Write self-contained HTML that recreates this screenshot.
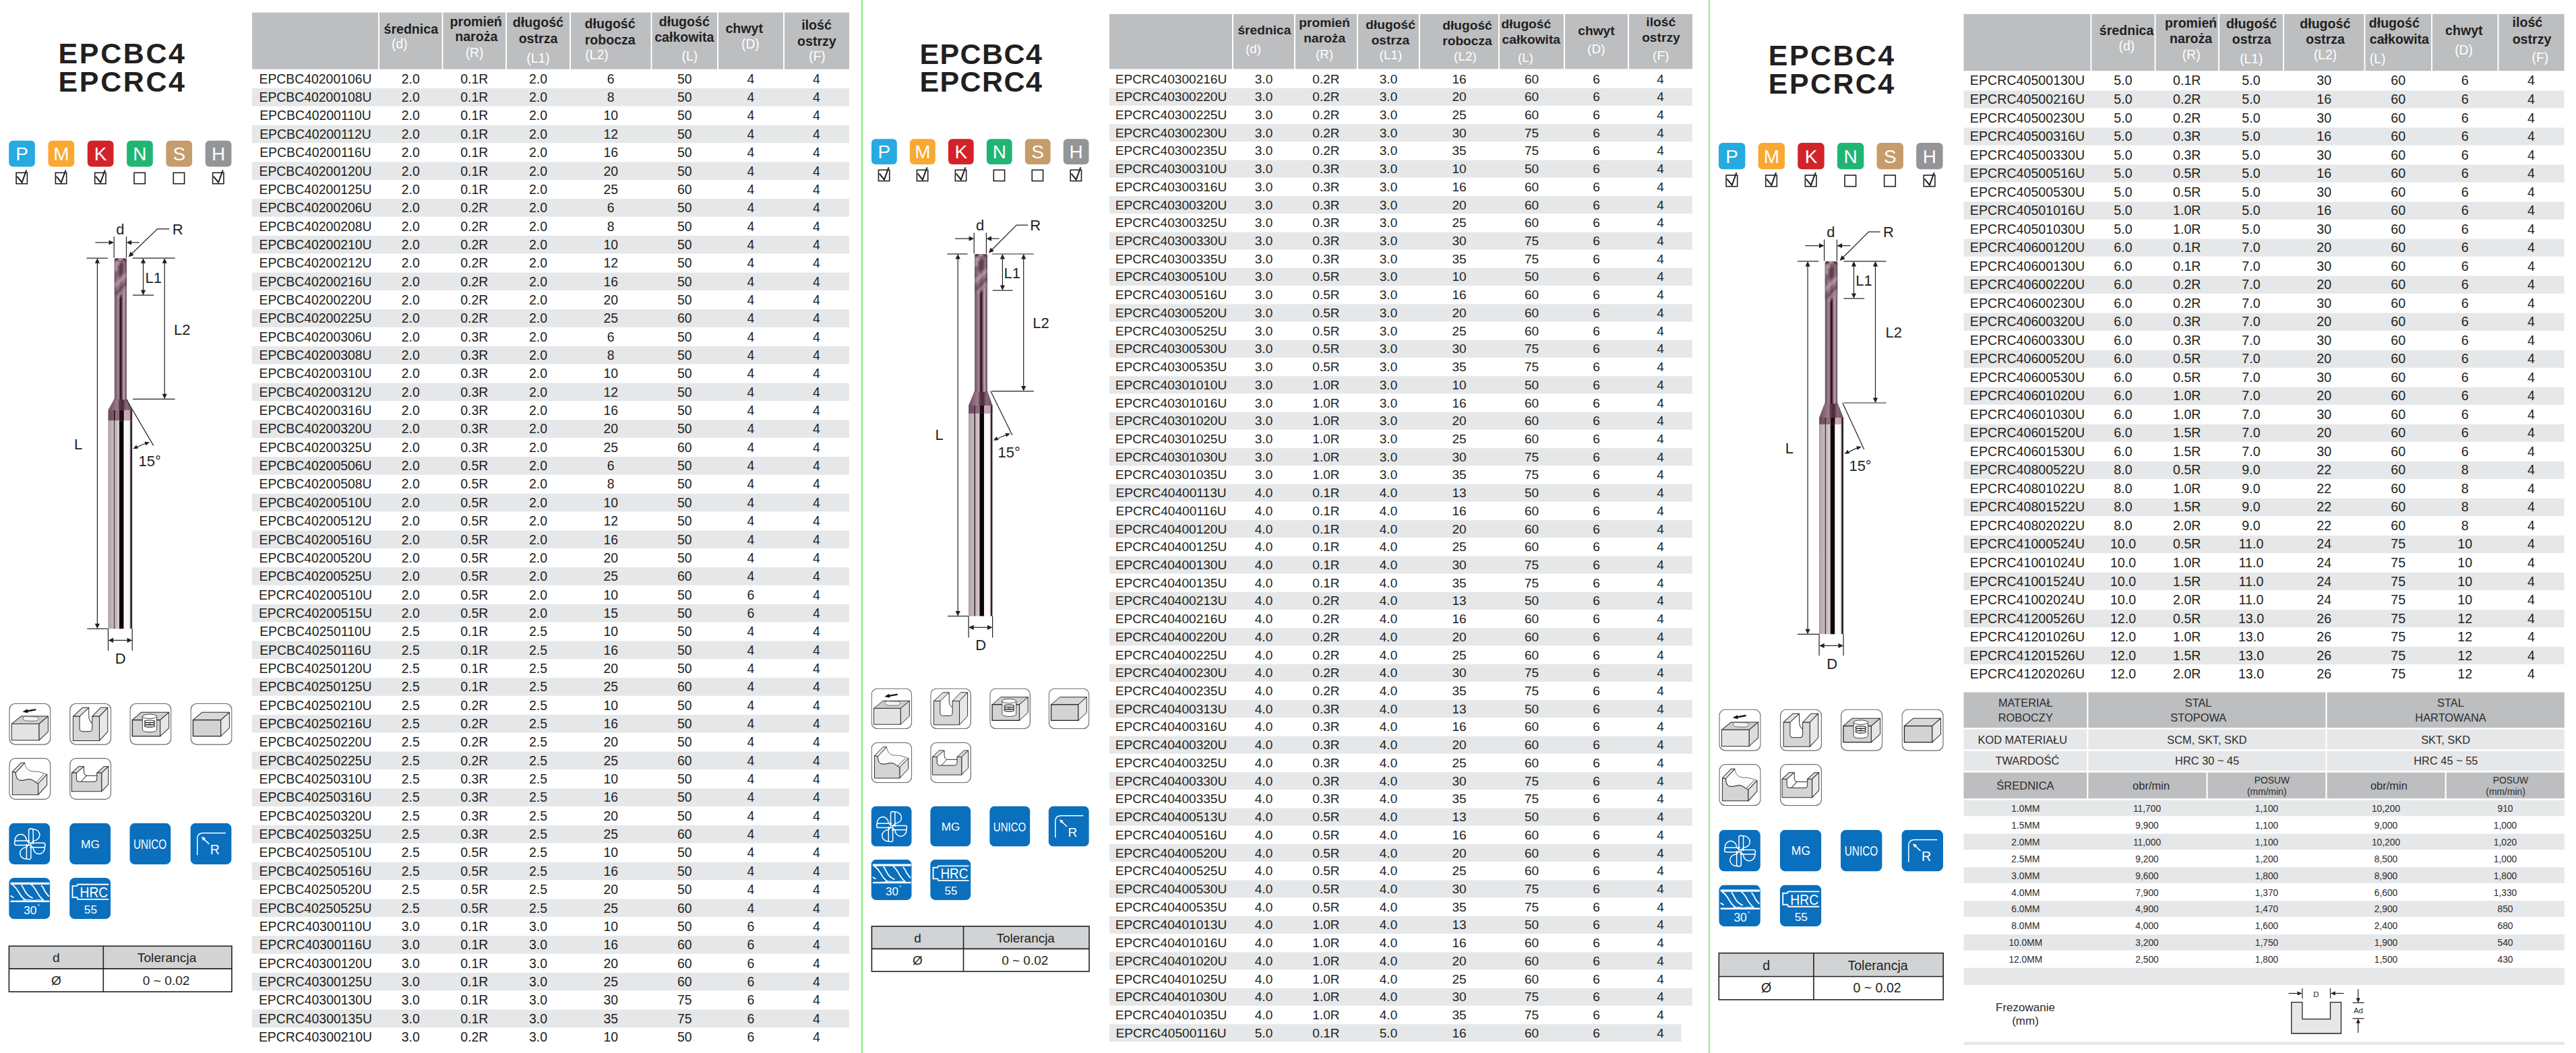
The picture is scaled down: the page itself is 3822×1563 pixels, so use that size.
<!DOCTYPE html>
<html lang="pl"><head><meta charset="utf-8"><title>EPCBC4 / EPCRC4</title>
<style>
html,body{margin:0;padding:0;background:#fff;}
body{width:3822px;height:1563px;overflow:hidden;}
svg{display:block;font-family:'Liberation Sans', sans-serif;}
</style></head>
<body>
<svg width="3822" height="1563" viewBox="0 0 3822 1563">
<defs>
<filter id="soft" x="-20%" y="-20%" width="140%" height="140%"><feGaussianBlur stdDeviation="0.9"/></filter>
<linearGradient id="coat" x1="0" x2="1" y1="0" y2="0">
<stop offset="0" stop-color="#6a5a62"/><stop offset="0.08" stop-color="#7a6068"/>
<stop offset="0.2" stop-color="#8e707c"/><stop offset="0.3" stop-color="#a88c98"/>
<stop offset="0.4" stop-color="#80606c"/><stop offset="0.47" stop-color="#3a1c28"/>
<stop offset="0.52" stop-color="#260c16"/><stop offset="0.58" stop-color="#4a2e3a"/>
<stop offset="0.64" stop-color="#7a5e6a"/><stop offset="0.78" stop-color="#c8a8b8"/>
<stop offset="0.88" stop-color="#8a7080"/><stop offset="1" stop-color="#62505a"/></linearGradient>
<linearGradient id="cone" x1="0" x2="1" y1="0" y2="0">
<stop offset="0" stop-color="#6a4a58"/><stop offset="0.2" stop-color="#86657a"/>
<stop offset="0.4" stop-color="#9c7c8c"/><stop offset="0.47" stop-color="#5a3a48"/>
<stop offset="0.6" stop-color="#4a2a38"/><stop offset="0.75" stop-color="#8a6a7a"/>
<stop offset="1" stop-color="#6a4a58"/></linearGradient>
<linearGradient id="band" x1="0" x2="1" y1="0" y2="0">
<stop offset="0" stop-color="#6a4a58"/><stop offset="0.23" stop-color="#7a5868"/>
<stop offset="0.24" stop-color="#3a2230"/><stop offset="0.28" stop-color="#3a2230"/>
<stop offset="0.29" stop-color="#8d6d7c"/><stop offset="0.46" stop-color="#8a6a78"/>
<stop offset="0.48" stop-color="#1e0c12"/><stop offset="0.64" stop-color="#1e0c12"/>
<stop offset="0.66" stop-color="#cda9b9"/><stop offset="0.91" stop-color="#c4a2b2"/>
<stop offset="0.93" stop-color="#3a2430"/><stop offset="1" stop-color="#3a2430"/></linearGradient>
<linearGradient id="shank" x1="0" x2="1" y1="0" y2="0">
<stop offset="0" stop-color="#978b90"/><stop offset="0.03" stop-color="#b2a6ab"/>
<stop offset="0.2" stop-color="#c6babf"/><stop offset="0.232" stop-color="#beb2b7"/>
<stop offset="0.24" stop-color="#3a2c30"/><stop offset="0.268" stop-color="#3a2c30"/>
<stop offset="0.28" stop-color="#bdb1b6"/><stop offset="0.45" stop-color="#dacdd2"/>
<stop offset="0.47" stop-color="#1a0e12"/><stop offset="0.5" stop-color="#0a0406"/>
<stop offset="0.63" stop-color="#0a0406"/><stop offset="0.655" stop-color="#f2eff0"/>
<stop offset="0.68" stop-color="#fbfafa"/><stop offset="0.88" stop-color="#f8f6f7"/>
<stop offset="0.915" stop-color="#b8a9ae"/><stop offset="0.935" stop-color="#2a2226"/>
<stop offset="0.985" stop-color="#2a2226"/><stop offset="1" stop-color="#6a6064"/></linearGradient>
<linearGradient id="tipg" x1="0" x2="1" y1="0" y2="0">
<stop offset="0" stop-color="#6a5060"/><stop offset="0.3" stop-color="#9a7a88"/>
<stop offset="0.55" stop-color="#7a5a68"/><stop offset="0.8" stop-color="#a08090"/>
<stop offset="1" stop-color="#5a4450"/></linearGradient>

<symbol id="pi1" viewBox="0 0 62 62"><rect x="0.7" y="0.7" width="60.6" height="60.6" rx="9" fill="#fff" stroke="#6d6e71" stroke-width="1.3"/>
<polygon points="4.1,30.6 44.7,30.6 58,19.3 18,19.3" fill="#cdcdcd" stroke="#2b2b2b" stroke-width="1" stroke-linejoin="round"/>
<rect x="4.1" y="30.6" width="40.6" height="24.3" fill="#e4e4e4" stroke="#2b2b2b" stroke-width="1" stroke-linejoin="round"/>
<polygon points="44.7,30.6 58,19.3 58,42.2 44.7,54.9" fill="#dcdcdc" stroke="#2b2b2b" stroke-width="1" stroke-linejoin="round"/>
<path d="M21,22.5 Q20,19.5 26,19.8 L40,20.2 Q45,20.6 43.5,24 Q42.5,26.4 38,26.4 L26,26.2 Q21.5,26 21,22.5 Z" fill="#f2f2f2" stroke="#555" stroke-width="0.8"/>
<path d="M39,9.7 L26,12" stroke="#111" stroke-width="2.4" stroke-linecap="round"/>
<path d="M20.2,12.9 L27.2,8.6 L28.3,14.6 Z" fill="#111"/>
</symbol>
<symbol id="pi2" viewBox="0 0 62 62"><rect x="0.7" y="0.7" width="60.6" height="60.6" rx="9" fill="#fff" stroke="#6d6e71" stroke-width="1.3"/>
<polygon points="5.3,19.6 15,19.6 28.6,6.6 19.3,6.6" fill="#e2e2e2" stroke="#2b2b2b" stroke-width="1" stroke-linejoin="round"/>
<polygon points="33.6,19.6 44.2,19.6 56.5,6.6 46.2,6.6" fill="#e2e2e2" stroke="#2b2b2b" stroke-width="1" stroke-linejoin="round"/>
<polygon points="44.2,19.6 56.5,6.6 56.5,42.2 44.2,55.5" fill="#e8e8e8" stroke="#2b2b2b" stroke-width="1" stroke-linejoin="round"/>
<path d="M28.6,6.6 V19 Q28.6,26.5 33.6,29.5" fill="none" stroke="#2b2b2b" stroke-width="1" stroke-linejoin="round"/>
<path d="M5.3,19.6 H15 V37.5 Q15,41.9 19.5,41.9 H29.2 Q33.6,41.9 33.6,37.5 V19.6 H44.2 V55.5 H5.3 Z" fill="#d6d6d6" stroke="#2b2b2b" stroke-width="1" stroke-linejoin="round"/>
</symbol>
<symbol id="pi3" viewBox="0 0 62 62"><rect x="0.7" y="0.7" width="60.6" height="60.6" rx="9" fill="#fff" stroke="#6d6e71" stroke-width="1.3"/>
<polygon points="4,24.9 45.2,24.9 58.2,13.6 17,13.6" fill="#cfcfcf" stroke="#2b2b2b" stroke-width="1" stroke-linejoin="round"/>
<rect x="4" y="24.9" width="41.2" height="24" fill="#d3d3d3" stroke="#222" stroke-width="1.3"/>
<polygon points="45.2,24.9 58.2,13.6 58.2,36.9 45.2,48.9" fill="#e6e6e6" stroke="#2b2b2b" stroke-width="1" stroke-linejoin="round"/>
<path d="M19,19.6 V39.6 A10.6,3.3 0 0 0 40.2,39.6 V19.6 Z" fill="#fff" stroke="#333" stroke-width="0.9"/>
<ellipse cx="29.6" cy="19.6" rx="10.6" ry="3.3" fill="#fff" stroke="#333" stroke-width="0.9"/>
<ellipse cx="29.6" cy="27" rx="7.6" ry="1.8" fill="none" stroke="#222" stroke-width="1.2"/>
<ellipse cx="29.6" cy="30.3" rx="7.6" ry="1.8" fill="none" stroke="#222" stroke-width="1.2"/>
<ellipse cx="29.6" cy="33.6" rx="7.6" ry="1.8" fill="none" stroke="#222" stroke-width="1.2"/>
<ellipse cx="29.6" cy="30.3" rx="2" ry="1" fill="#999"/>
</symbol>
<symbol id="pi4" viewBox="0 0 62 62"><rect x="0.7" y="0.7" width="60.6" height="60.6" rx="9" fill="#fff" stroke="#6d6e71" stroke-width="1.3"/>
<polygon points="4,24.9 45.2,24.9 57.8,13.6 17.3,13.6" fill="#d8d8d8" stroke="#2b2b2b" stroke-width="1" stroke-linejoin="round"/>
<rect x="4" y="24.9" width="41.2" height="24" fill="#d3d3d3" stroke="#222" stroke-width="1.3"/>
<polygon points="45.2,24.9 57.8,13.6 57.8,36.9 45.2,48.9" fill="#e8e8e8" stroke="#2b2b2b" stroke-width="1" stroke-linejoin="round"/>
</symbol>
<symbol id="pi5" viewBox="0 0 62 62"><rect x="0.7" y="0.7" width="60.6" height="60.6" rx="9" fill="#fff" stroke="#6d6e71" stroke-width="1.3"/>
<path d="M10.1,21.6 L23.4,7.3 C24,13 27,18 33,19.6 C38,20.8 41,19.3 44.7,20.6 L56.3,24.3 L43.4,37.9 C38.5,36.5 36,31.5 30,31.6 C24,31.8 21,34.2 16,33 C11,31.8 10.2,26.5 10.1,21.6 Z" fill="#fafafa" stroke="#444" stroke-width="0.8"/>
<polygon points="5.1,20.6 18.1,7.3 23.4,7.3 10.1,21.6" fill="#e8e8e8" stroke="#2b2b2b" stroke-width="1" stroke-linejoin="round"/>
<path d="M5.1,20.6 L10.1,21.6 C10.2,26.5 11,31.8 16,33 C21,34.2 24,31.8 30,31.6 C36,31.5 38.5,36.5 43.4,37.9 V54.5 H5.1 Z" fill="#d4d4d4" stroke="#2b2b2b" stroke-width="1" stroke-linejoin="round"/>
<polygon points="43.4,37.9 56.3,24.3 56.3,40.2 43.4,54.5" fill="#e2e2e2" stroke="#2b2b2b" stroke-width="1" stroke-linejoin="round"/>
<path d="M39.5,36.8 L52,24.3" stroke="#333" stroke-width="0.9"/>
</symbol>
<symbol id="pi6" viewBox="0 0 62 62"><rect x="0.7" y="0.7" width="60.6" height="60.6" rx="9" fill="#fff" stroke="#6d6e71" stroke-width="1.3"/>
<polygon points="3.3,22.3 10.3,22.3 21.3,12.6 13.6,12.6" fill="#dcdcdc" stroke="#2b2b2b" stroke-width="1" stroke-linejoin="round"/>
<polygon points="40.6,22.3 47.5,22.3 57.5,12.6 51.2,12.6" fill="#dcdcdc" stroke="#2b2b2b" stroke-width="1" stroke-linejoin="round"/>
<polygon points="47.5,22.3 57.5,12.6 57.5,39.2 47.5,49.5" fill="#e8e8e8" stroke="#2b2b2b" stroke-width="1" stroke-linejoin="round"/>
<path d="M21.3,12.6 V21 Q21.3,24.5 25,26.3 H40.6" fill="none" stroke="#2b2b2b" stroke-width="1" stroke-linejoin="round"/>
<path d="M25,26.3 L17.2,34.9" fill="none" stroke="#2b2b2b" stroke-width="1" stroke-linejoin="round"/>
<path d="M3.3,22.3 H10.3 V31 Q10.3,35.2 14.5,35.2 H36.4 Q40.6,35.2 40.6,31 V22.3 H47.5 V49.5 H3.3 Z" fill="#d4d4d4" stroke="#2b2b2b" stroke-width="1" stroke-linejoin="round"/>
</symbol>

<symbol id="bi1" viewBox="0 0 61 61"><rect width="61" height="61" rx="8" fill="#0A6FBD"/>
<g stroke="#fff" fill="none" stroke-width="1.5"><path d="M29.4,32 V10.6 Q29.4,8.3 32.6,8.3 Q35.9,8.3 35.9,10.6 V31 M35.9,8.8 A9.7,8.7 0 0 1 35.9,26.2 M35.9,26.2 L33,30"/><path d="M29.4,32 V10.6 Q29.4,8.3 32.6,8.3 Q35.9,8.3 35.9,10.6 V31 M35.9,8.8 A9.7,8.7 0 0 1 35.9,26.2 M35.9,26.2 L33,30" transform="rotate(90 31 31)"/><path d="M29.4,32 V10.6 Q29.4,8.3 32.6,8.3 Q35.9,8.3 35.9,10.6 V31 M35.9,8.8 A9.7,8.7 0 0 1 35.9,26.2 M35.9,26.2 L33,30" transform="rotate(180 31 31)"/><path d="M29.4,32 V10.6 Q29.4,8.3 32.6,8.3 Q35.9,8.3 35.9,10.6 V31 M35.9,8.8 A9.7,8.7 0 0 1 35.9,26.2 M35.9,26.2 L33,30" transform="rotate(270 31 31)"/></g></symbol>
<symbol id="bi2" viewBox="0 0 61 61"><rect width="61" height="61" rx="8" fill="#0A6FBD"/>
<text x="30.8" y="37" font-size="17.3" text-anchor="middle" fill="#fff">MG</text></symbol>
<symbol id="bi3" viewBox="0 0 61 61"><rect width="61" height="61" rx="8" fill="#0A6FBD"/>
<text x="5.7" y="37.7" font-size="19.3" fill="#fff" textLength="49.1" lengthAdjust="spacingAndGlyphs">UNICO</text></symbol>
<symbol id="bi4" viewBox="0 0 61 61"><rect width="61" height="61" rx="8" fill="#0A6FBD"/>
<path d="M10.3,47.4 V23 Q10.3,14.6 19,14.6 H52.4" stroke="#fff" fill="none" stroke-width="1.5"/>
<path d="M27.8,31 L19.5,23" stroke="#fff" fill="none" stroke-width="1.5"/><path d="M16.4,20 L22.6,22.2 L18.8,26 Z" fill="#fff"/>
<text x="29.2" y="45.9" font-size="19.5" fill="#fff">R</text></symbol>
<symbol id="bi5" viewBox="0 0 61 61"><rect width="61" height="61" rx="8" fill="#0A6FBD"/>
<rect x="2.4" y="6.8" width="57.6" height="3.2" fill="#fff"/><rect x="2.4" y="33.5" width="57.6" height="2.5" fill="#fff"/>
<g stroke="#fff" fill="none" stroke-width="1.8"><path d="M4.7,10 C9,12 12,17 15.3,22.4 C17,25.5 20,30 24.7,33"/><path d="M18.3,10.6 C21,13 22,17 23.6,19.4 C25,22.5 28,27 35.3,30"/>
<path d="M33,10 C36,12 40,18 43,23.6 C46,28 48,31 51.2,33"/><path d="M47.7,11.2 C50,13 52,17 53,19.4 C55,22.5 57,25.5 59.5,27.7"/><path d="M2.4,26.5 L7.1,29.4"/></g>
<path d="M20,33.5 Q28,31.5 36,33.5 M36,33.5 Q44,31.8 52,33.5" stroke="#fff" stroke-width="1" fill="none"/>
<text x="31.5" y="53.6" font-size="17.3" text-anchor="middle" fill="#fff">30</text>
<circle cx="43.9" cy="40.3" r="1.2" fill="none" stroke="#fff" stroke-width="0.6"/></symbol>
<symbol id="bi6" viewBox="0 0 61 61"><rect width="61" height="61" rx="8" fill="#0A6FBD"/>
<path d="M58,9.7 H12.1 L10.9,12.1 H4.4 V28.9 H11.2 L12.4,31.8 H58" stroke="#fff" fill="none" stroke-width="1.9"/>
<text x="15.4" y="28.9" font-size="21.8" fill="#fff" textLength="41.6" lengthAdjust="spacingAndGlyphs">HRC</text>
<text x="31.2" y="53.3" font-size="17.2" text-anchor="middle" fill="#fff">55</text></symbol>
</defs>
<rect width="3822" height="1563" fill="#ffffff"/>
<rect x="1277.2" y="0" width="3.6" height="1563" fill="#DDFADA"/>
<rect x="1278" y="0" width="1.9" height="1563" fill="#8FEE88"/>
<rect x="2534.2" y="0" width="3.4" height="1563" fill="#E2F8DF"/>
<rect x="2535" y="0" width="1.8" height="1563" fill="#A2E39C"/>
<rect x="374" y="18.6" width="187" height="84.1" fill="#BCBEC0"/>
<rect x="563" y="18.6" width="92.5" height="84.1" fill="#BCBEC0"/>
<rect x="657.5" y="18.6" width="92.5" height="84.1" fill="#BCBEC0"/>
<rect x="752" y="18.6" width="93" height="84.1" fill="#BCBEC0"/>
<rect x="847" y="18.6" width="118.5" height="84.1" fill="#BCBEC0"/>
<rect x="967.5" y="18.6" width="96.5" height="84.1" fill="#BCBEC0"/>
<rect x="1066" y="18.6" width="96" height="84.1" fill="#BCBEC0"/>
<rect x="1164" y="18.6" width="96" height="84.1" fill="#BCBEC0"/>
<text x="609.8" y="49.6" font-size="19.6" font-weight="bold" text-anchor="middle" fill="#231F20">średnica</text>
<text x="592.9" y="71.9" font-size="19.3" text-anchor="middle" fill="#FFFFFF">(d)</text>
<text x="706.2" y="38.5" font-size="19.6" font-weight="bold" text-anchor="middle" fill="#231F20">promień</text>
<text x="706.8" y="61.2" font-size="19.6" font-weight="bold" text-anchor="middle" fill="#231F20">naroża</text>
<text x="704.1" y="84.7" font-size="19.3" text-anchor="middle" fill="#FFFFFF">(R)</text>
<text x="798.4" y="39.7" font-size="19.6" font-weight="bold" text-anchor="middle" fill="#231F20">długość</text>
<text x="798.5" y="64.2" font-size="19.6" font-weight="bold" text-anchor="middle" fill="#231F20">ostrza</text>
<text x="798.5" y="92.8" font-size="19.3" text-anchor="middle" fill="#FFFFFF">(L1)</text>
<text x="905.1" y="41.7" font-size="19.6" font-weight="bold" text-anchor="middle" fill="#231F20">długość</text>
<text x="905.2" y="65.9" font-size="19.6" font-weight="bold" text-anchor="middle" fill="#231F20">robocza</text>
<text x="885.5" y="87.5" font-size="19.3" text-anchor="middle" fill="#FFFFFF">(L2)</text>
<text x="1015.3" y="39.2" font-size="19.6" font-weight="bold" text-anchor="middle" fill="#231F20">długość</text>
<text x="1015.3" y="61.8" font-size="19.6" font-weight="bold" text-anchor="middle" fill="#231F20">całkowita</text>
<text x="1023.3" y="90" font-size="19.3" text-anchor="middle" fill="#FFFFFF">(L)</text>
<text x="1104.2" y="49.2" font-size="19.6" font-weight="bold" text-anchor="middle" fill="#231F20">chwyt</text>
<text x="1113.4" y="72.4" font-size="19.3" text-anchor="middle" fill="#FFFFFF">(D)</text>
<text x="1211.5" y="44.2" font-size="19.6" font-weight="bold" text-anchor="middle" fill="#231F20">ilość</text>
<text x="1211.9" y="67.6" font-size="19.6" font-weight="bold" text-anchor="middle" fill="#231F20">ostrzy</text>
<text x="1212.3" y="90" font-size="19.3" text-anchor="middle" fill="#FFFFFF">(F)</text>
<text x="468" y="123.77" font-size="19.4" text-anchor="middle" fill="#231F20">EPCBC40200106U</text>
<text x="609.25" y="123.77" font-size="19.4" text-anchor="middle" fill="#231F20">2.0</text>
<text x="703.75" y="123.77" font-size="19.4" text-anchor="middle" fill="#231F20">0.1R</text>
<text x="798.5" y="123.77" font-size="19.4" text-anchor="middle" fill="#231F20">2.0</text>
<text x="906.25" y="123.77" font-size="19.4" text-anchor="middle" fill="#231F20">6</text>
<text x="1015.75" y="123.77" font-size="19.4" text-anchor="middle" fill="#231F20">50</text>
<text x="1114" y="123.77" font-size="19.4" text-anchor="middle" fill="#231F20">4</text>
<text x="1211.5" y="123.77" font-size="19.4" text-anchor="middle" fill="#231F20">4</text>
<rect x="374" y="131.05" width="886" height="26.55" fill="#E6E7E8"/>
<text x="468" y="151.13" font-size="19.4" text-anchor="middle" fill="#231F20">EPCBC40200108U</text>
<text x="609.25" y="151.13" font-size="19.4" text-anchor="middle" fill="#231F20">2.0</text>
<text x="703.75" y="151.13" font-size="19.4" text-anchor="middle" fill="#231F20">0.1R</text>
<text x="798.5" y="151.13" font-size="19.4" text-anchor="middle" fill="#231F20">2.0</text>
<text x="906.25" y="151.13" font-size="19.4" text-anchor="middle" fill="#231F20">8</text>
<text x="1015.75" y="151.13" font-size="19.4" text-anchor="middle" fill="#231F20">50</text>
<text x="1114" y="151.13" font-size="19.4" text-anchor="middle" fill="#231F20">4</text>
<text x="1211.5" y="151.13" font-size="19.4" text-anchor="middle" fill="#231F20">4</text>
<text x="468" y="178.48" font-size="19.4" text-anchor="middle" fill="#231F20">EPCBC40200110U</text>
<text x="609.25" y="178.48" font-size="19.4" text-anchor="middle" fill="#231F20">2.0</text>
<text x="703.75" y="178.48" font-size="19.4" text-anchor="middle" fill="#231F20">0.1R</text>
<text x="798.5" y="178.48" font-size="19.4" text-anchor="middle" fill="#231F20">2.0</text>
<text x="906.25" y="178.48" font-size="19.4" text-anchor="middle" fill="#231F20">10</text>
<text x="1015.75" y="178.48" font-size="19.4" text-anchor="middle" fill="#231F20">50</text>
<text x="1114" y="178.48" font-size="19.4" text-anchor="middle" fill="#231F20">4</text>
<text x="1211.5" y="178.48" font-size="19.4" text-anchor="middle" fill="#231F20">4</text>
<rect x="374" y="185.75" width="886" height="26.55" fill="#E6E7E8"/>
<text x="468" y="205.83" font-size="19.4" text-anchor="middle" fill="#231F20">EPCBC40200112U</text>
<text x="609.25" y="205.83" font-size="19.4" text-anchor="middle" fill="#231F20">2.0</text>
<text x="703.75" y="205.83" font-size="19.4" text-anchor="middle" fill="#231F20">0.1R</text>
<text x="798.5" y="205.83" font-size="19.4" text-anchor="middle" fill="#231F20">2.0</text>
<text x="906.25" y="205.83" font-size="19.4" text-anchor="middle" fill="#231F20">12</text>
<text x="1015.75" y="205.83" font-size="19.4" text-anchor="middle" fill="#231F20">50</text>
<text x="1114" y="205.83" font-size="19.4" text-anchor="middle" fill="#231F20">4</text>
<text x="1211.5" y="205.83" font-size="19.4" text-anchor="middle" fill="#231F20">4</text>
<text x="468" y="233.18" font-size="19.4" text-anchor="middle" fill="#231F20">EPCBC40200116U</text>
<text x="609.25" y="233.18" font-size="19.4" text-anchor="middle" fill="#231F20">2.0</text>
<text x="703.75" y="233.18" font-size="19.4" text-anchor="middle" fill="#231F20">0.1R</text>
<text x="798.5" y="233.18" font-size="19.4" text-anchor="middle" fill="#231F20">2.0</text>
<text x="906.25" y="233.18" font-size="19.4" text-anchor="middle" fill="#231F20">16</text>
<text x="1015.75" y="233.18" font-size="19.4" text-anchor="middle" fill="#231F20">50</text>
<text x="1114" y="233.18" font-size="19.4" text-anchor="middle" fill="#231F20">4</text>
<text x="1211.5" y="233.18" font-size="19.4" text-anchor="middle" fill="#231F20">4</text>
<rect x="374" y="240.45" width="886" height="26.55" fill="#E6E7E8"/>
<text x="468" y="260.53" font-size="19.4" text-anchor="middle" fill="#231F20">EPCBC40200120U</text>
<text x="609.25" y="260.53" font-size="19.4" text-anchor="middle" fill="#231F20">2.0</text>
<text x="703.75" y="260.53" font-size="19.4" text-anchor="middle" fill="#231F20">0.1R</text>
<text x="798.5" y="260.53" font-size="19.4" text-anchor="middle" fill="#231F20">2.0</text>
<text x="906.25" y="260.53" font-size="19.4" text-anchor="middle" fill="#231F20">20</text>
<text x="1015.75" y="260.53" font-size="19.4" text-anchor="middle" fill="#231F20">50</text>
<text x="1114" y="260.53" font-size="19.4" text-anchor="middle" fill="#231F20">4</text>
<text x="1211.5" y="260.53" font-size="19.4" text-anchor="middle" fill="#231F20">4</text>
<text x="468" y="287.88" font-size="19.4" text-anchor="middle" fill="#231F20">EPCBC40200125U</text>
<text x="609.25" y="287.88" font-size="19.4" text-anchor="middle" fill="#231F20">2.0</text>
<text x="703.75" y="287.88" font-size="19.4" text-anchor="middle" fill="#231F20">0.1R</text>
<text x="798.5" y="287.88" font-size="19.4" text-anchor="middle" fill="#231F20">2.0</text>
<text x="906.25" y="287.88" font-size="19.4" text-anchor="middle" fill="#231F20">25</text>
<text x="1015.75" y="287.88" font-size="19.4" text-anchor="middle" fill="#231F20">60</text>
<text x="1114" y="287.88" font-size="19.4" text-anchor="middle" fill="#231F20">4</text>
<text x="1211.5" y="287.88" font-size="19.4" text-anchor="middle" fill="#231F20">4</text>
<rect x="374" y="295.15" width="886" height="26.55" fill="#E6E7E8"/>
<text x="468" y="315.23" font-size="19.4" text-anchor="middle" fill="#231F20">EPCBC40200206U</text>
<text x="609.25" y="315.23" font-size="19.4" text-anchor="middle" fill="#231F20">2.0</text>
<text x="703.75" y="315.23" font-size="19.4" text-anchor="middle" fill="#231F20">0.2R</text>
<text x="798.5" y="315.23" font-size="19.4" text-anchor="middle" fill="#231F20">2.0</text>
<text x="906.25" y="315.23" font-size="19.4" text-anchor="middle" fill="#231F20">6</text>
<text x="1015.75" y="315.23" font-size="19.4" text-anchor="middle" fill="#231F20">50</text>
<text x="1114" y="315.23" font-size="19.4" text-anchor="middle" fill="#231F20">4</text>
<text x="1211.5" y="315.23" font-size="19.4" text-anchor="middle" fill="#231F20">4</text>
<text x="468" y="342.58" font-size="19.4" text-anchor="middle" fill="#231F20">EPCBC40200208U</text>
<text x="609.25" y="342.58" font-size="19.4" text-anchor="middle" fill="#231F20">2.0</text>
<text x="703.75" y="342.58" font-size="19.4" text-anchor="middle" fill="#231F20">0.2R</text>
<text x="798.5" y="342.58" font-size="19.4" text-anchor="middle" fill="#231F20">2.0</text>
<text x="906.25" y="342.58" font-size="19.4" text-anchor="middle" fill="#231F20">8</text>
<text x="1015.75" y="342.58" font-size="19.4" text-anchor="middle" fill="#231F20">50</text>
<text x="1114" y="342.58" font-size="19.4" text-anchor="middle" fill="#231F20">4</text>
<text x="1211.5" y="342.58" font-size="19.4" text-anchor="middle" fill="#231F20">4</text>
<rect x="374" y="349.85" width="886" height="26.55" fill="#E6E7E8"/>
<text x="468" y="369.93" font-size="19.4" text-anchor="middle" fill="#231F20">EPCBC40200210U</text>
<text x="609.25" y="369.93" font-size="19.4" text-anchor="middle" fill="#231F20">2.0</text>
<text x="703.75" y="369.93" font-size="19.4" text-anchor="middle" fill="#231F20">0.2R</text>
<text x="798.5" y="369.93" font-size="19.4" text-anchor="middle" fill="#231F20">2.0</text>
<text x="906.25" y="369.93" font-size="19.4" text-anchor="middle" fill="#231F20">10</text>
<text x="1015.75" y="369.93" font-size="19.4" text-anchor="middle" fill="#231F20">50</text>
<text x="1114" y="369.93" font-size="19.4" text-anchor="middle" fill="#231F20">4</text>
<text x="1211.5" y="369.93" font-size="19.4" text-anchor="middle" fill="#231F20">4</text>
<text x="468" y="397.28" font-size="19.4" text-anchor="middle" fill="#231F20">EPCBC40200212U</text>
<text x="609.25" y="397.28" font-size="19.4" text-anchor="middle" fill="#231F20">2.0</text>
<text x="703.75" y="397.28" font-size="19.4" text-anchor="middle" fill="#231F20">0.2R</text>
<text x="798.5" y="397.28" font-size="19.4" text-anchor="middle" fill="#231F20">2.0</text>
<text x="906.25" y="397.28" font-size="19.4" text-anchor="middle" fill="#231F20">12</text>
<text x="1015.75" y="397.28" font-size="19.4" text-anchor="middle" fill="#231F20">50</text>
<text x="1114" y="397.28" font-size="19.4" text-anchor="middle" fill="#231F20">4</text>
<text x="1211.5" y="397.28" font-size="19.4" text-anchor="middle" fill="#231F20">4</text>
<rect x="374" y="404.55" width="886" height="26.55" fill="#E6E7E8"/>
<text x="468" y="424.63" font-size="19.4" text-anchor="middle" fill="#231F20">EPCBC40200216U</text>
<text x="609.25" y="424.63" font-size="19.4" text-anchor="middle" fill="#231F20">2.0</text>
<text x="703.75" y="424.63" font-size="19.4" text-anchor="middle" fill="#231F20">0.2R</text>
<text x="798.5" y="424.63" font-size="19.4" text-anchor="middle" fill="#231F20">2.0</text>
<text x="906.25" y="424.63" font-size="19.4" text-anchor="middle" fill="#231F20">16</text>
<text x="1015.75" y="424.63" font-size="19.4" text-anchor="middle" fill="#231F20">50</text>
<text x="1114" y="424.63" font-size="19.4" text-anchor="middle" fill="#231F20">4</text>
<text x="1211.5" y="424.63" font-size="19.4" text-anchor="middle" fill="#231F20">4</text>
<text x="468" y="451.98" font-size="19.4" text-anchor="middle" fill="#231F20">EPCBC40200220U</text>
<text x="609.25" y="451.98" font-size="19.4" text-anchor="middle" fill="#231F20">2.0</text>
<text x="703.75" y="451.98" font-size="19.4" text-anchor="middle" fill="#231F20">0.2R</text>
<text x="798.5" y="451.98" font-size="19.4" text-anchor="middle" fill="#231F20">2.0</text>
<text x="906.25" y="451.98" font-size="19.4" text-anchor="middle" fill="#231F20">20</text>
<text x="1015.75" y="451.98" font-size="19.4" text-anchor="middle" fill="#231F20">50</text>
<text x="1114" y="451.98" font-size="19.4" text-anchor="middle" fill="#231F20">4</text>
<text x="1211.5" y="451.98" font-size="19.4" text-anchor="middle" fill="#231F20">4</text>
<rect x="374" y="459.25" width="886" height="26.55" fill="#E6E7E8"/>
<text x="468" y="479.33" font-size="19.4" text-anchor="middle" fill="#231F20">EPCBC40200225U</text>
<text x="609.25" y="479.33" font-size="19.4" text-anchor="middle" fill="#231F20">2.0</text>
<text x="703.75" y="479.33" font-size="19.4" text-anchor="middle" fill="#231F20">0.2R</text>
<text x="798.5" y="479.33" font-size="19.4" text-anchor="middle" fill="#231F20">2.0</text>
<text x="906.25" y="479.33" font-size="19.4" text-anchor="middle" fill="#231F20">25</text>
<text x="1015.75" y="479.33" font-size="19.4" text-anchor="middle" fill="#231F20">60</text>
<text x="1114" y="479.33" font-size="19.4" text-anchor="middle" fill="#231F20">4</text>
<text x="1211.5" y="479.33" font-size="19.4" text-anchor="middle" fill="#231F20">4</text>
<text x="468" y="506.68" font-size="19.4" text-anchor="middle" fill="#231F20">EPCBC40200306U</text>
<text x="609.25" y="506.68" font-size="19.4" text-anchor="middle" fill="#231F20">2.0</text>
<text x="703.75" y="506.68" font-size="19.4" text-anchor="middle" fill="#231F20">0.3R</text>
<text x="798.5" y="506.68" font-size="19.4" text-anchor="middle" fill="#231F20">2.0</text>
<text x="906.25" y="506.68" font-size="19.4" text-anchor="middle" fill="#231F20">6</text>
<text x="1015.75" y="506.68" font-size="19.4" text-anchor="middle" fill="#231F20">50</text>
<text x="1114" y="506.68" font-size="19.4" text-anchor="middle" fill="#231F20">4</text>
<text x="1211.5" y="506.68" font-size="19.4" text-anchor="middle" fill="#231F20">4</text>
<rect x="374" y="513.95" width="886" height="26.55" fill="#E6E7E8"/>
<text x="468" y="534.02" font-size="19.4" text-anchor="middle" fill="#231F20">EPCBC40200308U</text>
<text x="609.25" y="534.02" font-size="19.4" text-anchor="middle" fill="#231F20">2.0</text>
<text x="703.75" y="534.02" font-size="19.4" text-anchor="middle" fill="#231F20">0.3R</text>
<text x="798.5" y="534.02" font-size="19.4" text-anchor="middle" fill="#231F20">2.0</text>
<text x="906.25" y="534.02" font-size="19.4" text-anchor="middle" fill="#231F20">8</text>
<text x="1015.75" y="534.02" font-size="19.4" text-anchor="middle" fill="#231F20">50</text>
<text x="1114" y="534.02" font-size="19.4" text-anchor="middle" fill="#231F20">4</text>
<text x="1211.5" y="534.02" font-size="19.4" text-anchor="middle" fill="#231F20">4</text>
<text x="468" y="561.37" font-size="19.4" text-anchor="middle" fill="#231F20">EPCBC40200310U</text>
<text x="609.25" y="561.37" font-size="19.4" text-anchor="middle" fill="#231F20">2.0</text>
<text x="703.75" y="561.37" font-size="19.4" text-anchor="middle" fill="#231F20">0.3R</text>
<text x="798.5" y="561.37" font-size="19.4" text-anchor="middle" fill="#231F20">2.0</text>
<text x="906.25" y="561.37" font-size="19.4" text-anchor="middle" fill="#231F20">10</text>
<text x="1015.75" y="561.37" font-size="19.4" text-anchor="middle" fill="#231F20">50</text>
<text x="1114" y="561.37" font-size="19.4" text-anchor="middle" fill="#231F20">4</text>
<text x="1211.5" y="561.37" font-size="19.4" text-anchor="middle" fill="#231F20">4</text>
<rect x="374" y="568.65" width="886" height="26.55" fill="#E6E7E8"/>
<text x="468" y="588.72" font-size="19.4" text-anchor="middle" fill="#231F20">EPCBC40200312U</text>
<text x="609.25" y="588.72" font-size="19.4" text-anchor="middle" fill="#231F20">2.0</text>
<text x="703.75" y="588.72" font-size="19.4" text-anchor="middle" fill="#231F20">0.3R</text>
<text x="798.5" y="588.72" font-size="19.4" text-anchor="middle" fill="#231F20">2.0</text>
<text x="906.25" y="588.72" font-size="19.4" text-anchor="middle" fill="#231F20">12</text>
<text x="1015.75" y="588.72" font-size="19.4" text-anchor="middle" fill="#231F20">50</text>
<text x="1114" y="588.72" font-size="19.4" text-anchor="middle" fill="#231F20">4</text>
<text x="1211.5" y="588.72" font-size="19.4" text-anchor="middle" fill="#231F20">4</text>
<text x="468" y="616.07" font-size="19.4" text-anchor="middle" fill="#231F20">EPCBC40200316U</text>
<text x="609.25" y="616.07" font-size="19.4" text-anchor="middle" fill="#231F20">2.0</text>
<text x="703.75" y="616.07" font-size="19.4" text-anchor="middle" fill="#231F20">0.3R</text>
<text x="798.5" y="616.07" font-size="19.4" text-anchor="middle" fill="#231F20">2.0</text>
<text x="906.25" y="616.07" font-size="19.4" text-anchor="middle" fill="#231F20">16</text>
<text x="1015.75" y="616.07" font-size="19.4" text-anchor="middle" fill="#231F20">50</text>
<text x="1114" y="616.07" font-size="19.4" text-anchor="middle" fill="#231F20">4</text>
<text x="1211.5" y="616.07" font-size="19.4" text-anchor="middle" fill="#231F20">4</text>
<rect x="374" y="623.35" width="886" height="26.55" fill="#E6E7E8"/>
<text x="468" y="643.42" font-size="19.4" text-anchor="middle" fill="#231F20">EPCBC40200320U</text>
<text x="609.25" y="643.42" font-size="19.4" text-anchor="middle" fill="#231F20">2.0</text>
<text x="703.75" y="643.42" font-size="19.4" text-anchor="middle" fill="#231F20">0.3R</text>
<text x="798.5" y="643.42" font-size="19.4" text-anchor="middle" fill="#231F20">2.0</text>
<text x="906.25" y="643.42" font-size="19.4" text-anchor="middle" fill="#231F20">20</text>
<text x="1015.75" y="643.42" font-size="19.4" text-anchor="middle" fill="#231F20">50</text>
<text x="1114" y="643.42" font-size="19.4" text-anchor="middle" fill="#231F20">4</text>
<text x="1211.5" y="643.42" font-size="19.4" text-anchor="middle" fill="#231F20">4</text>
<text x="468" y="670.77" font-size="19.4" text-anchor="middle" fill="#231F20">EPCBC40200325U</text>
<text x="609.25" y="670.77" font-size="19.4" text-anchor="middle" fill="#231F20">2.0</text>
<text x="703.75" y="670.77" font-size="19.4" text-anchor="middle" fill="#231F20">0.3R</text>
<text x="798.5" y="670.77" font-size="19.4" text-anchor="middle" fill="#231F20">2.0</text>
<text x="906.25" y="670.77" font-size="19.4" text-anchor="middle" fill="#231F20">25</text>
<text x="1015.75" y="670.77" font-size="19.4" text-anchor="middle" fill="#231F20">60</text>
<text x="1114" y="670.77" font-size="19.4" text-anchor="middle" fill="#231F20">4</text>
<text x="1211.5" y="670.77" font-size="19.4" text-anchor="middle" fill="#231F20">4</text>
<rect x="374" y="678.05" width="886" height="26.55" fill="#E6E7E8"/>
<text x="468" y="698.12" font-size="19.4" text-anchor="middle" fill="#231F20">EPCBC40200506U</text>
<text x="609.25" y="698.12" font-size="19.4" text-anchor="middle" fill="#231F20">2.0</text>
<text x="703.75" y="698.12" font-size="19.4" text-anchor="middle" fill="#231F20">0.5R</text>
<text x="798.5" y="698.12" font-size="19.4" text-anchor="middle" fill="#231F20">2.0</text>
<text x="906.25" y="698.12" font-size="19.4" text-anchor="middle" fill="#231F20">6</text>
<text x="1015.75" y="698.12" font-size="19.4" text-anchor="middle" fill="#231F20">50</text>
<text x="1114" y="698.12" font-size="19.4" text-anchor="middle" fill="#231F20">4</text>
<text x="1211.5" y="698.12" font-size="19.4" text-anchor="middle" fill="#231F20">4</text>
<text x="468" y="725.47" font-size="19.4" text-anchor="middle" fill="#231F20">EPCBC40200508U</text>
<text x="609.25" y="725.47" font-size="19.4" text-anchor="middle" fill="#231F20">2.0</text>
<text x="703.75" y="725.47" font-size="19.4" text-anchor="middle" fill="#231F20">0.5R</text>
<text x="798.5" y="725.47" font-size="19.4" text-anchor="middle" fill="#231F20">2.0</text>
<text x="906.25" y="725.47" font-size="19.4" text-anchor="middle" fill="#231F20">8</text>
<text x="1015.75" y="725.47" font-size="19.4" text-anchor="middle" fill="#231F20">50</text>
<text x="1114" y="725.47" font-size="19.4" text-anchor="middle" fill="#231F20">4</text>
<text x="1211.5" y="725.47" font-size="19.4" text-anchor="middle" fill="#231F20">4</text>
<rect x="374" y="732.75" width="886" height="26.55" fill="#E6E7E8"/>
<text x="468" y="752.82" font-size="19.4" text-anchor="middle" fill="#231F20">EPCBC40200510U</text>
<text x="609.25" y="752.82" font-size="19.4" text-anchor="middle" fill="#231F20">2.0</text>
<text x="703.75" y="752.82" font-size="19.4" text-anchor="middle" fill="#231F20">0.5R</text>
<text x="798.5" y="752.82" font-size="19.4" text-anchor="middle" fill="#231F20">2.0</text>
<text x="906.25" y="752.82" font-size="19.4" text-anchor="middle" fill="#231F20">10</text>
<text x="1015.75" y="752.82" font-size="19.4" text-anchor="middle" fill="#231F20">50</text>
<text x="1114" y="752.82" font-size="19.4" text-anchor="middle" fill="#231F20">4</text>
<text x="1211.5" y="752.82" font-size="19.4" text-anchor="middle" fill="#231F20">4</text>
<text x="468" y="780.17" font-size="19.4" text-anchor="middle" fill="#231F20">EPCBC40200512U</text>
<text x="609.25" y="780.17" font-size="19.4" text-anchor="middle" fill="#231F20">2.0</text>
<text x="703.75" y="780.17" font-size="19.4" text-anchor="middle" fill="#231F20">0.5R</text>
<text x="798.5" y="780.17" font-size="19.4" text-anchor="middle" fill="#231F20">2.0</text>
<text x="906.25" y="780.17" font-size="19.4" text-anchor="middle" fill="#231F20">12</text>
<text x="1015.75" y="780.17" font-size="19.4" text-anchor="middle" fill="#231F20">50</text>
<text x="1114" y="780.17" font-size="19.4" text-anchor="middle" fill="#231F20">4</text>
<text x="1211.5" y="780.17" font-size="19.4" text-anchor="middle" fill="#231F20">4</text>
<rect x="374" y="787.45" width="886" height="26.55" fill="#E6E7E8"/>
<text x="468" y="807.52" font-size="19.4" text-anchor="middle" fill="#231F20">EPCBC40200516U</text>
<text x="609.25" y="807.52" font-size="19.4" text-anchor="middle" fill="#231F20">2.0</text>
<text x="703.75" y="807.52" font-size="19.4" text-anchor="middle" fill="#231F20">0.5R</text>
<text x="798.5" y="807.52" font-size="19.4" text-anchor="middle" fill="#231F20">2.0</text>
<text x="906.25" y="807.52" font-size="19.4" text-anchor="middle" fill="#231F20">16</text>
<text x="1015.75" y="807.52" font-size="19.4" text-anchor="middle" fill="#231F20">50</text>
<text x="1114" y="807.52" font-size="19.4" text-anchor="middle" fill="#231F20">4</text>
<text x="1211.5" y="807.52" font-size="19.4" text-anchor="middle" fill="#231F20">4</text>
<text x="468" y="834.87" font-size="19.4" text-anchor="middle" fill="#231F20">EPCBC40200520U</text>
<text x="609.25" y="834.87" font-size="19.4" text-anchor="middle" fill="#231F20">2.0</text>
<text x="703.75" y="834.87" font-size="19.4" text-anchor="middle" fill="#231F20">0.5R</text>
<text x="798.5" y="834.87" font-size="19.4" text-anchor="middle" fill="#231F20">2.0</text>
<text x="906.25" y="834.87" font-size="19.4" text-anchor="middle" fill="#231F20">20</text>
<text x="1015.75" y="834.87" font-size="19.4" text-anchor="middle" fill="#231F20">50</text>
<text x="1114" y="834.87" font-size="19.4" text-anchor="middle" fill="#231F20">4</text>
<text x="1211.5" y="834.87" font-size="19.4" text-anchor="middle" fill="#231F20">4</text>
<rect x="374" y="842.15" width="886" height="26.55" fill="#E6E7E8"/>
<text x="468" y="862.22" font-size="19.4" text-anchor="middle" fill="#231F20">EPCBC40200525U</text>
<text x="609.25" y="862.22" font-size="19.4" text-anchor="middle" fill="#231F20">2.0</text>
<text x="703.75" y="862.22" font-size="19.4" text-anchor="middle" fill="#231F20">0.5R</text>
<text x="798.5" y="862.22" font-size="19.4" text-anchor="middle" fill="#231F20">2.0</text>
<text x="906.25" y="862.22" font-size="19.4" text-anchor="middle" fill="#231F20">25</text>
<text x="1015.75" y="862.22" font-size="19.4" text-anchor="middle" fill="#231F20">60</text>
<text x="1114" y="862.22" font-size="19.4" text-anchor="middle" fill="#231F20">4</text>
<text x="1211.5" y="862.22" font-size="19.4" text-anchor="middle" fill="#231F20">4</text>
<text x="468" y="889.57" font-size="19.4" text-anchor="middle" fill="#231F20">EPCRC40200510U</text>
<text x="609.25" y="889.57" font-size="19.4" text-anchor="middle" fill="#231F20">2.0</text>
<text x="703.75" y="889.57" font-size="19.4" text-anchor="middle" fill="#231F20">0.5R</text>
<text x="798.5" y="889.57" font-size="19.4" text-anchor="middle" fill="#231F20">2.0</text>
<text x="906.25" y="889.57" font-size="19.4" text-anchor="middle" fill="#231F20">10</text>
<text x="1015.75" y="889.57" font-size="19.4" text-anchor="middle" fill="#231F20">50</text>
<text x="1114" y="889.57" font-size="19.4" text-anchor="middle" fill="#231F20">6</text>
<text x="1211.5" y="889.57" font-size="19.4" text-anchor="middle" fill="#231F20">4</text>
<rect x="374" y="896.85" width="886" height="26.55" fill="#E6E7E8"/>
<text x="468" y="916.92" font-size="19.4" text-anchor="middle" fill="#231F20">EPCRC40200515U</text>
<text x="609.25" y="916.92" font-size="19.4" text-anchor="middle" fill="#231F20">2.0</text>
<text x="703.75" y="916.92" font-size="19.4" text-anchor="middle" fill="#231F20">0.5R</text>
<text x="798.5" y="916.92" font-size="19.4" text-anchor="middle" fill="#231F20">2.0</text>
<text x="906.25" y="916.92" font-size="19.4" text-anchor="middle" fill="#231F20">15</text>
<text x="1015.75" y="916.92" font-size="19.4" text-anchor="middle" fill="#231F20">50</text>
<text x="1114" y="916.92" font-size="19.4" text-anchor="middle" fill="#231F20">6</text>
<text x="1211.5" y="916.92" font-size="19.4" text-anchor="middle" fill="#231F20">4</text>
<text x="468" y="944.27" font-size="19.4" text-anchor="middle" fill="#231F20">EPCBC40250110U</text>
<text x="609.25" y="944.27" font-size="19.4" text-anchor="middle" fill="#231F20">2.5</text>
<text x="703.75" y="944.27" font-size="19.4" text-anchor="middle" fill="#231F20">0.1R</text>
<text x="798.5" y="944.27" font-size="19.4" text-anchor="middle" fill="#231F20">2.5</text>
<text x="906.25" y="944.27" font-size="19.4" text-anchor="middle" fill="#231F20">10</text>
<text x="1015.75" y="944.27" font-size="19.4" text-anchor="middle" fill="#231F20">50</text>
<text x="1114" y="944.27" font-size="19.4" text-anchor="middle" fill="#231F20">4</text>
<text x="1211.5" y="944.27" font-size="19.4" text-anchor="middle" fill="#231F20">4</text>
<rect x="374" y="951.55" width="886" height="26.55" fill="#E6E7E8"/>
<text x="468" y="971.62" font-size="19.4" text-anchor="middle" fill="#231F20">EPCBC40250116U</text>
<text x="609.25" y="971.62" font-size="19.4" text-anchor="middle" fill="#231F20">2.5</text>
<text x="703.75" y="971.62" font-size="19.4" text-anchor="middle" fill="#231F20">0.1R</text>
<text x="798.5" y="971.62" font-size="19.4" text-anchor="middle" fill="#231F20">2.5</text>
<text x="906.25" y="971.62" font-size="19.4" text-anchor="middle" fill="#231F20">16</text>
<text x="1015.75" y="971.62" font-size="19.4" text-anchor="middle" fill="#231F20">50</text>
<text x="1114" y="971.62" font-size="19.4" text-anchor="middle" fill="#231F20">4</text>
<text x="1211.5" y="971.62" font-size="19.4" text-anchor="middle" fill="#231F20">4</text>
<text x="468" y="998.97" font-size="19.4" text-anchor="middle" fill="#231F20">EPCBC40250120U</text>
<text x="609.25" y="998.97" font-size="19.4" text-anchor="middle" fill="#231F20">2.5</text>
<text x="703.75" y="998.97" font-size="19.4" text-anchor="middle" fill="#231F20">0.1R</text>
<text x="798.5" y="998.97" font-size="19.4" text-anchor="middle" fill="#231F20">2.5</text>
<text x="906.25" y="998.97" font-size="19.4" text-anchor="middle" fill="#231F20">20</text>
<text x="1015.75" y="998.97" font-size="19.4" text-anchor="middle" fill="#231F20">50</text>
<text x="1114" y="998.97" font-size="19.4" text-anchor="middle" fill="#231F20">4</text>
<text x="1211.5" y="998.97" font-size="19.4" text-anchor="middle" fill="#231F20">4</text>
<rect x="374" y="1006.25" width="886" height="26.55" fill="#E6E7E8"/>
<text x="468" y="1026.33" font-size="19.4" text-anchor="middle" fill="#231F20">EPCBC40250125U</text>
<text x="609.25" y="1026.33" font-size="19.4" text-anchor="middle" fill="#231F20">2.5</text>
<text x="703.75" y="1026.33" font-size="19.4" text-anchor="middle" fill="#231F20">0.1R</text>
<text x="798.5" y="1026.33" font-size="19.4" text-anchor="middle" fill="#231F20">2.5</text>
<text x="906.25" y="1026.33" font-size="19.4" text-anchor="middle" fill="#231F20">25</text>
<text x="1015.75" y="1026.33" font-size="19.4" text-anchor="middle" fill="#231F20">60</text>
<text x="1114" y="1026.33" font-size="19.4" text-anchor="middle" fill="#231F20">4</text>
<text x="1211.5" y="1026.33" font-size="19.4" text-anchor="middle" fill="#231F20">4</text>
<text x="468" y="1053.67" font-size="19.4" text-anchor="middle" fill="#231F20">EPCBC40250210U</text>
<text x="609.25" y="1053.67" font-size="19.4" text-anchor="middle" fill="#231F20">2.5</text>
<text x="703.75" y="1053.67" font-size="19.4" text-anchor="middle" fill="#231F20">0.2R</text>
<text x="798.5" y="1053.67" font-size="19.4" text-anchor="middle" fill="#231F20">2.5</text>
<text x="906.25" y="1053.67" font-size="19.4" text-anchor="middle" fill="#231F20">10</text>
<text x="1015.75" y="1053.67" font-size="19.4" text-anchor="middle" fill="#231F20">50</text>
<text x="1114" y="1053.67" font-size="19.4" text-anchor="middle" fill="#231F20">4</text>
<text x="1211.5" y="1053.67" font-size="19.4" text-anchor="middle" fill="#231F20">4</text>
<rect x="374" y="1060.95" width="886" height="26.55" fill="#E6E7E8"/>
<text x="468" y="1081.02" font-size="19.4" text-anchor="middle" fill="#231F20">EPCBC40250216U</text>
<text x="609.25" y="1081.02" font-size="19.4" text-anchor="middle" fill="#231F20">2.5</text>
<text x="703.75" y="1081.02" font-size="19.4" text-anchor="middle" fill="#231F20">0.2R</text>
<text x="798.5" y="1081.02" font-size="19.4" text-anchor="middle" fill="#231F20">2.5</text>
<text x="906.25" y="1081.02" font-size="19.4" text-anchor="middle" fill="#231F20">16</text>
<text x="1015.75" y="1081.02" font-size="19.4" text-anchor="middle" fill="#231F20">50</text>
<text x="1114" y="1081.02" font-size="19.4" text-anchor="middle" fill="#231F20">4</text>
<text x="1211.5" y="1081.02" font-size="19.4" text-anchor="middle" fill="#231F20">4</text>
<text x="468" y="1108.38" font-size="19.4" text-anchor="middle" fill="#231F20">EPCBC40250220U</text>
<text x="609.25" y="1108.38" font-size="19.4" text-anchor="middle" fill="#231F20">2.5</text>
<text x="703.75" y="1108.38" font-size="19.4" text-anchor="middle" fill="#231F20">0.2R</text>
<text x="798.5" y="1108.38" font-size="19.4" text-anchor="middle" fill="#231F20">2.5</text>
<text x="906.25" y="1108.38" font-size="19.4" text-anchor="middle" fill="#231F20">20</text>
<text x="1015.75" y="1108.38" font-size="19.4" text-anchor="middle" fill="#231F20">50</text>
<text x="1114" y="1108.38" font-size="19.4" text-anchor="middle" fill="#231F20">4</text>
<text x="1211.5" y="1108.38" font-size="19.4" text-anchor="middle" fill="#231F20">4</text>
<rect x="374" y="1115.65" width="886" height="26.55" fill="#E6E7E8"/>
<text x="468" y="1135.72" font-size="19.4" text-anchor="middle" fill="#231F20">EPCBC40250225U</text>
<text x="609.25" y="1135.72" font-size="19.4" text-anchor="middle" fill="#231F20">2.5</text>
<text x="703.75" y="1135.72" font-size="19.4" text-anchor="middle" fill="#231F20">0.2R</text>
<text x="798.5" y="1135.72" font-size="19.4" text-anchor="middle" fill="#231F20">2.5</text>
<text x="906.25" y="1135.72" font-size="19.4" text-anchor="middle" fill="#231F20">25</text>
<text x="1015.75" y="1135.72" font-size="19.4" text-anchor="middle" fill="#231F20">60</text>
<text x="1114" y="1135.72" font-size="19.4" text-anchor="middle" fill="#231F20">4</text>
<text x="1211.5" y="1135.72" font-size="19.4" text-anchor="middle" fill="#231F20">4</text>
<text x="468" y="1163.07" font-size="19.4" text-anchor="middle" fill="#231F20">EPCBC40250310U</text>
<text x="609.25" y="1163.07" font-size="19.4" text-anchor="middle" fill="#231F20">2.5</text>
<text x="703.75" y="1163.07" font-size="19.4" text-anchor="middle" fill="#231F20">0.3R</text>
<text x="798.5" y="1163.07" font-size="19.4" text-anchor="middle" fill="#231F20">2.5</text>
<text x="906.25" y="1163.07" font-size="19.4" text-anchor="middle" fill="#231F20">10</text>
<text x="1015.75" y="1163.07" font-size="19.4" text-anchor="middle" fill="#231F20">50</text>
<text x="1114" y="1163.07" font-size="19.4" text-anchor="middle" fill="#231F20">4</text>
<text x="1211.5" y="1163.07" font-size="19.4" text-anchor="middle" fill="#231F20">4</text>
<rect x="374" y="1170.35" width="886" height="26.55" fill="#E6E7E8"/>
<text x="468" y="1190.42" font-size="19.4" text-anchor="middle" fill="#231F20">EPCBC40250316U</text>
<text x="609.25" y="1190.42" font-size="19.4" text-anchor="middle" fill="#231F20">2.5</text>
<text x="703.75" y="1190.42" font-size="19.4" text-anchor="middle" fill="#231F20">0.3R</text>
<text x="798.5" y="1190.42" font-size="19.4" text-anchor="middle" fill="#231F20">2.5</text>
<text x="906.25" y="1190.42" font-size="19.4" text-anchor="middle" fill="#231F20">16</text>
<text x="1015.75" y="1190.42" font-size="19.4" text-anchor="middle" fill="#231F20">50</text>
<text x="1114" y="1190.42" font-size="19.4" text-anchor="middle" fill="#231F20">4</text>
<text x="1211.5" y="1190.42" font-size="19.4" text-anchor="middle" fill="#231F20">4</text>
<text x="468" y="1217.77" font-size="19.4" text-anchor="middle" fill="#231F20">EPCBC40250320U</text>
<text x="609.25" y="1217.77" font-size="19.4" text-anchor="middle" fill="#231F20">2.5</text>
<text x="703.75" y="1217.77" font-size="19.4" text-anchor="middle" fill="#231F20">0.3R</text>
<text x="798.5" y="1217.77" font-size="19.4" text-anchor="middle" fill="#231F20">2.5</text>
<text x="906.25" y="1217.77" font-size="19.4" text-anchor="middle" fill="#231F20">20</text>
<text x="1015.75" y="1217.77" font-size="19.4" text-anchor="middle" fill="#231F20">50</text>
<text x="1114" y="1217.77" font-size="19.4" text-anchor="middle" fill="#231F20">4</text>
<text x="1211.5" y="1217.77" font-size="19.4" text-anchor="middle" fill="#231F20">4</text>
<rect x="374" y="1225.05" width="886" height="26.55" fill="#E6E7E8"/>
<text x="468" y="1245.12" font-size="19.4" text-anchor="middle" fill="#231F20">EPCBC40250325U</text>
<text x="609.25" y="1245.12" font-size="19.4" text-anchor="middle" fill="#231F20">2.5</text>
<text x="703.75" y="1245.12" font-size="19.4" text-anchor="middle" fill="#231F20">0.3R</text>
<text x="798.5" y="1245.12" font-size="19.4" text-anchor="middle" fill="#231F20">2.5</text>
<text x="906.25" y="1245.12" font-size="19.4" text-anchor="middle" fill="#231F20">25</text>
<text x="1015.75" y="1245.12" font-size="19.4" text-anchor="middle" fill="#231F20">60</text>
<text x="1114" y="1245.12" font-size="19.4" text-anchor="middle" fill="#231F20">4</text>
<text x="1211.5" y="1245.12" font-size="19.4" text-anchor="middle" fill="#231F20">4</text>
<text x="468" y="1272.47" font-size="19.4" text-anchor="middle" fill="#231F20">EPCBC40250510U</text>
<text x="609.25" y="1272.47" font-size="19.4" text-anchor="middle" fill="#231F20">2.5</text>
<text x="703.75" y="1272.47" font-size="19.4" text-anchor="middle" fill="#231F20">0.5R</text>
<text x="798.5" y="1272.47" font-size="19.4" text-anchor="middle" fill="#231F20">2.5</text>
<text x="906.25" y="1272.47" font-size="19.4" text-anchor="middle" fill="#231F20">10</text>
<text x="1015.75" y="1272.47" font-size="19.4" text-anchor="middle" fill="#231F20">50</text>
<text x="1114" y="1272.47" font-size="19.4" text-anchor="middle" fill="#231F20">4</text>
<text x="1211.5" y="1272.47" font-size="19.4" text-anchor="middle" fill="#231F20">4</text>
<rect x="374" y="1279.75" width="886" height="26.55" fill="#E6E7E8"/>
<text x="468" y="1299.82" font-size="19.4" text-anchor="middle" fill="#231F20">EPCBC40250516U</text>
<text x="609.25" y="1299.82" font-size="19.4" text-anchor="middle" fill="#231F20">2.5</text>
<text x="703.75" y="1299.82" font-size="19.4" text-anchor="middle" fill="#231F20">0.5R</text>
<text x="798.5" y="1299.82" font-size="19.4" text-anchor="middle" fill="#231F20">2.5</text>
<text x="906.25" y="1299.82" font-size="19.4" text-anchor="middle" fill="#231F20">16</text>
<text x="1015.75" y="1299.82" font-size="19.4" text-anchor="middle" fill="#231F20">50</text>
<text x="1114" y="1299.82" font-size="19.4" text-anchor="middle" fill="#231F20">4</text>
<text x="1211.5" y="1299.82" font-size="19.4" text-anchor="middle" fill="#231F20">4</text>
<text x="468" y="1327.17" font-size="19.4" text-anchor="middle" fill="#231F20">EPCBC40250520U</text>
<text x="609.25" y="1327.17" font-size="19.4" text-anchor="middle" fill="#231F20">2.5</text>
<text x="703.75" y="1327.17" font-size="19.4" text-anchor="middle" fill="#231F20">0.5R</text>
<text x="798.5" y="1327.17" font-size="19.4" text-anchor="middle" fill="#231F20">2.5</text>
<text x="906.25" y="1327.17" font-size="19.4" text-anchor="middle" fill="#231F20">20</text>
<text x="1015.75" y="1327.17" font-size="19.4" text-anchor="middle" fill="#231F20">50</text>
<text x="1114" y="1327.17" font-size="19.4" text-anchor="middle" fill="#231F20">4</text>
<text x="1211.5" y="1327.17" font-size="19.4" text-anchor="middle" fill="#231F20">4</text>
<rect x="374" y="1334.45" width="886" height="26.55" fill="#E6E7E8"/>
<text x="468" y="1354.52" font-size="19.4" text-anchor="middle" fill="#231F20">EPCBC40250525U</text>
<text x="609.25" y="1354.52" font-size="19.4" text-anchor="middle" fill="#231F20">2.5</text>
<text x="703.75" y="1354.52" font-size="19.4" text-anchor="middle" fill="#231F20">0.5R</text>
<text x="798.5" y="1354.52" font-size="19.4" text-anchor="middle" fill="#231F20">2.5</text>
<text x="906.25" y="1354.52" font-size="19.4" text-anchor="middle" fill="#231F20">25</text>
<text x="1015.75" y="1354.52" font-size="19.4" text-anchor="middle" fill="#231F20">60</text>
<text x="1114" y="1354.52" font-size="19.4" text-anchor="middle" fill="#231F20">4</text>
<text x="1211.5" y="1354.52" font-size="19.4" text-anchor="middle" fill="#231F20">4</text>
<text x="468" y="1381.88" font-size="19.4" text-anchor="middle" fill="#231F20">EPCRC40300110U</text>
<text x="609.25" y="1381.88" font-size="19.4" text-anchor="middle" fill="#231F20">3.0</text>
<text x="703.75" y="1381.88" font-size="19.4" text-anchor="middle" fill="#231F20">0.1R</text>
<text x="798.5" y="1381.88" font-size="19.4" text-anchor="middle" fill="#231F20">3.0</text>
<text x="906.25" y="1381.88" font-size="19.4" text-anchor="middle" fill="#231F20">10</text>
<text x="1015.75" y="1381.88" font-size="19.4" text-anchor="middle" fill="#231F20">50</text>
<text x="1114" y="1381.88" font-size="19.4" text-anchor="middle" fill="#231F20">6</text>
<text x="1211.5" y="1381.88" font-size="19.4" text-anchor="middle" fill="#231F20">4</text>
<rect x="374" y="1389.15" width="886" height="26.55" fill="#E6E7E8"/>
<text x="468" y="1409.22" font-size="19.4" text-anchor="middle" fill="#231F20">EPCRC40300116U</text>
<text x="609.25" y="1409.22" font-size="19.4" text-anchor="middle" fill="#231F20">3.0</text>
<text x="703.75" y="1409.22" font-size="19.4" text-anchor="middle" fill="#231F20">0.1R</text>
<text x="798.5" y="1409.22" font-size="19.4" text-anchor="middle" fill="#231F20">3.0</text>
<text x="906.25" y="1409.22" font-size="19.4" text-anchor="middle" fill="#231F20">16</text>
<text x="1015.75" y="1409.22" font-size="19.4" text-anchor="middle" fill="#231F20">60</text>
<text x="1114" y="1409.22" font-size="19.4" text-anchor="middle" fill="#231F20">6</text>
<text x="1211.5" y="1409.22" font-size="19.4" text-anchor="middle" fill="#231F20">4</text>
<text x="468" y="1436.58" font-size="19.4" text-anchor="middle" fill="#231F20">EPCRC40300120U</text>
<text x="609.25" y="1436.58" font-size="19.4" text-anchor="middle" fill="#231F20">3.0</text>
<text x="703.75" y="1436.58" font-size="19.4" text-anchor="middle" fill="#231F20">0.1R</text>
<text x="798.5" y="1436.58" font-size="19.4" text-anchor="middle" fill="#231F20">3.0</text>
<text x="906.25" y="1436.58" font-size="19.4" text-anchor="middle" fill="#231F20">20</text>
<text x="1015.75" y="1436.58" font-size="19.4" text-anchor="middle" fill="#231F20">60</text>
<text x="1114" y="1436.58" font-size="19.4" text-anchor="middle" fill="#231F20">6</text>
<text x="1211.5" y="1436.58" font-size="19.4" text-anchor="middle" fill="#231F20">4</text>
<rect x="374" y="1443.85" width="886" height="26.55" fill="#E6E7E8"/>
<text x="468" y="1463.92" font-size="19.4" text-anchor="middle" fill="#231F20">EPCRC40300125U</text>
<text x="609.25" y="1463.92" font-size="19.4" text-anchor="middle" fill="#231F20">3.0</text>
<text x="703.75" y="1463.92" font-size="19.4" text-anchor="middle" fill="#231F20">0.1R</text>
<text x="798.5" y="1463.92" font-size="19.4" text-anchor="middle" fill="#231F20">3.0</text>
<text x="906.25" y="1463.92" font-size="19.4" text-anchor="middle" fill="#231F20">25</text>
<text x="1015.75" y="1463.92" font-size="19.4" text-anchor="middle" fill="#231F20">60</text>
<text x="1114" y="1463.92" font-size="19.4" text-anchor="middle" fill="#231F20">6</text>
<text x="1211.5" y="1463.92" font-size="19.4" text-anchor="middle" fill="#231F20">4</text>
<text x="468" y="1491.27" font-size="19.4" text-anchor="middle" fill="#231F20">EPCRC40300130U</text>
<text x="609.25" y="1491.27" font-size="19.4" text-anchor="middle" fill="#231F20">3.0</text>
<text x="703.75" y="1491.27" font-size="19.4" text-anchor="middle" fill="#231F20">0.1R</text>
<text x="798.5" y="1491.27" font-size="19.4" text-anchor="middle" fill="#231F20">3.0</text>
<text x="906.25" y="1491.27" font-size="19.4" text-anchor="middle" fill="#231F20">30</text>
<text x="1015.75" y="1491.27" font-size="19.4" text-anchor="middle" fill="#231F20">75</text>
<text x="1114" y="1491.27" font-size="19.4" text-anchor="middle" fill="#231F20">6</text>
<text x="1211.5" y="1491.27" font-size="19.4" text-anchor="middle" fill="#231F20">4</text>
<rect x="374" y="1498.55" width="886" height="26.55" fill="#E6E7E8"/>
<text x="468" y="1518.62" font-size="19.4" text-anchor="middle" fill="#231F20">EPCRC40300135U</text>
<text x="609.25" y="1518.62" font-size="19.4" text-anchor="middle" fill="#231F20">3.0</text>
<text x="703.75" y="1518.62" font-size="19.4" text-anchor="middle" fill="#231F20">0.1R</text>
<text x="798.5" y="1518.62" font-size="19.4" text-anchor="middle" fill="#231F20">3.0</text>
<text x="906.25" y="1518.62" font-size="19.4" text-anchor="middle" fill="#231F20">35</text>
<text x="1015.75" y="1518.62" font-size="19.4" text-anchor="middle" fill="#231F20">75</text>
<text x="1114" y="1518.62" font-size="19.4" text-anchor="middle" fill="#231F20">6</text>
<text x="1211.5" y="1518.62" font-size="19.4" text-anchor="middle" fill="#231F20">4</text>
<text x="468" y="1545.97" font-size="19.4" text-anchor="middle" fill="#231F20">EPCRC40300210U</text>
<text x="609.25" y="1545.97" font-size="19.4" text-anchor="middle" fill="#231F20">3.0</text>
<text x="703.75" y="1545.97" font-size="19.4" text-anchor="middle" fill="#231F20">0.2R</text>
<text x="798.5" y="1545.97" font-size="19.4" text-anchor="middle" fill="#231F20">3.0</text>
<text x="906.25" y="1545.97" font-size="19.4" text-anchor="middle" fill="#231F20">10</text>
<text x="1015.75" y="1545.97" font-size="19.4" text-anchor="middle" fill="#231F20">50</text>
<text x="1114" y="1545.97" font-size="19.4" text-anchor="middle" fill="#231F20">6</text>
<text x="1211.5" y="1545.97" font-size="19.4" text-anchor="middle" fill="#231F20">4</text>
<rect x="1646" y="20.9" width="182" height="81.5" fill="#BCBEC0"/>
<rect x="1830" y="20.9" width="90" height="81.5" fill="#BCBEC0"/>
<rect x="1922" y="20.9" width="91" height="81.5" fill="#BCBEC0"/>
<rect x="2015" y="20.9" width="90" height="81.5" fill="#BCBEC0"/>
<rect x="2107" y="20.9" width="116" height="81.5" fill="#BCBEC0"/>
<rect x="2225" y="20.9" width="95" height="81.5" fill="#BCBEC0"/>
<rect x="2322" y="20.9" width="93" height="81.5" fill="#BCBEC0"/>
<rect x="2417" y="20.9" width="94" height="81.5" fill="#BCBEC0"/>
<text x="1875.9" y="51.3" font-size="19.2" font-weight="bold" text-anchor="middle" fill="#231F20">średnica</text>
<text x="1859.5" y="78.8" font-size="19" text-anchor="middle" fill="#FFFFFF">(d)</text>
<text x="1965.1" y="39.9" font-size="19.2" font-weight="bold" text-anchor="middle" fill="#231F20">promień</text>
<text x="1965.3" y="62.7" font-size="19.2" font-weight="bold" text-anchor="middle" fill="#231F20">naroża</text>
<text x="1965.1" y="87.1" font-size="19" text-anchor="middle" fill="#FFFFFF">(R)</text>
<text x="2063.1" y="42.9" font-size="19.2" font-weight="bold" text-anchor="middle" fill="#231F20">długość</text>
<text x="2062.9" y="65.7" font-size="19.2" font-weight="bold" text-anchor="middle" fill="#231F20">ostrza</text>
<text x="2063.5" y="88.3" font-size="19" text-anchor="middle" fill="#FFFFFF">(L1)</text>
<text x="2177" y="44.4" font-size="19.2" font-weight="bold" text-anchor="middle" fill="#231F20">długość</text>
<text x="2177" y="67.2" font-size="19.2" font-weight="bold" text-anchor="middle" fill="#231F20">robocza</text>
<text x="2174" y="90.2" font-size="19" text-anchor="middle" fill="#FFFFFF">(L2)</text>
<text x="2264.4" y="41.8" font-size="19.2" font-weight="bold" text-anchor="middle" fill="#231F20">długość</text>
<text x="2271.8" y="64.6" font-size="19.2" font-weight="bold" text-anchor="middle" fill="#231F20">całkowita</text>
<text x="2263.6" y="92" font-size="19" text-anchor="middle" fill="#FFFFFF">(L)</text>
<text x="2368.5" y="52" font-size="19.2" font-weight="bold" text-anchor="middle" fill="#231F20">chwyt</text>
<text x="2368.3" y="78.8" font-size="19" text-anchor="middle" fill="#FFFFFF">(D)</text>
<text x="2464.2" y="39.1" font-size="19.2" font-weight="bold" text-anchor="middle" fill="#231F20">ilość</text>
<text x="2464.4" y="61.9" font-size="19.2" font-weight="bold" text-anchor="middle" fill="#231F20">ostrzy</text>
<text x="2464.2" y="89" font-size="19" text-anchor="middle" fill="#FFFFFF">(F)</text>
<text x="1737.5" y="123.56" font-size="19.1" text-anchor="middle" fill="#231F20">EPCRC40300216U</text>
<text x="1875" y="123.56" font-size="19.1" text-anchor="middle" fill="#231F20">3.0</text>
<text x="1967.5" y="123.56" font-size="19.1" text-anchor="middle" fill="#231F20">0.2R</text>
<text x="2060" y="123.56" font-size="19.1" text-anchor="middle" fill="#231F20">3.0</text>
<text x="2165" y="123.56" font-size="19.1" text-anchor="middle" fill="#231F20">16</text>
<text x="2272.5" y="123.56" font-size="19.1" text-anchor="middle" fill="#231F20">60</text>
<text x="2368.5" y="123.56" font-size="19.1" text-anchor="middle" fill="#231F20">6</text>
<text x="2463.5" y="123.56" font-size="19.1" text-anchor="middle" fill="#231F20">4</text>
<rect x="1646" y="130.82" width="865" height="25.92" fill="#E6E7E8"/>
<text x="1737.5" y="150.28" font-size="19.1" text-anchor="middle" fill="#231F20">EPCRC40300220U</text>
<text x="1875" y="150.28" font-size="19.1" text-anchor="middle" fill="#231F20">3.0</text>
<text x="1967.5" y="150.28" font-size="19.1" text-anchor="middle" fill="#231F20">0.2R</text>
<text x="2060" y="150.28" font-size="19.1" text-anchor="middle" fill="#231F20">3.0</text>
<text x="2165" y="150.28" font-size="19.1" text-anchor="middle" fill="#231F20">20</text>
<text x="2272.5" y="150.28" font-size="19.1" text-anchor="middle" fill="#231F20">60</text>
<text x="2368.5" y="150.28" font-size="19.1" text-anchor="middle" fill="#231F20">6</text>
<text x="2463.5" y="150.28" font-size="19.1" text-anchor="middle" fill="#231F20">4</text>
<text x="1737.5" y="177" font-size="19.1" text-anchor="middle" fill="#231F20">EPCRC40300225U</text>
<text x="1875" y="177" font-size="19.1" text-anchor="middle" fill="#231F20">3.0</text>
<text x="1967.5" y="177" font-size="19.1" text-anchor="middle" fill="#231F20">0.2R</text>
<text x="2060" y="177" font-size="19.1" text-anchor="middle" fill="#231F20">3.0</text>
<text x="2165" y="177" font-size="19.1" text-anchor="middle" fill="#231F20">25</text>
<text x="2272.5" y="177" font-size="19.1" text-anchor="middle" fill="#231F20">60</text>
<text x="2368.5" y="177" font-size="19.1" text-anchor="middle" fill="#231F20">6</text>
<text x="2463.5" y="177" font-size="19.1" text-anchor="middle" fill="#231F20">4</text>
<rect x="1646" y="184.26" width="865" height="25.92" fill="#E6E7E8"/>
<text x="1737.5" y="203.72" font-size="19.1" text-anchor="middle" fill="#231F20">EPCRC40300230U</text>
<text x="1875" y="203.72" font-size="19.1" text-anchor="middle" fill="#231F20">3.0</text>
<text x="1967.5" y="203.72" font-size="19.1" text-anchor="middle" fill="#231F20">0.2R</text>
<text x="2060" y="203.72" font-size="19.1" text-anchor="middle" fill="#231F20">3.0</text>
<text x="2165" y="203.72" font-size="19.1" text-anchor="middle" fill="#231F20">30</text>
<text x="2272.5" y="203.72" font-size="19.1" text-anchor="middle" fill="#231F20">75</text>
<text x="2368.5" y="203.72" font-size="19.1" text-anchor="middle" fill="#231F20">6</text>
<text x="2463.5" y="203.72" font-size="19.1" text-anchor="middle" fill="#231F20">4</text>
<text x="1737.5" y="230.44" font-size="19.1" text-anchor="middle" fill="#231F20">EPCRC40300235U</text>
<text x="1875" y="230.44" font-size="19.1" text-anchor="middle" fill="#231F20">3.0</text>
<text x="1967.5" y="230.44" font-size="19.1" text-anchor="middle" fill="#231F20">0.2R</text>
<text x="2060" y="230.44" font-size="19.1" text-anchor="middle" fill="#231F20">3.0</text>
<text x="2165" y="230.44" font-size="19.1" text-anchor="middle" fill="#231F20">35</text>
<text x="2272.5" y="230.44" font-size="19.1" text-anchor="middle" fill="#231F20">75</text>
<text x="2368.5" y="230.44" font-size="19.1" text-anchor="middle" fill="#231F20">6</text>
<text x="2463.5" y="230.44" font-size="19.1" text-anchor="middle" fill="#231F20">4</text>
<rect x="1646" y="237.7" width="865" height="25.92" fill="#E6E7E8"/>
<text x="1737.5" y="257.16" font-size="19.1" text-anchor="middle" fill="#231F20">EPCRC40300310U</text>
<text x="1875" y="257.16" font-size="19.1" text-anchor="middle" fill="#231F20">3.0</text>
<text x="1967.5" y="257.16" font-size="19.1" text-anchor="middle" fill="#231F20">0.3R</text>
<text x="2060" y="257.16" font-size="19.1" text-anchor="middle" fill="#231F20">3.0</text>
<text x="2165" y="257.16" font-size="19.1" text-anchor="middle" fill="#231F20">10</text>
<text x="2272.5" y="257.16" font-size="19.1" text-anchor="middle" fill="#231F20">50</text>
<text x="2368.5" y="257.16" font-size="19.1" text-anchor="middle" fill="#231F20">6</text>
<text x="2463.5" y="257.16" font-size="19.1" text-anchor="middle" fill="#231F20">4</text>
<text x="1737.5" y="283.88" font-size="19.1" text-anchor="middle" fill="#231F20">EPCRC40300316U</text>
<text x="1875" y="283.88" font-size="19.1" text-anchor="middle" fill="#231F20">3.0</text>
<text x="1967.5" y="283.88" font-size="19.1" text-anchor="middle" fill="#231F20">0.3R</text>
<text x="2060" y="283.88" font-size="19.1" text-anchor="middle" fill="#231F20">3.0</text>
<text x="2165" y="283.88" font-size="19.1" text-anchor="middle" fill="#231F20">16</text>
<text x="2272.5" y="283.88" font-size="19.1" text-anchor="middle" fill="#231F20">60</text>
<text x="2368.5" y="283.88" font-size="19.1" text-anchor="middle" fill="#231F20">6</text>
<text x="2463.5" y="283.88" font-size="19.1" text-anchor="middle" fill="#231F20">4</text>
<rect x="1646" y="291.14" width="865" height="25.92" fill="#E6E7E8"/>
<text x="1737.5" y="310.6" font-size="19.1" text-anchor="middle" fill="#231F20">EPCRC40300320U</text>
<text x="1875" y="310.6" font-size="19.1" text-anchor="middle" fill="#231F20">3.0</text>
<text x="1967.5" y="310.6" font-size="19.1" text-anchor="middle" fill="#231F20">0.3R</text>
<text x="2060" y="310.6" font-size="19.1" text-anchor="middle" fill="#231F20">3.0</text>
<text x="2165" y="310.6" font-size="19.1" text-anchor="middle" fill="#231F20">20</text>
<text x="2272.5" y="310.6" font-size="19.1" text-anchor="middle" fill="#231F20">60</text>
<text x="2368.5" y="310.6" font-size="19.1" text-anchor="middle" fill="#231F20">6</text>
<text x="2463.5" y="310.6" font-size="19.1" text-anchor="middle" fill="#231F20">4</text>
<text x="1737.5" y="337.32" font-size="19.1" text-anchor="middle" fill="#231F20">EPCRC40300325U</text>
<text x="1875" y="337.32" font-size="19.1" text-anchor="middle" fill="#231F20">3.0</text>
<text x="1967.5" y="337.32" font-size="19.1" text-anchor="middle" fill="#231F20">0.3R</text>
<text x="2060" y="337.32" font-size="19.1" text-anchor="middle" fill="#231F20">3.0</text>
<text x="2165" y="337.32" font-size="19.1" text-anchor="middle" fill="#231F20">25</text>
<text x="2272.5" y="337.32" font-size="19.1" text-anchor="middle" fill="#231F20">60</text>
<text x="2368.5" y="337.32" font-size="19.1" text-anchor="middle" fill="#231F20">6</text>
<text x="2463.5" y="337.32" font-size="19.1" text-anchor="middle" fill="#231F20">4</text>
<rect x="1646" y="344.58" width="865" height="25.92" fill="#E6E7E8"/>
<text x="1737.5" y="364.04" font-size="19.1" text-anchor="middle" fill="#231F20">EPCRC40300330U</text>
<text x="1875" y="364.04" font-size="19.1" text-anchor="middle" fill="#231F20">3.0</text>
<text x="1967.5" y="364.04" font-size="19.1" text-anchor="middle" fill="#231F20">0.3R</text>
<text x="2060" y="364.04" font-size="19.1" text-anchor="middle" fill="#231F20">3.0</text>
<text x="2165" y="364.04" font-size="19.1" text-anchor="middle" fill="#231F20">30</text>
<text x="2272.5" y="364.04" font-size="19.1" text-anchor="middle" fill="#231F20">75</text>
<text x="2368.5" y="364.04" font-size="19.1" text-anchor="middle" fill="#231F20">6</text>
<text x="2463.5" y="364.04" font-size="19.1" text-anchor="middle" fill="#231F20">4</text>
<text x="1737.5" y="390.76" font-size="19.1" text-anchor="middle" fill="#231F20">EPCRC40300335U</text>
<text x="1875" y="390.76" font-size="19.1" text-anchor="middle" fill="#231F20">3.0</text>
<text x="1967.5" y="390.76" font-size="19.1" text-anchor="middle" fill="#231F20">0.3R</text>
<text x="2060" y="390.76" font-size="19.1" text-anchor="middle" fill="#231F20">3.0</text>
<text x="2165" y="390.76" font-size="19.1" text-anchor="middle" fill="#231F20">35</text>
<text x="2272.5" y="390.76" font-size="19.1" text-anchor="middle" fill="#231F20">75</text>
<text x="2368.5" y="390.76" font-size="19.1" text-anchor="middle" fill="#231F20">6</text>
<text x="2463.5" y="390.76" font-size="19.1" text-anchor="middle" fill="#231F20">4</text>
<rect x="1646" y="398.02" width="865" height="25.92" fill="#E6E7E8"/>
<text x="1737.5" y="417.48" font-size="19.1" text-anchor="middle" fill="#231F20">EPCRC40300510U</text>
<text x="1875" y="417.48" font-size="19.1" text-anchor="middle" fill="#231F20">3.0</text>
<text x="1967.5" y="417.48" font-size="19.1" text-anchor="middle" fill="#231F20">0.5R</text>
<text x="2060" y="417.48" font-size="19.1" text-anchor="middle" fill="#231F20">3.0</text>
<text x="2165" y="417.48" font-size="19.1" text-anchor="middle" fill="#231F20">10</text>
<text x="2272.5" y="417.48" font-size="19.1" text-anchor="middle" fill="#231F20">50</text>
<text x="2368.5" y="417.48" font-size="19.1" text-anchor="middle" fill="#231F20">6</text>
<text x="2463.5" y="417.48" font-size="19.1" text-anchor="middle" fill="#231F20">4</text>
<text x="1737.5" y="444.2" font-size="19.1" text-anchor="middle" fill="#231F20">EPCRC40300516U</text>
<text x="1875" y="444.2" font-size="19.1" text-anchor="middle" fill="#231F20">3.0</text>
<text x="1967.5" y="444.2" font-size="19.1" text-anchor="middle" fill="#231F20">0.5R</text>
<text x="2060" y="444.2" font-size="19.1" text-anchor="middle" fill="#231F20">3.0</text>
<text x="2165" y="444.2" font-size="19.1" text-anchor="middle" fill="#231F20">16</text>
<text x="2272.5" y="444.2" font-size="19.1" text-anchor="middle" fill="#231F20">60</text>
<text x="2368.5" y="444.2" font-size="19.1" text-anchor="middle" fill="#231F20">6</text>
<text x="2463.5" y="444.2" font-size="19.1" text-anchor="middle" fill="#231F20">4</text>
<rect x="1646" y="451.46" width="865" height="25.92" fill="#E6E7E8"/>
<text x="1737.5" y="470.92" font-size="19.1" text-anchor="middle" fill="#231F20">EPCRC40300520U</text>
<text x="1875" y="470.92" font-size="19.1" text-anchor="middle" fill="#231F20">3.0</text>
<text x="1967.5" y="470.92" font-size="19.1" text-anchor="middle" fill="#231F20">0.5R</text>
<text x="2060" y="470.92" font-size="19.1" text-anchor="middle" fill="#231F20">3.0</text>
<text x="2165" y="470.92" font-size="19.1" text-anchor="middle" fill="#231F20">20</text>
<text x="2272.5" y="470.92" font-size="19.1" text-anchor="middle" fill="#231F20">60</text>
<text x="2368.5" y="470.92" font-size="19.1" text-anchor="middle" fill="#231F20">6</text>
<text x="2463.5" y="470.92" font-size="19.1" text-anchor="middle" fill="#231F20">4</text>
<text x="1737.5" y="497.64" font-size="19.1" text-anchor="middle" fill="#231F20">EPCRC40300525U</text>
<text x="1875" y="497.64" font-size="19.1" text-anchor="middle" fill="#231F20">3.0</text>
<text x="1967.5" y="497.64" font-size="19.1" text-anchor="middle" fill="#231F20">0.5R</text>
<text x="2060" y="497.64" font-size="19.1" text-anchor="middle" fill="#231F20">3.0</text>
<text x="2165" y="497.64" font-size="19.1" text-anchor="middle" fill="#231F20">25</text>
<text x="2272.5" y="497.64" font-size="19.1" text-anchor="middle" fill="#231F20">60</text>
<text x="2368.5" y="497.64" font-size="19.1" text-anchor="middle" fill="#231F20">6</text>
<text x="2463.5" y="497.64" font-size="19.1" text-anchor="middle" fill="#231F20">4</text>
<rect x="1646" y="504.9" width="865" height="25.92" fill="#E6E7E8"/>
<text x="1737.5" y="524.36" font-size="19.1" text-anchor="middle" fill="#231F20">EPCRC40300530U</text>
<text x="1875" y="524.36" font-size="19.1" text-anchor="middle" fill="#231F20">3.0</text>
<text x="1967.5" y="524.36" font-size="19.1" text-anchor="middle" fill="#231F20">0.5R</text>
<text x="2060" y="524.36" font-size="19.1" text-anchor="middle" fill="#231F20">3.0</text>
<text x="2165" y="524.36" font-size="19.1" text-anchor="middle" fill="#231F20">30</text>
<text x="2272.5" y="524.36" font-size="19.1" text-anchor="middle" fill="#231F20">75</text>
<text x="2368.5" y="524.36" font-size="19.1" text-anchor="middle" fill="#231F20">6</text>
<text x="2463.5" y="524.36" font-size="19.1" text-anchor="middle" fill="#231F20">4</text>
<text x="1737.5" y="551.08" font-size="19.1" text-anchor="middle" fill="#231F20">EPCRC40300535U</text>
<text x="1875" y="551.08" font-size="19.1" text-anchor="middle" fill="#231F20">3.0</text>
<text x="1967.5" y="551.08" font-size="19.1" text-anchor="middle" fill="#231F20">0.5R</text>
<text x="2060" y="551.08" font-size="19.1" text-anchor="middle" fill="#231F20">3.0</text>
<text x="2165" y="551.08" font-size="19.1" text-anchor="middle" fill="#231F20">35</text>
<text x="2272.5" y="551.08" font-size="19.1" text-anchor="middle" fill="#231F20">75</text>
<text x="2368.5" y="551.08" font-size="19.1" text-anchor="middle" fill="#231F20">6</text>
<text x="2463.5" y="551.08" font-size="19.1" text-anchor="middle" fill="#231F20">4</text>
<rect x="1646" y="558.34" width="865" height="25.92" fill="#E6E7E8"/>
<text x="1737.5" y="577.8" font-size="19.1" text-anchor="middle" fill="#231F20">EPCRC40301010U</text>
<text x="1875" y="577.8" font-size="19.1" text-anchor="middle" fill="#231F20">3.0</text>
<text x="1967.5" y="577.8" font-size="19.1" text-anchor="middle" fill="#231F20">1.0R</text>
<text x="2060" y="577.8" font-size="19.1" text-anchor="middle" fill="#231F20">3.0</text>
<text x="2165" y="577.8" font-size="19.1" text-anchor="middle" fill="#231F20">10</text>
<text x="2272.5" y="577.8" font-size="19.1" text-anchor="middle" fill="#231F20">50</text>
<text x="2368.5" y="577.8" font-size="19.1" text-anchor="middle" fill="#231F20">6</text>
<text x="2463.5" y="577.8" font-size="19.1" text-anchor="middle" fill="#231F20">4</text>
<text x="1737.5" y="604.52" font-size="19.1" text-anchor="middle" fill="#231F20">EPCRC40301016U</text>
<text x="1875" y="604.52" font-size="19.1" text-anchor="middle" fill="#231F20">3.0</text>
<text x="1967.5" y="604.52" font-size="19.1" text-anchor="middle" fill="#231F20">1.0R</text>
<text x="2060" y="604.52" font-size="19.1" text-anchor="middle" fill="#231F20">3.0</text>
<text x="2165" y="604.52" font-size="19.1" text-anchor="middle" fill="#231F20">16</text>
<text x="2272.5" y="604.52" font-size="19.1" text-anchor="middle" fill="#231F20">60</text>
<text x="2368.5" y="604.52" font-size="19.1" text-anchor="middle" fill="#231F20">6</text>
<text x="2463.5" y="604.52" font-size="19.1" text-anchor="middle" fill="#231F20">4</text>
<rect x="1646" y="611.78" width="865" height="25.92" fill="#E6E7E8"/>
<text x="1737.5" y="631.24" font-size="19.1" text-anchor="middle" fill="#231F20">EPCRC40301020U</text>
<text x="1875" y="631.24" font-size="19.1" text-anchor="middle" fill="#231F20">3.0</text>
<text x="1967.5" y="631.24" font-size="19.1" text-anchor="middle" fill="#231F20">1.0R</text>
<text x="2060" y="631.24" font-size="19.1" text-anchor="middle" fill="#231F20">3.0</text>
<text x="2165" y="631.24" font-size="19.1" text-anchor="middle" fill="#231F20">20</text>
<text x="2272.5" y="631.24" font-size="19.1" text-anchor="middle" fill="#231F20">60</text>
<text x="2368.5" y="631.24" font-size="19.1" text-anchor="middle" fill="#231F20">6</text>
<text x="2463.5" y="631.24" font-size="19.1" text-anchor="middle" fill="#231F20">4</text>
<text x="1737.5" y="657.96" font-size="19.1" text-anchor="middle" fill="#231F20">EPCRC40301025U</text>
<text x="1875" y="657.96" font-size="19.1" text-anchor="middle" fill="#231F20">3.0</text>
<text x="1967.5" y="657.96" font-size="19.1" text-anchor="middle" fill="#231F20">1.0R</text>
<text x="2060" y="657.96" font-size="19.1" text-anchor="middle" fill="#231F20">3.0</text>
<text x="2165" y="657.96" font-size="19.1" text-anchor="middle" fill="#231F20">25</text>
<text x="2272.5" y="657.96" font-size="19.1" text-anchor="middle" fill="#231F20">60</text>
<text x="2368.5" y="657.96" font-size="19.1" text-anchor="middle" fill="#231F20">6</text>
<text x="2463.5" y="657.96" font-size="19.1" text-anchor="middle" fill="#231F20">4</text>
<rect x="1646" y="665.22" width="865" height="25.92" fill="#E6E7E8"/>
<text x="1737.5" y="684.68" font-size="19.1" text-anchor="middle" fill="#231F20">EPCRC40301030U</text>
<text x="1875" y="684.68" font-size="19.1" text-anchor="middle" fill="#231F20">3.0</text>
<text x="1967.5" y="684.68" font-size="19.1" text-anchor="middle" fill="#231F20">1.0R</text>
<text x="2060" y="684.68" font-size="19.1" text-anchor="middle" fill="#231F20">3.0</text>
<text x="2165" y="684.68" font-size="19.1" text-anchor="middle" fill="#231F20">30</text>
<text x="2272.5" y="684.68" font-size="19.1" text-anchor="middle" fill="#231F20">75</text>
<text x="2368.5" y="684.68" font-size="19.1" text-anchor="middle" fill="#231F20">6</text>
<text x="2463.5" y="684.68" font-size="19.1" text-anchor="middle" fill="#231F20">4</text>
<text x="1737.5" y="711.4" font-size="19.1" text-anchor="middle" fill="#231F20">EPCRC40301035U</text>
<text x="1875" y="711.4" font-size="19.1" text-anchor="middle" fill="#231F20">3.0</text>
<text x="1967.5" y="711.4" font-size="19.1" text-anchor="middle" fill="#231F20">1.0R</text>
<text x="2060" y="711.4" font-size="19.1" text-anchor="middle" fill="#231F20">3.0</text>
<text x="2165" y="711.4" font-size="19.1" text-anchor="middle" fill="#231F20">35</text>
<text x="2272.5" y="711.4" font-size="19.1" text-anchor="middle" fill="#231F20">75</text>
<text x="2368.5" y="711.4" font-size="19.1" text-anchor="middle" fill="#231F20">6</text>
<text x="2463.5" y="711.4" font-size="19.1" text-anchor="middle" fill="#231F20">4</text>
<rect x="1646" y="718.66" width="865" height="25.92" fill="#E6E7E8"/>
<text x="1737.5" y="738.12" font-size="19.1" text-anchor="middle" fill="#231F20">EPCRC40400113U</text>
<text x="1875" y="738.12" font-size="19.1" text-anchor="middle" fill="#231F20">4.0</text>
<text x="1967.5" y="738.12" font-size="19.1" text-anchor="middle" fill="#231F20">0.1R</text>
<text x="2060" y="738.12" font-size="19.1" text-anchor="middle" fill="#231F20">4.0</text>
<text x="2165" y="738.12" font-size="19.1" text-anchor="middle" fill="#231F20">13</text>
<text x="2272.5" y="738.12" font-size="19.1" text-anchor="middle" fill="#231F20">50</text>
<text x="2368.5" y="738.12" font-size="19.1" text-anchor="middle" fill="#231F20">6</text>
<text x="2463.5" y="738.12" font-size="19.1" text-anchor="middle" fill="#231F20">4</text>
<text x="1737.5" y="764.84" font-size="19.1" text-anchor="middle" fill="#231F20">EPCRC40400116U</text>
<text x="1875" y="764.84" font-size="19.1" text-anchor="middle" fill="#231F20">4.0</text>
<text x="1967.5" y="764.84" font-size="19.1" text-anchor="middle" fill="#231F20">0.1R</text>
<text x="2060" y="764.84" font-size="19.1" text-anchor="middle" fill="#231F20">4.0</text>
<text x="2165" y="764.84" font-size="19.1" text-anchor="middle" fill="#231F20">16</text>
<text x="2272.5" y="764.84" font-size="19.1" text-anchor="middle" fill="#231F20">60</text>
<text x="2368.5" y="764.84" font-size="19.1" text-anchor="middle" fill="#231F20">6</text>
<text x="2463.5" y="764.84" font-size="19.1" text-anchor="middle" fill="#231F20">4</text>
<rect x="1646" y="772.1" width="865" height="25.92" fill="#E6E7E8"/>
<text x="1737.5" y="791.56" font-size="19.1" text-anchor="middle" fill="#231F20">EPCRC40400120U</text>
<text x="1875" y="791.56" font-size="19.1" text-anchor="middle" fill="#231F20">4.0</text>
<text x="1967.5" y="791.56" font-size="19.1" text-anchor="middle" fill="#231F20">0.1R</text>
<text x="2060" y="791.56" font-size="19.1" text-anchor="middle" fill="#231F20">4.0</text>
<text x="2165" y="791.56" font-size="19.1" text-anchor="middle" fill="#231F20">20</text>
<text x="2272.5" y="791.56" font-size="19.1" text-anchor="middle" fill="#231F20">60</text>
<text x="2368.5" y="791.56" font-size="19.1" text-anchor="middle" fill="#231F20">6</text>
<text x="2463.5" y="791.56" font-size="19.1" text-anchor="middle" fill="#231F20">4</text>
<text x="1737.5" y="818.28" font-size="19.1" text-anchor="middle" fill="#231F20">EPCRC40400125U</text>
<text x="1875" y="818.28" font-size="19.1" text-anchor="middle" fill="#231F20">4.0</text>
<text x="1967.5" y="818.28" font-size="19.1" text-anchor="middle" fill="#231F20">0.1R</text>
<text x="2060" y="818.28" font-size="19.1" text-anchor="middle" fill="#231F20">4.0</text>
<text x="2165" y="818.28" font-size="19.1" text-anchor="middle" fill="#231F20">25</text>
<text x="2272.5" y="818.28" font-size="19.1" text-anchor="middle" fill="#231F20">60</text>
<text x="2368.5" y="818.28" font-size="19.1" text-anchor="middle" fill="#231F20">6</text>
<text x="2463.5" y="818.28" font-size="19.1" text-anchor="middle" fill="#231F20">4</text>
<rect x="1646" y="825.54" width="865" height="25.92" fill="#E6E7E8"/>
<text x="1737.5" y="845" font-size="19.1" text-anchor="middle" fill="#231F20">EPCRC40400130U</text>
<text x="1875" y="845" font-size="19.1" text-anchor="middle" fill="#231F20">4.0</text>
<text x="1967.5" y="845" font-size="19.1" text-anchor="middle" fill="#231F20">0.1R</text>
<text x="2060" y="845" font-size="19.1" text-anchor="middle" fill="#231F20">4.0</text>
<text x="2165" y="845" font-size="19.1" text-anchor="middle" fill="#231F20">30</text>
<text x="2272.5" y="845" font-size="19.1" text-anchor="middle" fill="#231F20">75</text>
<text x="2368.5" y="845" font-size="19.1" text-anchor="middle" fill="#231F20">6</text>
<text x="2463.5" y="845" font-size="19.1" text-anchor="middle" fill="#231F20">4</text>
<text x="1737.5" y="871.72" font-size="19.1" text-anchor="middle" fill="#231F20">EPCRC40400135U</text>
<text x="1875" y="871.72" font-size="19.1" text-anchor="middle" fill="#231F20">4.0</text>
<text x="1967.5" y="871.72" font-size="19.1" text-anchor="middle" fill="#231F20">0.1R</text>
<text x="2060" y="871.72" font-size="19.1" text-anchor="middle" fill="#231F20">4.0</text>
<text x="2165" y="871.72" font-size="19.1" text-anchor="middle" fill="#231F20">35</text>
<text x="2272.5" y="871.72" font-size="19.1" text-anchor="middle" fill="#231F20">75</text>
<text x="2368.5" y="871.72" font-size="19.1" text-anchor="middle" fill="#231F20">6</text>
<text x="2463.5" y="871.72" font-size="19.1" text-anchor="middle" fill="#231F20">4</text>
<rect x="1646" y="878.98" width="865" height="25.92" fill="#E6E7E8"/>
<text x="1737.5" y="898.44" font-size="19.1" text-anchor="middle" fill="#231F20">EPCRC40400213U</text>
<text x="1875" y="898.44" font-size="19.1" text-anchor="middle" fill="#231F20">4.0</text>
<text x="1967.5" y="898.44" font-size="19.1" text-anchor="middle" fill="#231F20">0.2R</text>
<text x="2060" y="898.44" font-size="19.1" text-anchor="middle" fill="#231F20">4.0</text>
<text x="2165" y="898.44" font-size="19.1" text-anchor="middle" fill="#231F20">13</text>
<text x="2272.5" y="898.44" font-size="19.1" text-anchor="middle" fill="#231F20">50</text>
<text x="2368.5" y="898.44" font-size="19.1" text-anchor="middle" fill="#231F20">6</text>
<text x="2463.5" y="898.44" font-size="19.1" text-anchor="middle" fill="#231F20">4</text>
<text x="1737.5" y="925.16" font-size="19.1" text-anchor="middle" fill="#231F20">EPCRC40400216U</text>
<text x="1875" y="925.16" font-size="19.1" text-anchor="middle" fill="#231F20">4.0</text>
<text x="1967.5" y="925.16" font-size="19.1" text-anchor="middle" fill="#231F20">0.2R</text>
<text x="2060" y="925.16" font-size="19.1" text-anchor="middle" fill="#231F20">4.0</text>
<text x="2165" y="925.16" font-size="19.1" text-anchor="middle" fill="#231F20">16</text>
<text x="2272.5" y="925.16" font-size="19.1" text-anchor="middle" fill="#231F20">60</text>
<text x="2368.5" y="925.16" font-size="19.1" text-anchor="middle" fill="#231F20">6</text>
<text x="2463.5" y="925.16" font-size="19.1" text-anchor="middle" fill="#231F20">4</text>
<rect x="1646" y="932.42" width="865" height="25.92" fill="#E6E7E8"/>
<text x="1737.5" y="951.88" font-size="19.1" text-anchor="middle" fill="#231F20">EPCRC40400220U</text>
<text x="1875" y="951.88" font-size="19.1" text-anchor="middle" fill="#231F20">4.0</text>
<text x="1967.5" y="951.88" font-size="19.1" text-anchor="middle" fill="#231F20">0.2R</text>
<text x="2060" y="951.88" font-size="19.1" text-anchor="middle" fill="#231F20">4.0</text>
<text x="2165" y="951.88" font-size="19.1" text-anchor="middle" fill="#231F20">20</text>
<text x="2272.5" y="951.88" font-size="19.1" text-anchor="middle" fill="#231F20">60</text>
<text x="2368.5" y="951.88" font-size="19.1" text-anchor="middle" fill="#231F20">6</text>
<text x="2463.5" y="951.88" font-size="19.1" text-anchor="middle" fill="#231F20">4</text>
<text x="1737.5" y="978.6" font-size="19.1" text-anchor="middle" fill="#231F20">EPCRC40400225U</text>
<text x="1875" y="978.6" font-size="19.1" text-anchor="middle" fill="#231F20">4.0</text>
<text x="1967.5" y="978.6" font-size="19.1" text-anchor="middle" fill="#231F20">0.2R</text>
<text x="2060" y="978.6" font-size="19.1" text-anchor="middle" fill="#231F20">4.0</text>
<text x="2165" y="978.6" font-size="19.1" text-anchor="middle" fill="#231F20">25</text>
<text x="2272.5" y="978.6" font-size="19.1" text-anchor="middle" fill="#231F20">60</text>
<text x="2368.5" y="978.6" font-size="19.1" text-anchor="middle" fill="#231F20">6</text>
<text x="2463.5" y="978.6" font-size="19.1" text-anchor="middle" fill="#231F20">4</text>
<rect x="1646" y="985.86" width="865" height="25.92" fill="#E6E7E8"/>
<text x="1737.5" y="1005.32" font-size="19.1" text-anchor="middle" fill="#231F20">EPCRC40400230U</text>
<text x="1875" y="1005.32" font-size="19.1" text-anchor="middle" fill="#231F20">4.0</text>
<text x="1967.5" y="1005.32" font-size="19.1" text-anchor="middle" fill="#231F20">0.2R</text>
<text x="2060" y="1005.32" font-size="19.1" text-anchor="middle" fill="#231F20">4.0</text>
<text x="2165" y="1005.32" font-size="19.1" text-anchor="middle" fill="#231F20">30</text>
<text x="2272.5" y="1005.32" font-size="19.1" text-anchor="middle" fill="#231F20">75</text>
<text x="2368.5" y="1005.32" font-size="19.1" text-anchor="middle" fill="#231F20">6</text>
<text x="2463.5" y="1005.32" font-size="19.1" text-anchor="middle" fill="#231F20">4</text>
<text x="1737.5" y="1032.04" font-size="19.1" text-anchor="middle" fill="#231F20">EPCRC40400235U</text>
<text x="1875" y="1032.04" font-size="19.1" text-anchor="middle" fill="#231F20">4.0</text>
<text x="1967.5" y="1032.04" font-size="19.1" text-anchor="middle" fill="#231F20">0.2R</text>
<text x="2060" y="1032.04" font-size="19.1" text-anchor="middle" fill="#231F20">4.0</text>
<text x="2165" y="1032.04" font-size="19.1" text-anchor="middle" fill="#231F20">35</text>
<text x="2272.5" y="1032.04" font-size="19.1" text-anchor="middle" fill="#231F20">75</text>
<text x="2368.5" y="1032.04" font-size="19.1" text-anchor="middle" fill="#231F20">6</text>
<text x="2463.5" y="1032.04" font-size="19.1" text-anchor="middle" fill="#231F20">4</text>
<rect x="1646" y="1039.3" width="865" height="25.92" fill="#E6E7E8"/>
<text x="1737.5" y="1058.76" font-size="19.1" text-anchor="middle" fill="#231F20">EPCRC40400313U</text>
<text x="1875" y="1058.76" font-size="19.1" text-anchor="middle" fill="#231F20">4.0</text>
<text x="1967.5" y="1058.76" font-size="19.1" text-anchor="middle" fill="#231F20">0.3R</text>
<text x="2060" y="1058.76" font-size="19.1" text-anchor="middle" fill="#231F20">4.0</text>
<text x="2165" y="1058.76" font-size="19.1" text-anchor="middle" fill="#231F20">13</text>
<text x="2272.5" y="1058.76" font-size="19.1" text-anchor="middle" fill="#231F20">50</text>
<text x="2368.5" y="1058.76" font-size="19.1" text-anchor="middle" fill="#231F20">6</text>
<text x="2463.5" y="1058.76" font-size="19.1" text-anchor="middle" fill="#231F20">4</text>
<text x="1737.5" y="1085.48" font-size="19.1" text-anchor="middle" fill="#231F20">EPCRC40400316U</text>
<text x="1875" y="1085.48" font-size="19.1" text-anchor="middle" fill="#231F20">4.0</text>
<text x="1967.5" y="1085.48" font-size="19.1" text-anchor="middle" fill="#231F20">0.3R</text>
<text x="2060" y="1085.48" font-size="19.1" text-anchor="middle" fill="#231F20">4.0</text>
<text x="2165" y="1085.48" font-size="19.1" text-anchor="middle" fill="#231F20">16</text>
<text x="2272.5" y="1085.48" font-size="19.1" text-anchor="middle" fill="#231F20">60</text>
<text x="2368.5" y="1085.48" font-size="19.1" text-anchor="middle" fill="#231F20">6</text>
<text x="2463.5" y="1085.48" font-size="19.1" text-anchor="middle" fill="#231F20">4</text>
<rect x="1646" y="1092.74" width="865" height="25.92" fill="#E6E7E8"/>
<text x="1737.5" y="1112.2" font-size="19.1" text-anchor="middle" fill="#231F20">EPCRC40400320U</text>
<text x="1875" y="1112.2" font-size="19.1" text-anchor="middle" fill="#231F20">4.0</text>
<text x="1967.5" y="1112.2" font-size="19.1" text-anchor="middle" fill="#231F20">0.3R</text>
<text x="2060" y="1112.2" font-size="19.1" text-anchor="middle" fill="#231F20">4.0</text>
<text x="2165" y="1112.2" font-size="19.1" text-anchor="middle" fill="#231F20">20</text>
<text x="2272.5" y="1112.2" font-size="19.1" text-anchor="middle" fill="#231F20">60</text>
<text x="2368.5" y="1112.2" font-size="19.1" text-anchor="middle" fill="#231F20">6</text>
<text x="2463.5" y="1112.2" font-size="19.1" text-anchor="middle" fill="#231F20">4</text>
<text x="1737.5" y="1138.92" font-size="19.1" text-anchor="middle" fill="#231F20">EPCRC40400325U</text>
<text x="1875" y="1138.92" font-size="19.1" text-anchor="middle" fill="#231F20">4.0</text>
<text x="1967.5" y="1138.92" font-size="19.1" text-anchor="middle" fill="#231F20">0.3R</text>
<text x="2060" y="1138.92" font-size="19.1" text-anchor="middle" fill="#231F20">4.0</text>
<text x="2165" y="1138.92" font-size="19.1" text-anchor="middle" fill="#231F20">25</text>
<text x="2272.5" y="1138.92" font-size="19.1" text-anchor="middle" fill="#231F20">60</text>
<text x="2368.5" y="1138.92" font-size="19.1" text-anchor="middle" fill="#231F20">6</text>
<text x="2463.5" y="1138.92" font-size="19.1" text-anchor="middle" fill="#231F20">4</text>
<rect x="1646" y="1146.18" width="865" height="25.92" fill="#E6E7E8"/>
<text x="1737.5" y="1165.64" font-size="19.1" text-anchor="middle" fill="#231F20">EPCRC40400330U</text>
<text x="1875" y="1165.64" font-size="19.1" text-anchor="middle" fill="#231F20">4.0</text>
<text x="1967.5" y="1165.64" font-size="19.1" text-anchor="middle" fill="#231F20">0.3R</text>
<text x="2060" y="1165.64" font-size="19.1" text-anchor="middle" fill="#231F20">4.0</text>
<text x="2165" y="1165.64" font-size="19.1" text-anchor="middle" fill="#231F20">30</text>
<text x="2272.5" y="1165.64" font-size="19.1" text-anchor="middle" fill="#231F20">75</text>
<text x="2368.5" y="1165.64" font-size="19.1" text-anchor="middle" fill="#231F20">6</text>
<text x="2463.5" y="1165.64" font-size="19.1" text-anchor="middle" fill="#231F20">4</text>
<text x="1737.5" y="1192.36" font-size="19.1" text-anchor="middle" fill="#231F20">EPCRC40400335U</text>
<text x="1875" y="1192.36" font-size="19.1" text-anchor="middle" fill="#231F20">4.0</text>
<text x="1967.5" y="1192.36" font-size="19.1" text-anchor="middle" fill="#231F20">0.3R</text>
<text x="2060" y="1192.36" font-size="19.1" text-anchor="middle" fill="#231F20">4.0</text>
<text x="2165" y="1192.36" font-size="19.1" text-anchor="middle" fill="#231F20">35</text>
<text x="2272.5" y="1192.36" font-size="19.1" text-anchor="middle" fill="#231F20">75</text>
<text x="2368.5" y="1192.36" font-size="19.1" text-anchor="middle" fill="#231F20">6</text>
<text x="2463.5" y="1192.36" font-size="19.1" text-anchor="middle" fill="#231F20">4</text>
<rect x="1646" y="1199.62" width="865" height="25.92" fill="#E6E7E8"/>
<text x="1737.5" y="1219.08" font-size="19.1" text-anchor="middle" fill="#231F20">EPCRC40400513U</text>
<text x="1875" y="1219.08" font-size="19.1" text-anchor="middle" fill="#231F20">4.0</text>
<text x="1967.5" y="1219.08" font-size="19.1" text-anchor="middle" fill="#231F20">0.5R</text>
<text x="2060" y="1219.08" font-size="19.1" text-anchor="middle" fill="#231F20">4.0</text>
<text x="2165" y="1219.08" font-size="19.1" text-anchor="middle" fill="#231F20">13</text>
<text x="2272.5" y="1219.08" font-size="19.1" text-anchor="middle" fill="#231F20">50</text>
<text x="2368.5" y="1219.08" font-size="19.1" text-anchor="middle" fill="#231F20">6</text>
<text x="2463.5" y="1219.08" font-size="19.1" text-anchor="middle" fill="#231F20">4</text>
<text x="1737.5" y="1245.8" font-size="19.1" text-anchor="middle" fill="#231F20">EPCRC40400516U</text>
<text x="1875" y="1245.8" font-size="19.1" text-anchor="middle" fill="#231F20">4.0</text>
<text x="1967.5" y="1245.8" font-size="19.1" text-anchor="middle" fill="#231F20">0.5R</text>
<text x="2060" y="1245.8" font-size="19.1" text-anchor="middle" fill="#231F20">4.0</text>
<text x="2165" y="1245.8" font-size="19.1" text-anchor="middle" fill="#231F20">16</text>
<text x="2272.5" y="1245.8" font-size="19.1" text-anchor="middle" fill="#231F20">60</text>
<text x="2368.5" y="1245.8" font-size="19.1" text-anchor="middle" fill="#231F20">6</text>
<text x="2463.5" y="1245.8" font-size="19.1" text-anchor="middle" fill="#231F20">4</text>
<rect x="1646" y="1253.06" width="865" height="25.92" fill="#E6E7E8"/>
<text x="1737.5" y="1272.52" font-size="19.1" text-anchor="middle" fill="#231F20">EPCRC40400520U</text>
<text x="1875" y="1272.52" font-size="19.1" text-anchor="middle" fill="#231F20">4.0</text>
<text x="1967.5" y="1272.52" font-size="19.1" text-anchor="middle" fill="#231F20">0.5R</text>
<text x="2060" y="1272.52" font-size="19.1" text-anchor="middle" fill="#231F20">4.0</text>
<text x="2165" y="1272.52" font-size="19.1" text-anchor="middle" fill="#231F20">20</text>
<text x="2272.5" y="1272.52" font-size="19.1" text-anchor="middle" fill="#231F20">60</text>
<text x="2368.5" y="1272.52" font-size="19.1" text-anchor="middle" fill="#231F20">6</text>
<text x="2463.5" y="1272.52" font-size="19.1" text-anchor="middle" fill="#231F20">4</text>
<text x="1737.5" y="1299.24" font-size="19.1" text-anchor="middle" fill="#231F20">EPCRC40400525U</text>
<text x="1875" y="1299.24" font-size="19.1" text-anchor="middle" fill="#231F20">4.0</text>
<text x="1967.5" y="1299.24" font-size="19.1" text-anchor="middle" fill="#231F20">0.5R</text>
<text x="2060" y="1299.24" font-size="19.1" text-anchor="middle" fill="#231F20">4.0</text>
<text x="2165" y="1299.24" font-size="19.1" text-anchor="middle" fill="#231F20">25</text>
<text x="2272.5" y="1299.24" font-size="19.1" text-anchor="middle" fill="#231F20">60</text>
<text x="2368.5" y="1299.24" font-size="19.1" text-anchor="middle" fill="#231F20">6</text>
<text x="2463.5" y="1299.24" font-size="19.1" text-anchor="middle" fill="#231F20">4</text>
<rect x="1646" y="1306.5" width="865" height="25.92" fill="#E6E7E8"/>
<text x="1737.5" y="1325.96" font-size="19.1" text-anchor="middle" fill="#231F20">EPCRC40400530U</text>
<text x="1875" y="1325.96" font-size="19.1" text-anchor="middle" fill="#231F20">4.0</text>
<text x="1967.5" y="1325.96" font-size="19.1" text-anchor="middle" fill="#231F20">0.5R</text>
<text x="2060" y="1325.96" font-size="19.1" text-anchor="middle" fill="#231F20">4.0</text>
<text x="2165" y="1325.96" font-size="19.1" text-anchor="middle" fill="#231F20">30</text>
<text x="2272.5" y="1325.96" font-size="19.1" text-anchor="middle" fill="#231F20">75</text>
<text x="2368.5" y="1325.96" font-size="19.1" text-anchor="middle" fill="#231F20">6</text>
<text x="2463.5" y="1325.96" font-size="19.1" text-anchor="middle" fill="#231F20">4</text>
<text x="1737.5" y="1352.68" font-size="19.1" text-anchor="middle" fill="#231F20">EPCRC40400535U</text>
<text x="1875" y="1352.68" font-size="19.1" text-anchor="middle" fill="#231F20">4.0</text>
<text x="1967.5" y="1352.68" font-size="19.1" text-anchor="middle" fill="#231F20">0.5R</text>
<text x="2060" y="1352.68" font-size="19.1" text-anchor="middle" fill="#231F20">4.0</text>
<text x="2165" y="1352.68" font-size="19.1" text-anchor="middle" fill="#231F20">35</text>
<text x="2272.5" y="1352.68" font-size="19.1" text-anchor="middle" fill="#231F20">75</text>
<text x="2368.5" y="1352.68" font-size="19.1" text-anchor="middle" fill="#231F20">6</text>
<text x="2463.5" y="1352.68" font-size="19.1" text-anchor="middle" fill="#231F20">4</text>
<rect x="1646" y="1359.94" width="865" height="25.92" fill="#E6E7E8"/>
<text x="1737.5" y="1379.4" font-size="19.1" text-anchor="middle" fill="#231F20">EPCRC40401013U</text>
<text x="1875" y="1379.4" font-size="19.1" text-anchor="middle" fill="#231F20">4.0</text>
<text x="1967.5" y="1379.4" font-size="19.1" text-anchor="middle" fill="#231F20">1.0R</text>
<text x="2060" y="1379.4" font-size="19.1" text-anchor="middle" fill="#231F20">4.0</text>
<text x="2165" y="1379.4" font-size="19.1" text-anchor="middle" fill="#231F20">13</text>
<text x="2272.5" y="1379.4" font-size="19.1" text-anchor="middle" fill="#231F20">50</text>
<text x="2368.5" y="1379.4" font-size="19.1" text-anchor="middle" fill="#231F20">6</text>
<text x="2463.5" y="1379.4" font-size="19.1" text-anchor="middle" fill="#231F20">4</text>
<text x="1737.5" y="1406.12" font-size="19.1" text-anchor="middle" fill="#231F20">EPCRC40401016U</text>
<text x="1875" y="1406.12" font-size="19.1" text-anchor="middle" fill="#231F20">4.0</text>
<text x="1967.5" y="1406.12" font-size="19.1" text-anchor="middle" fill="#231F20">1.0R</text>
<text x="2060" y="1406.12" font-size="19.1" text-anchor="middle" fill="#231F20">4.0</text>
<text x="2165" y="1406.12" font-size="19.1" text-anchor="middle" fill="#231F20">16</text>
<text x="2272.5" y="1406.12" font-size="19.1" text-anchor="middle" fill="#231F20">60</text>
<text x="2368.5" y="1406.12" font-size="19.1" text-anchor="middle" fill="#231F20">6</text>
<text x="2463.5" y="1406.12" font-size="19.1" text-anchor="middle" fill="#231F20">4</text>
<rect x="1646" y="1413.38" width="865" height="25.92" fill="#E6E7E8"/>
<text x="1737.5" y="1432.84" font-size="19.1" text-anchor="middle" fill="#231F20">EPCRC40401020U</text>
<text x="1875" y="1432.84" font-size="19.1" text-anchor="middle" fill="#231F20">4.0</text>
<text x="1967.5" y="1432.84" font-size="19.1" text-anchor="middle" fill="#231F20">1.0R</text>
<text x="2060" y="1432.84" font-size="19.1" text-anchor="middle" fill="#231F20">4.0</text>
<text x="2165" y="1432.84" font-size="19.1" text-anchor="middle" fill="#231F20">20</text>
<text x="2272.5" y="1432.84" font-size="19.1" text-anchor="middle" fill="#231F20">60</text>
<text x="2368.5" y="1432.84" font-size="19.1" text-anchor="middle" fill="#231F20">6</text>
<text x="2463.5" y="1432.84" font-size="19.1" text-anchor="middle" fill="#231F20">4</text>
<text x="1737.5" y="1459.56" font-size="19.1" text-anchor="middle" fill="#231F20">EPCRC40401025U</text>
<text x="1875" y="1459.56" font-size="19.1" text-anchor="middle" fill="#231F20">4.0</text>
<text x="1967.5" y="1459.56" font-size="19.1" text-anchor="middle" fill="#231F20">1.0R</text>
<text x="2060" y="1459.56" font-size="19.1" text-anchor="middle" fill="#231F20">4.0</text>
<text x="2165" y="1459.56" font-size="19.1" text-anchor="middle" fill="#231F20">25</text>
<text x="2272.5" y="1459.56" font-size="19.1" text-anchor="middle" fill="#231F20">60</text>
<text x="2368.5" y="1459.56" font-size="19.1" text-anchor="middle" fill="#231F20">6</text>
<text x="2463.5" y="1459.56" font-size="19.1" text-anchor="middle" fill="#231F20">4</text>
<rect x="1646" y="1466.82" width="865" height="25.92" fill="#E6E7E8"/>
<text x="1737.5" y="1486.28" font-size="19.1" text-anchor="middle" fill="#231F20">EPCRC40401030U</text>
<text x="1875" y="1486.28" font-size="19.1" text-anchor="middle" fill="#231F20">4.0</text>
<text x="1967.5" y="1486.28" font-size="19.1" text-anchor="middle" fill="#231F20">1.0R</text>
<text x="2060" y="1486.28" font-size="19.1" text-anchor="middle" fill="#231F20">4.0</text>
<text x="2165" y="1486.28" font-size="19.1" text-anchor="middle" fill="#231F20">30</text>
<text x="2272.5" y="1486.28" font-size="19.1" text-anchor="middle" fill="#231F20">75</text>
<text x="2368.5" y="1486.28" font-size="19.1" text-anchor="middle" fill="#231F20">6</text>
<text x="2463.5" y="1486.28" font-size="19.1" text-anchor="middle" fill="#231F20">4</text>
<text x="1737.5" y="1513" font-size="19.1" text-anchor="middle" fill="#231F20">EPCRC40401035U</text>
<text x="1875" y="1513" font-size="19.1" text-anchor="middle" fill="#231F20">4.0</text>
<text x="1967.5" y="1513" font-size="19.1" text-anchor="middle" fill="#231F20">1.0R</text>
<text x="2060" y="1513" font-size="19.1" text-anchor="middle" fill="#231F20">4.0</text>
<text x="2165" y="1513" font-size="19.1" text-anchor="middle" fill="#231F20">35</text>
<text x="2272.5" y="1513" font-size="19.1" text-anchor="middle" fill="#231F20">75</text>
<text x="2368.5" y="1513" font-size="19.1" text-anchor="middle" fill="#231F20">6</text>
<text x="2463.5" y="1513" font-size="19.1" text-anchor="middle" fill="#231F20">4</text>
<rect x="1646" y="1520.26" width="848.5" height="25.92" fill="#E6E7E8"/>
<text x="1737.5" y="1539.72" font-size="19.1" text-anchor="middle" fill="#231F20">EPCRC40500116U</text>
<text x="1875" y="1539.72" font-size="19.1" text-anchor="middle" fill="#231F20">5.0</text>
<text x="1967.5" y="1539.72" font-size="19.1" text-anchor="middle" fill="#231F20">0.1R</text>
<text x="2060" y="1539.72" font-size="19.1" text-anchor="middle" fill="#231F20">5.0</text>
<text x="2165" y="1539.72" font-size="19.1" text-anchor="middle" fill="#231F20">16</text>
<text x="2272.5" y="1539.72" font-size="19.1" text-anchor="middle" fill="#231F20">60</text>
<text x="2368.5" y="1539.72" font-size="19.1" text-anchor="middle" fill="#231F20">6</text>
<text x="2463.5" y="1539.72" font-size="19.1" text-anchor="middle" fill="#231F20">4</text>
<rect x="2913.5" y="20.9" width="188" height="84.3" fill="#BCBEC0"/>
<rect x="3103.5" y="20.9" width="93" height="84.3" fill="#BCBEC0"/>
<rect x="3198.5" y="20.9" width="92.5" height="84.3" fill="#BCBEC0"/>
<rect x="3293" y="20.9" width="94" height="84.3" fill="#BCBEC0"/>
<rect x="3389" y="20.9" width="118.5" height="84.3" fill="#BCBEC0"/>
<rect x="3509.5" y="20.9" width="97.5" height="84.3" fill="#BCBEC0"/>
<rect x="3609" y="20.9" width="96.5" height="84.3" fill="#BCBEC0"/>
<rect x="3707.5" y="20.9" width="97" height="84.3" fill="#BCBEC0"/>
<text x="3155.1" y="52.4" font-size="19.6" font-weight="bold" text-anchor="middle" fill="#231F20">średnica</text>
<text x="3155.4" y="75" font-size="19.3" text-anchor="middle" fill="#FFFFFF">(d)</text>
<text x="3250.7" y="41" font-size="19.6" font-weight="bold" text-anchor="middle" fill="#231F20">promień</text>
<text x="3250.7" y="63.8" font-size="19.6" font-weight="bold" text-anchor="middle" fill="#231F20">naroża</text>
<text x="3251.2" y="88.3" font-size="19.3" text-anchor="middle" fill="#FFFFFF">(R)</text>
<text x="3340.6" y="41.8" font-size="19.6" font-weight="bold" text-anchor="middle" fill="#231F20">długość</text>
<text x="3340.7" y="65.3" font-size="19.6" font-weight="bold" text-anchor="middle" fill="#231F20">ostrza</text>
<text x="3340.3" y="94" font-size="19.3" text-anchor="middle" fill="#FFFFFF">(L1)</text>
<text x="3449.8" y="41.8" font-size="19.6" font-weight="bold" text-anchor="middle" fill="#231F20">długość</text>
<text x="3450.1" y="65.3" font-size="19.6" font-weight="bold" text-anchor="middle" fill="#231F20">ostrza</text>
<text x="3450.1" y="88.3" font-size="19.3" text-anchor="middle" fill="#FFFFFF">(L2)</text>
<text x="3552.3" y="41" font-size="19.6" font-weight="bold" text-anchor="middle" fill="#231F20">długość</text>
<text x="3559.9" y="64.6" font-size="19.6" font-weight="bold" text-anchor="middle" fill="#231F20">całkowita</text>
<text x="3527.6" y="94" font-size="19.3" text-anchor="middle" fill="#FFFFFF">(L)</text>
<text x="3655.8" y="52.4" font-size="19.6" font-weight="bold" text-anchor="middle" fill="#231F20">chwyt</text>
<text x="3655.6" y="80.7" font-size="19.3" text-anchor="middle" fill="#FFFFFF">(D)</text>
<text x="3749.9" y="39.9" font-size="19.6" font-weight="bold" text-anchor="middle" fill="#231F20">ilość</text>
<text x="3756.5" y="64.6" font-size="19.6" font-weight="bold" text-anchor="middle" fill="#231F20">ostrzy</text>
<text x="3768.9" y="92" font-size="19.3" text-anchor="middle" fill="#FFFFFF">(F)</text>
<text x="3008" y="126.46" font-size="19.65" text-anchor="middle" fill="#231F20">EPCRC40500130U</text>
<text x="3150" y="126.46" font-size="19.65" text-anchor="middle" fill="#231F20">5.0</text>
<text x="3244.75" y="126.46" font-size="19.65" text-anchor="middle" fill="#231F20">0.1R</text>
<text x="3340" y="126.46" font-size="19.65" text-anchor="middle" fill="#231F20">5.0</text>
<text x="3448.25" y="126.46" font-size="19.65" text-anchor="middle" fill="#231F20">30</text>
<text x="3558.25" y="126.46" font-size="19.65" text-anchor="middle" fill="#231F20">60</text>
<text x="3657.25" y="126.46" font-size="19.65" text-anchor="middle" fill="#231F20">6</text>
<text x="3755.5" y="126.46" font-size="19.65" text-anchor="middle" fill="#231F20">4</text>
<rect x="2913.5" y="134.42" width="891" height="26.12" fill="#E6E7E8"/>
<text x="3008" y="153.98" font-size="19.65" text-anchor="middle" fill="#231F20">EPCRC40500216U</text>
<text x="3150" y="153.98" font-size="19.65" text-anchor="middle" fill="#231F20">5.0</text>
<text x="3244.75" y="153.98" font-size="19.65" text-anchor="middle" fill="#231F20">0.2R</text>
<text x="3340" y="153.98" font-size="19.65" text-anchor="middle" fill="#231F20">5.0</text>
<text x="3448.25" y="153.98" font-size="19.65" text-anchor="middle" fill="#231F20">16</text>
<text x="3558.25" y="153.98" font-size="19.65" text-anchor="middle" fill="#231F20">60</text>
<text x="3657.25" y="153.98" font-size="19.65" text-anchor="middle" fill="#231F20">6</text>
<text x="3755.5" y="153.98" font-size="19.65" text-anchor="middle" fill="#231F20">4</text>
<text x="3008" y="181.5" font-size="19.65" text-anchor="middle" fill="#231F20">EPCRC40500230U</text>
<text x="3150" y="181.5" font-size="19.65" text-anchor="middle" fill="#231F20">5.0</text>
<text x="3244.75" y="181.5" font-size="19.65" text-anchor="middle" fill="#231F20">0.2R</text>
<text x="3340" y="181.5" font-size="19.65" text-anchor="middle" fill="#231F20">5.0</text>
<text x="3448.25" y="181.5" font-size="19.65" text-anchor="middle" fill="#231F20">30</text>
<text x="3558.25" y="181.5" font-size="19.65" text-anchor="middle" fill="#231F20">60</text>
<text x="3657.25" y="181.5" font-size="19.65" text-anchor="middle" fill="#231F20">6</text>
<text x="3755.5" y="181.5" font-size="19.65" text-anchor="middle" fill="#231F20">4</text>
<rect x="2913.5" y="189.46" width="891" height="26.12" fill="#E6E7E8"/>
<text x="3008" y="209.02" font-size="19.65" text-anchor="middle" fill="#231F20">EPCRC40500316U</text>
<text x="3150" y="209.02" font-size="19.65" text-anchor="middle" fill="#231F20">5.0</text>
<text x="3244.75" y="209.02" font-size="19.65" text-anchor="middle" fill="#231F20">0.3R</text>
<text x="3340" y="209.02" font-size="19.65" text-anchor="middle" fill="#231F20">5.0</text>
<text x="3448.25" y="209.02" font-size="19.65" text-anchor="middle" fill="#231F20">16</text>
<text x="3558.25" y="209.02" font-size="19.65" text-anchor="middle" fill="#231F20">60</text>
<text x="3657.25" y="209.02" font-size="19.65" text-anchor="middle" fill="#231F20">6</text>
<text x="3755.5" y="209.02" font-size="19.65" text-anchor="middle" fill="#231F20">4</text>
<text x="3008" y="236.54" font-size="19.65" text-anchor="middle" fill="#231F20">EPCRC40500330U</text>
<text x="3150" y="236.54" font-size="19.65" text-anchor="middle" fill="#231F20">5.0</text>
<text x="3244.75" y="236.54" font-size="19.65" text-anchor="middle" fill="#231F20">0.3R</text>
<text x="3340" y="236.54" font-size="19.65" text-anchor="middle" fill="#231F20">5.0</text>
<text x="3448.25" y="236.54" font-size="19.65" text-anchor="middle" fill="#231F20">30</text>
<text x="3558.25" y="236.54" font-size="19.65" text-anchor="middle" fill="#231F20">60</text>
<text x="3657.25" y="236.54" font-size="19.65" text-anchor="middle" fill="#231F20">6</text>
<text x="3755.5" y="236.54" font-size="19.65" text-anchor="middle" fill="#231F20">4</text>
<rect x="2913.5" y="244.5" width="891" height="26.12" fill="#E6E7E8"/>
<text x="3008" y="264.06" font-size="19.65" text-anchor="middle" fill="#231F20">EPCRC40500516U</text>
<text x="3150" y="264.06" font-size="19.65" text-anchor="middle" fill="#231F20">5.0</text>
<text x="3244.75" y="264.06" font-size="19.65" text-anchor="middle" fill="#231F20">0.5R</text>
<text x="3340" y="264.06" font-size="19.65" text-anchor="middle" fill="#231F20">5.0</text>
<text x="3448.25" y="264.06" font-size="19.65" text-anchor="middle" fill="#231F20">16</text>
<text x="3558.25" y="264.06" font-size="19.65" text-anchor="middle" fill="#231F20">60</text>
<text x="3657.25" y="264.06" font-size="19.65" text-anchor="middle" fill="#231F20">6</text>
<text x="3755.5" y="264.06" font-size="19.65" text-anchor="middle" fill="#231F20">4</text>
<text x="3008" y="291.58" font-size="19.65" text-anchor="middle" fill="#231F20">EPCRC40500530U</text>
<text x="3150" y="291.58" font-size="19.65" text-anchor="middle" fill="#231F20">5.0</text>
<text x="3244.75" y="291.58" font-size="19.65" text-anchor="middle" fill="#231F20">0.5R</text>
<text x="3340" y="291.58" font-size="19.65" text-anchor="middle" fill="#231F20">5.0</text>
<text x="3448.25" y="291.58" font-size="19.65" text-anchor="middle" fill="#231F20">30</text>
<text x="3558.25" y="291.58" font-size="19.65" text-anchor="middle" fill="#231F20">60</text>
<text x="3657.25" y="291.58" font-size="19.65" text-anchor="middle" fill="#231F20">6</text>
<text x="3755.5" y="291.58" font-size="19.65" text-anchor="middle" fill="#231F20">4</text>
<rect x="2913.5" y="299.54" width="891" height="26.12" fill="#E6E7E8"/>
<text x="3008" y="319.1" font-size="19.65" text-anchor="middle" fill="#231F20">EPCRC40501016U</text>
<text x="3150" y="319.1" font-size="19.65" text-anchor="middle" fill="#231F20">5.0</text>
<text x="3244.75" y="319.1" font-size="19.65" text-anchor="middle" fill="#231F20">1.0R</text>
<text x="3340" y="319.1" font-size="19.65" text-anchor="middle" fill="#231F20">5.0</text>
<text x="3448.25" y="319.1" font-size="19.65" text-anchor="middle" fill="#231F20">16</text>
<text x="3558.25" y="319.1" font-size="19.65" text-anchor="middle" fill="#231F20">60</text>
<text x="3657.25" y="319.1" font-size="19.65" text-anchor="middle" fill="#231F20">6</text>
<text x="3755.5" y="319.1" font-size="19.65" text-anchor="middle" fill="#231F20">4</text>
<text x="3008" y="346.62" font-size="19.65" text-anchor="middle" fill="#231F20">EPCRC40501030U</text>
<text x="3150" y="346.62" font-size="19.65" text-anchor="middle" fill="#231F20">5.0</text>
<text x="3244.75" y="346.62" font-size="19.65" text-anchor="middle" fill="#231F20">1.0R</text>
<text x="3340" y="346.62" font-size="19.65" text-anchor="middle" fill="#231F20">5.0</text>
<text x="3448.25" y="346.62" font-size="19.65" text-anchor="middle" fill="#231F20">30</text>
<text x="3558.25" y="346.62" font-size="19.65" text-anchor="middle" fill="#231F20">60</text>
<text x="3657.25" y="346.62" font-size="19.65" text-anchor="middle" fill="#231F20">6</text>
<text x="3755.5" y="346.62" font-size="19.65" text-anchor="middle" fill="#231F20">4</text>
<rect x="2913.5" y="354.58" width="891" height="26.12" fill="#E6E7E8"/>
<text x="3008" y="374.14" font-size="19.65" text-anchor="middle" fill="#231F20">EPCRC40600120U</text>
<text x="3150" y="374.14" font-size="19.65" text-anchor="middle" fill="#231F20">6.0</text>
<text x="3244.75" y="374.14" font-size="19.65" text-anchor="middle" fill="#231F20">0.1R</text>
<text x="3340" y="374.14" font-size="19.65" text-anchor="middle" fill="#231F20">7.0</text>
<text x="3448.25" y="374.14" font-size="19.65" text-anchor="middle" fill="#231F20">20</text>
<text x="3558.25" y="374.14" font-size="19.65" text-anchor="middle" fill="#231F20">60</text>
<text x="3657.25" y="374.14" font-size="19.65" text-anchor="middle" fill="#231F20">6</text>
<text x="3755.5" y="374.14" font-size="19.65" text-anchor="middle" fill="#231F20">4</text>
<text x="3008" y="401.66" font-size="19.65" text-anchor="middle" fill="#231F20">EPCRC40600130U</text>
<text x="3150" y="401.66" font-size="19.65" text-anchor="middle" fill="#231F20">6.0</text>
<text x="3244.75" y="401.66" font-size="19.65" text-anchor="middle" fill="#231F20">0.1R</text>
<text x="3340" y="401.66" font-size="19.65" text-anchor="middle" fill="#231F20">7.0</text>
<text x="3448.25" y="401.66" font-size="19.65" text-anchor="middle" fill="#231F20">30</text>
<text x="3558.25" y="401.66" font-size="19.65" text-anchor="middle" fill="#231F20">60</text>
<text x="3657.25" y="401.66" font-size="19.65" text-anchor="middle" fill="#231F20">6</text>
<text x="3755.5" y="401.66" font-size="19.65" text-anchor="middle" fill="#231F20">4</text>
<rect x="2913.5" y="409.62" width="891" height="26.12" fill="#E6E7E8"/>
<text x="3008" y="429.18" font-size="19.65" text-anchor="middle" fill="#231F20">EPCRC40600220U</text>
<text x="3150" y="429.18" font-size="19.65" text-anchor="middle" fill="#231F20">6.0</text>
<text x="3244.75" y="429.18" font-size="19.65" text-anchor="middle" fill="#231F20">0.2R</text>
<text x="3340" y="429.18" font-size="19.65" text-anchor="middle" fill="#231F20">7.0</text>
<text x="3448.25" y="429.18" font-size="19.65" text-anchor="middle" fill="#231F20">20</text>
<text x="3558.25" y="429.18" font-size="19.65" text-anchor="middle" fill="#231F20">60</text>
<text x="3657.25" y="429.18" font-size="19.65" text-anchor="middle" fill="#231F20">6</text>
<text x="3755.5" y="429.18" font-size="19.65" text-anchor="middle" fill="#231F20">4</text>
<text x="3008" y="456.7" font-size="19.65" text-anchor="middle" fill="#231F20">EPCRC40600230U</text>
<text x="3150" y="456.7" font-size="19.65" text-anchor="middle" fill="#231F20">6.0</text>
<text x="3244.75" y="456.7" font-size="19.65" text-anchor="middle" fill="#231F20">0.2R</text>
<text x="3340" y="456.7" font-size="19.65" text-anchor="middle" fill="#231F20">7.0</text>
<text x="3448.25" y="456.7" font-size="19.65" text-anchor="middle" fill="#231F20">30</text>
<text x="3558.25" y="456.7" font-size="19.65" text-anchor="middle" fill="#231F20">60</text>
<text x="3657.25" y="456.7" font-size="19.65" text-anchor="middle" fill="#231F20">6</text>
<text x="3755.5" y="456.7" font-size="19.65" text-anchor="middle" fill="#231F20">4</text>
<rect x="2913.5" y="464.66" width="891" height="26.12" fill="#E6E7E8"/>
<text x="3008" y="484.22" font-size="19.65" text-anchor="middle" fill="#231F20">EPCRC40600320U</text>
<text x="3150" y="484.22" font-size="19.65" text-anchor="middle" fill="#231F20">6.0</text>
<text x="3244.75" y="484.22" font-size="19.65" text-anchor="middle" fill="#231F20">0.3R</text>
<text x="3340" y="484.22" font-size="19.65" text-anchor="middle" fill="#231F20">7.0</text>
<text x="3448.25" y="484.22" font-size="19.65" text-anchor="middle" fill="#231F20">20</text>
<text x="3558.25" y="484.22" font-size="19.65" text-anchor="middle" fill="#231F20">60</text>
<text x="3657.25" y="484.22" font-size="19.65" text-anchor="middle" fill="#231F20">6</text>
<text x="3755.5" y="484.22" font-size="19.65" text-anchor="middle" fill="#231F20">4</text>
<text x="3008" y="511.74" font-size="19.65" text-anchor="middle" fill="#231F20">EPCRC40600330U</text>
<text x="3150" y="511.74" font-size="19.65" text-anchor="middle" fill="#231F20">6.0</text>
<text x="3244.75" y="511.74" font-size="19.65" text-anchor="middle" fill="#231F20">0.3R</text>
<text x="3340" y="511.74" font-size="19.65" text-anchor="middle" fill="#231F20">7.0</text>
<text x="3448.25" y="511.74" font-size="19.65" text-anchor="middle" fill="#231F20">30</text>
<text x="3558.25" y="511.74" font-size="19.65" text-anchor="middle" fill="#231F20">60</text>
<text x="3657.25" y="511.74" font-size="19.65" text-anchor="middle" fill="#231F20">6</text>
<text x="3755.5" y="511.74" font-size="19.65" text-anchor="middle" fill="#231F20">4</text>
<rect x="2913.5" y="519.7" width="891" height="26.12" fill="#E6E7E8"/>
<text x="3008" y="539.26" font-size="19.65" text-anchor="middle" fill="#231F20">EPCRC40600520U</text>
<text x="3150" y="539.26" font-size="19.65" text-anchor="middle" fill="#231F20">6.0</text>
<text x="3244.75" y="539.26" font-size="19.65" text-anchor="middle" fill="#231F20">0.5R</text>
<text x="3340" y="539.26" font-size="19.65" text-anchor="middle" fill="#231F20">7.0</text>
<text x="3448.25" y="539.26" font-size="19.65" text-anchor="middle" fill="#231F20">20</text>
<text x="3558.25" y="539.26" font-size="19.65" text-anchor="middle" fill="#231F20">60</text>
<text x="3657.25" y="539.26" font-size="19.65" text-anchor="middle" fill="#231F20">6</text>
<text x="3755.5" y="539.26" font-size="19.65" text-anchor="middle" fill="#231F20">4</text>
<text x="3008" y="566.78" font-size="19.65" text-anchor="middle" fill="#231F20">EPCRC40600530U</text>
<text x="3150" y="566.78" font-size="19.65" text-anchor="middle" fill="#231F20">6.0</text>
<text x="3244.75" y="566.78" font-size="19.65" text-anchor="middle" fill="#231F20">0.5R</text>
<text x="3340" y="566.78" font-size="19.65" text-anchor="middle" fill="#231F20">7.0</text>
<text x="3448.25" y="566.78" font-size="19.65" text-anchor="middle" fill="#231F20">30</text>
<text x="3558.25" y="566.78" font-size="19.65" text-anchor="middle" fill="#231F20">60</text>
<text x="3657.25" y="566.78" font-size="19.65" text-anchor="middle" fill="#231F20">6</text>
<text x="3755.5" y="566.78" font-size="19.65" text-anchor="middle" fill="#231F20">4</text>
<rect x="2913.5" y="574.74" width="891" height="26.12" fill="#E6E7E8"/>
<text x="3008" y="594.3" font-size="19.65" text-anchor="middle" fill="#231F20">EPCRC40601020U</text>
<text x="3150" y="594.3" font-size="19.65" text-anchor="middle" fill="#231F20">6.0</text>
<text x="3244.75" y="594.3" font-size="19.65" text-anchor="middle" fill="#231F20">1.0R</text>
<text x="3340" y="594.3" font-size="19.65" text-anchor="middle" fill="#231F20">7.0</text>
<text x="3448.25" y="594.3" font-size="19.65" text-anchor="middle" fill="#231F20">20</text>
<text x="3558.25" y="594.3" font-size="19.65" text-anchor="middle" fill="#231F20">60</text>
<text x="3657.25" y="594.3" font-size="19.65" text-anchor="middle" fill="#231F20">6</text>
<text x="3755.5" y="594.3" font-size="19.65" text-anchor="middle" fill="#231F20">4</text>
<text x="3008" y="621.82" font-size="19.65" text-anchor="middle" fill="#231F20">EPCRC40601030U</text>
<text x="3150" y="621.82" font-size="19.65" text-anchor="middle" fill="#231F20">6.0</text>
<text x="3244.75" y="621.82" font-size="19.65" text-anchor="middle" fill="#231F20">1.0R</text>
<text x="3340" y="621.82" font-size="19.65" text-anchor="middle" fill="#231F20">7.0</text>
<text x="3448.25" y="621.82" font-size="19.65" text-anchor="middle" fill="#231F20">30</text>
<text x="3558.25" y="621.82" font-size="19.65" text-anchor="middle" fill="#231F20">60</text>
<text x="3657.25" y="621.82" font-size="19.65" text-anchor="middle" fill="#231F20">6</text>
<text x="3755.5" y="621.82" font-size="19.65" text-anchor="middle" fill="#231F20">4</text>
<rect x="2913.5" y="629.78" width="891" height="26.12" fill="#E6E7E8"/>
<text x="3008" y="649.34" font-size="19.65" text-anchor="middle" fill="#231F20">EPCRC40601520U</text>
<text x="3150" y="649.34" font-size="19.65" text-anchor="middle" fill="#231F20">6.0</text>
<text x="3244.75" y="649.34" font-size="19.65" text-anchor="middle" fill="#231F20">1.5R</text>
<text x="3340" y="649.34" font-size="19.65" text-anchor="middle" fill="#231F20">7.0</text>
<text x="3448.25" y="649.34" font-size="19.65" text-anchor="middle" fill="#231F20">20</text>
<text x="3558.25" y="649.34" font-size="19.65" text-anchor="middle" fill="#231F20">60</text>
<text x="3657.25" y="649.34" font-size="19.65" text-anchor="middle" fill="#231F20">6</text>
<text x="3755.5" y="649.34" font-size="19.65" text-anchor="middle" fill="#231F20">4</text>
<text x="3008" y="676.86" font-size="19.65" text-anchor="middle" fill="#231F20">EPCRC40601530U</text>
<text x="3150" y="676.86" font-size="19.65" text-anchor="middle" fill="#231F20">6.0</text>
<text x="3244.75" y="676.86" font-size="19.65" text-anchor="middle" fill="#231F20">1.5R</text>
<text x="3340" y="676.86" font-size="19.65" text-anchor="middle" fill="#231F20">7.0</text>
<text x="3448.25" y="676.86" font-size="19.65" text-anchor="middle" fill="#231F20">30</text>
<text x="3558.25" y="676.86" font-size="19.65" text-anchor="middle" fill="#231F20">60</text>
<text x="3657.25" y="676.86" font-size="19.65" text-anchor="middle" fill="#231F20">6</text>
<text x="3755.5" y="676.86" font-size="19.65" text-anchor="middle" fill="#231F20">4</text>
<rect x="2913.5" y="684.82" width="891" height="26.12" fill="#E6E7E8"/>
<text x="3008" y="704.38" font-size="19.65" text-anchor="middle" fill="#231F20">EPCRC40800522U</text>
<text x="3150" y="704.38" font-size="19.65" text-anchor="middle" fill="#231F20">8.0</text>
<text x="3244.75" y="704.38" font-size="19.65" text-anchor="middle" fill="#231F20">0.5R</text>
<text x="3340" y="704.38" font-size="19.65" text-anchor="middle" fill="#231F20">9.0</text>
<text x="3448.25" y="704.38" font-size="19.65" text-anchor="middle" fill="#231F20">22</text>
<text x="3558.25" y="704.38" font-size="19.65" text-anchor="middle" fill="#231F20">60</text>
<text x="3657.25" y="704.38" font-size="19.65" text-anchor="middle" fill="#231F20">8</text>
<text x="3755.5" y="704.38" font-size="19.65" text-anchor="middle" fill="#231F20">4</text>
<text x="3008" y="731.9" font-size="19.65" text-anchor="middle" fill="#231F20">EPCRC40801022U</text>
<text x="3150" y="731.9" font-size="19.65" text-anchor="middle" fill="#231F20">8.0</text>
<text x="3244.75" y="731.9" font-size="19.65" text-anchor="middle" fill="#231F20">1.0R</text>
<text x="3340" y="731.9" font-size="19.65" text-anchor="middle" fill="#231F20">9.0</text>
<text x="3448.25" y="731.9" font-size="19.65" text-anchor="middle" fill="#231F20">22</text>
<text x="3558.25" y="731.9" font-size="19.65" text-anchor="middle" fill="#231F20">60</text>
<text x="3657.25" y="731.9" font-size="19.65" text-anchor="middle" fill="#231F20">8</text>
<text x="3755.5" y="731.9" font-size="19.65" text-anchor="middle" fill="#231F20">4</text>
<rect x="2913.5" y="739.86" width="891" height="26.12" fill="#E6E7E8"/>
<text x="3008" y="759.42" font-size="19.65" text-anchor="middle" fill="#231F20">EPCRC40801522U</text>
<text x="3150" y="759.42" font-size="19.65" text-anchor="middle" fill="#231F20">8.0</text>
<text x="3244.75" y="759.42" font-size="19.65" text-anchor="middle" fill="#231F20">1.5R</text>
<text x="3340" y="759.42" font-size="19.65" text-anchor="middle" fill="#231F20">9.0</text>
<text x="3448.25" y="759.42" font-size="19.65" text-anchor="middle" fill="#231F20">22</text>
<text x="3558.25" y="759.42" font-size="19.65" text-anchor="middle" fill="#231F20">60</text>
<text x="3657.25" y="759.42" font-size="19.65" text-anchor="middle" fill="#231F20">8</text>
<text x="3755.5" y="759.42" font-size="19.65" text-anchor="middle" fill="#231F20">4</text>
<text x="3008" y="786.94" font-size="19.65" text-anchor="middle" fill="#231F20">EPCRC40802022U</text>
<text x="3150" y="786.94" font-size="19.65" text-anchor="middle" fill="#231F20">8.0</text>
<text x="3244.75" y="786.94" font-size="19.65" text-anchor="middle" fill="#231F20">2.0R</text>
<text x="3340" y="786.94" font-size="19.65" text-anchor="middle" fill="#231F20">9.0</text>
<text x="3448.25" y="786.94" font-size="19.65" text-anchor="middle" fill="#231F20">22</text>
<text x="3558.25" y="786.94" font-size="19.65" text-anchor="middle" fill="#231F20">60</text>
<text x="3657.25" y="786.94" font-size="19.65" text-anchor="middle" fill="#231F20">8</text>
<text x="3755.5" y="786.94" font-size="19.65" text-anchor="middle" fill="#231F20">4</text>
<rect x="2913.5" y="794.9" width="891" height="26.12" fill="#E6E7E8"/>
<text x="3008" y="814.46" font-size="19.65" text-anchor="middle" fill="#231F20">EPCRC41000524U</text>
<text x="3150" y="814.46" font-size="19.65" text-anchor="middle" fill="#231F20">10.0</text>
<text x="3244.75" y="814.46" font-size="19.65" text-anchor="middle" fill="#231F20">0.5R</text>
<text x="3340" y="814.46" font-size="19.65" text-anchor="middle" fill="#231F20">11.0</text>
<text x="3448.25" y="814.46" font-size="19.65" text-anchor="middle" fill="#231F20">24</text>
<text x="3558.25" y="814.46" font-size="19.65" text-anchor="middle" fill="#231F20">75</text>
<text x="3657.25" y="814.46" font-size="19.65" text-anchor="middle" fill="#231F20">10</text>
<text x="3755.5" y="814.46" font-size="19.65" text-anchor="middle" fill="#231F20">4</text>
<text x="3008" y="841.98" font-size="19.65" text-anchor="middle" fill="#231F20">EPCRC41001024U</text>
<text x="3150" y="841.98" font-size="19.65" text-anchor="middle" fill="#231F20">10.0</text>
<text x="3244.75" y="841.98" font-size="19.65" text-anchor="middle" fill="#231F20">1.0R</text>
<text x="3340" y="841.98" font-size="19.65" text-anchor="middle" fill="#231F20">11.0</text>
<text x="3448.25" y="841.98" font-size="19.65" text-anchor="middle" fill="#231F20">24</text>
<text x="3558.25" y="841.98" font-size="19.65" text-anchor="middle" fill="#231F20">75</text>
<text x="3657.25" y="841.98" font-size="19.65" text-anchor="middle" fill="#231F20">10</text>
<text x="3755.5" y="841.98" font-size="19.65" text-anchor="middle" fill="#231F20">4</text>
<rect x="2913.5" y="849.94" width="891" height="26.12" fill="#E6E7E8"/>
<text x="3008" y="869.5" font-size="19.65" text-anchor="middle" fill="#231F20">EPCRC41001524U</text>
<text x="3150" y="869.5" font-size="19.65" text-anchor="middle" fill="#231F20">10.0</text>
<text x="3244.75" y="869.5" font-size="19.65" text-anchor="middle" fill="#231F20">1.5R</text>
<text x="3340" y="869.5" font-size="19.65" text-anchor="middle" fill="#231F20">11.0</text>
<text x="3448.25" y="869.5" font-size="19.65" text-anchor="middle" fill="#231F20">24</text>
<text x="3558.25" y="869.5" font-size="19.65" text-anchor="middle" fill="#231F20">75</text>
<text x="3657.25" y="869.5" font-size="19.65" text-anchor="middle" fill="#231F20">10</text>
<text x="3755.5" y="869.5" font-size="19.65" text-anchor="middle" fill="#231F20">4</text>
<text x="3008" y="897.02" font-size="19.65" text-anchor="middle" fill="#231F20">EPCRC41002024U</text>
<text x="3150" y="897.02" font-size="19.65" text-anchor="middle" fill="#231F20">10.0</text>
<text x="3244.75" y="897.02" font-size="19.65" text-anchor="middle" fill="#231F20">2.0R</text>
<text x="3340" y="897.02" font-size="19.65" text-anchor="middle" fill="#231F20">11.0</text>
<text x="3448.25" y="897.02" font-size="19.65" text-anchor="middle" fill="#231F20">24</text>
<text x="3558.25" y="897.02" font-size="19.65" text-anchor="middle" fill="#231F20">75</text>
<text x="3657.25" y="897.02" font-size="19.65" text-anchor="middle" fill="#231F20">10</text>
<text x="3755.5" y="897.02" font-size="19.65" text-anchor="middle" fill="#231F20">4</text>
<rect x="2913.5" y="904.98" width="891" height="26.12" fill="#E6E7E8"/>
<text x="3008" y="924.54" font-size="19.65" text-anchor="middle" fill="#231F20">EPCRC41200526U</text>
<text x="3150" y="924.54" font-size="19.65" text-anchor="middle" fill="#231F20">12.0</text>
<text x="3244.75" y="924.54" font-size="19.65" text-anchor="middle" fill="#231F20">0.5R</text>
<text x="3340" y="924.54" font-size="19.65" text-anchor="middle" fill="#231F20">13.0</text>
<text x="3448.25" y="924.54" font-size="19.65" text-anchor="middle" fill="#231F20">26</text>
<text x="3558.25" y="924.54" font-size="19.65" text-anchor="middle" fill="#231F20">75</text>
<text x="3657.25" y="924.54" font-size="19.65" text-anchor="middle" fill="#231F20">12</text>
<text x="3755.5" y="924.54" font-size="19.65" text-anchor="middle" fill="#231F20">4</text>
<text x="3008" y="952.06" font-size="19.65" text-anchor="middle" fill="#231F20">EPCRC41201026U</text>
<text x="3150" y="952.06" font-size="19.65" text-anchor="middle" fill="#231F20">12.0</text>
<text x="3244.75" y="952.06" font-size="19.65" text-anchor="middle" fill="#231F20">1.0R</text>
<text x="3340" y="952.06" font-size="19.65" text-anchor="middle" fill="#231F20">13.0</text>
<text x="3448.25" y="952.06" font-size="19.65" text-anchor="middle" fill="#231F20">26</text>
<text x="3558.25" y="952.06" font-size="19.65" text-anchor="middle" fill="#231F20">75</text>
<text x="3657.25" y="952.06" font-size="19.65" text-anchor="middle" fill="#231F20">12</text>
<text x="3755.5" y="952.06" font-size="19.65" text-anchor="middle" fill="#231F20">4</text>
<rect x="2913.5" y="960.02" width="891" height="26.12" fill="#E6E7E8"/>
<text x="3008" y="979.58" font-size="19.65" text-anchor="middle" fill="#231F20">EPCRC41201526U</text>
<text x="3150" y="979.58" font-size="19.65" text-anchor="middle" fill="#231F20">12.0</text>
<text x="3244.75" y="979.58" font-size="19.65" text-anchor="middle" fill="#231F20">1.5R</text>
<text x="3340" y="979.58" font-size="19.65" text-anchor="middle" fill="#231F20">13.0</text>
<text x="3448.25" y="979.58" font-size="19.65" text-anchor="middle" fill="#231F20">26</text>
<text x="3558.25" y="979.58" font-size="19.65" text-anchor="middle" fill="#231F20">75</text>
<text x="3657.25" y="979.58" font-size="19.65" text-anchor="middle" fill="#231F20">12</text>
<text x="3755.5" y="979.58" font-size="19.65" text-anchor="middle" fill="#231F20">4</text>
<text x="3008" y="1007.1" font-size="19.65" text-anchor="middle" fill="#231F20">EPCRC41202026U</text>
<text x="3150" y="1007.1" font-size="19.65" text-anchor="middle" fill="#231F20">12.0</text>
<text x="3244.75" y="1007.1" font-size="19.65" text-anchor="middle" fill="#231F20">2.0R</text>
<text x="3340" y="1007.1" font-size="19.65" text-anchor="middle" fill="#231F20">13.0</text>
<text x="3448.25" y="1007.1" font-size="19.65" text-anchor="middle" fill="#231F20">26</text>
<text x="3558.25" y="1007.1" font-size="19.65" text-anchor="middle" fill="#231F20">75</text>
<text x="3657.25" y="1007.1" font-size="19.65" text-anchor="middle" fill="#231F20">12</text>
<text x="3755.5" y="1007.1" font-size="19.65" text-anchor="middle" fill="#231F20">4</text>
<text x="86.6" y="94.2" font-size="43" font-weight="bold" fill="#231F20" letter-spacing="2.6">EPCBC4</text>
<text x="86.6" y="136" font-size="43" font-weight="bold" fill="#231F20" letter-spacing="2.6">EPCRC4</text>
<text x="1364.4" y="94.8" font-size="43" font-weight="bold" fill="#231F20" letter-spacing="1.4">EPCBC4</text>
<text x="1364.4" y="135.6" font-size="43" font-weight="bold" fill="#231F20" letter-spacing="1.4">EPCRC4</text>
<text x="2623.8" y="96.8" font-size="43" font-weight="bold" fill="#231F20" letter-spacing="2.4">EPCBC4</text>
<text x="2623.8" y="139" font-size="43" font-weight="bold" fill="#231F20" letter-spacing="2.4">EPCRC4</text>
<rect x="13.2" y="208.7" width="38.7" height="38.7" rx="6" fill="#27AAE1"/>
<text x="32.55" y="238.05" font-size="28" text-anchor="middle" fill="#FFFFFF">P</text>
<rect x="24.1" y="256.4" width="16.3" height="16.3" fill="none" stroke="#231F20" stroke-width="1.6"/>
<path d="M25.3,261.78 L32.58,270.74 L39.26,252.49" fill="none" stroke="#231F20" stroke-width="2"/>
<rect x="71.5" y="208.7" width="38.7" height="38.7" rx="6" fill="#F9A831"/>
<text x="90.85" y="238.05" font-size="28" text-anchor="middle" fill="#FFFFFF">M</text>
<rect x="82.4" y="256.4" width="16.3" height="16.3" fill="none" stroke="#231F20" stroke-width="1.6"/>
<path d="M83.6,261.78 L90.88,270.74 L97.56,252.49" fill="none" stroke="#231F20" stroke-width="2"/>
<rect x="129.8" y="208.7" width="38.7" height="38.7" rx="6" fill="#D2232A"/>
<text x="149.15" y="238.05" font-size="28" text-anchor="middle" fill="#FFFFFF">K</text>
<rect x="140.7" y="256.4" width="16.3" height="16.3" fill="none" stroke="#231F20" stroke-width="1.6"/>
<path d="M141.9,261.78 L149.18,270.74 L155.86,252.49" fill="none" stroke="#231F20" stroke-width="2"/>
<rect x="188.1" y="208.7" width="38.7" height="38.7" rx="6" fill="#21B573"/>
<text x="207.45" y="238.05" font-size="28" text-anchor="middle" fill="#FFFFFF">N</text>
<rect x="199" y="256.4" width="16.3" height="16.3" fill="none" stroke="#231F20" stroke-width="1.6"/>
<rect x="246.4" y="208.7" width="38.7" height="38.7" rx="6" fill="#C69C6D"/>
<text x="265.75" y="238.05" font-size="28" text-anchor="middle" fill="#FFFFFF">S</text>
<rect x="257.3" y="256.4" width="16.3" height="16.3" fill="none" stroke="#231F20" stroke-width="1.6"/>
<rect x="304.7" y="208.7" width="38.7" height="38.7" rx="6" fill="#939598"/>
<text x="324.05" y="238.05" font-size="28" text-anchor="middle" fill="#FFFFFF">H</text>
<rect x="315.6" y="256.4" width="16.3" height="16.3" fill="none" stroke="#231F20" stroke-width="1.6"/>
<path d="M316.8,261.78 L324.08,270.74 L330.76,252.49" fill="none" stroke="#231F20" stroke-width="2"/>
<rect x="1293" y="206.2" width="37.8" height="37.8" rx="6" fill="#27AAE1"/>
<text x="1311.9" y="235.1" font-size="28" text-anchor="middle" fill="#FFFFFF">P</text>
<rect x="1303.45" y="252.3" width="16.3" height="16.3" fill="none" stroke="#231F20" stroke-width="1.6"/>
<path d="M1304.65,257.68 L1311.93,266.64 L1318.61,248.39" fill="none" stroke="#231F20" stroke-width="2"/>
<rect x="1349.95" y="206.2" width="37.8" height="37.8" rx="6" fill="#F9A831"/>
<text x="1368.85" y="235.1" font-size="28" text-anchor="middle" fill="#FFFFFF">M</text>
<rect x="1360.4" y="252.3" width="16.3" height="16.3" fill="none" stroke="#231F20" stroke-width="1.6"/>
<path d="M1361.6,257.68 L1368.88,266.64 L1375.56,248.39" fill="none" stroke="#231F20" stroke-width="2"/>
<rect x="1406.9" y="206.2" width="37.8" height="37.8" rx="6" fill="#D2232A"/>
<text x="1425.8" y="235.1" font-size="28" text-anchor="middle" fill="#FFFFFF">K</text>
<rect x="1417.35" y="252.3" width="16.3" height="16.3" fill="none" stroke="#231F20" stroke-width="1.6"/>
<path d="M1418.55,257.68 L1425.83,266.64 L1432.51,248.39" fill="none" stroke="#231F20" stroke-width="2"/>
<rect x="1463.85" y="206.2" width="37.8" height="37.8" rx="6" fill="#21B573"/>
<text x="1482.75" y="235.1" font-size="28" text-anchor="middle" fill="#FFFFFF">N</text>
<rect x="1474.3" y="252.3" width="16.3" height="16.3" fill="none" stroke="#231F20" stroke-width="1.6"/>
<rect x="1520.8" y="206.2" width="37.8" height="37.8" rx="6" fill="#C69C6D"/>
<text x="1539.7" y="235.1" font-size="28" text-anchor="middle" fill="#FFFFFF">S</text>
<rect x="1531.25" y="252.3" width="16.3" height="16.3" fill="none" stroke="#231F20" stroke-width="1.6"/>
<rect x="1577.75" y="206.2" width="37.8" height="37.8" rx="6" fill="#939598"/>
<text x="1596.65" y="235.1" font-size="28" text-anchor="middle" fill="#FFFFFF">H</text>
<rect x="1588.2" y="252.3" width="16.3" height="16.3" fill="none" stroke="#231F20" stroke-width="1.6"/>
<path d="M1589.4,257.68 L1596.68,266.64 L1603.36,248.39" fill="none" stroke="#231F20" stroke-width="2"/>
<rect x="2550" y="211.9" width="39.4" height="39.4" rx="6" fill="#27AAE1"/>
<text x="2569.7" y="241.6" font-size="28" text-anchor="middle" fill="#FFFFFF">P</text>
<rect x="2561.1" y="260.1" width="16.6" height="16.6" fill="none" stroke="#231F20" stroke-width="1.6"/>
<path d="M2562.3,265.58 L2569.73,274.71 L2576.54,256.12" fill="none" stroke="#231F20" stroke-width="2"/>
<rect x="2608.64" y="211.9" width="39.4" height="39.4" rx="6" fill="#F9A831"/>
<text x="2628.34" y="241.6" font-size="28" text-anchor="middle" fill="#FFFFFF">M</text>
<rect x="2619.74" y="260.1" width="16.6" height="16.6" fill="none" stroke="#231F20" stroke-width="1.6"/>
<path d="M2620.94,265.58 L2628.37,274.71 L2635.18,256.12" fill="none" stroke="#231F20" stroke-width="2"/>
<rect x="2667.28" y="211.9" width="39.4" height="39.4" rx="6" fill="#D2232A"/>
<text x="2686.98" y="241.6" font-size="28" text-anchor="middle" fill="#FFFFFF">K</text>
<rect x="2678.38" y="260.1" width="16.6" height="16.6" fill="none" stroke="#231F20" stroke-width="1.6"/>
<path d="M2679.58,265.58 L2687.01,274.71 L2693.82,256.12" fill="none" stroke="#231F20" stroke-width="2"/>
<rect x="2725.92" y="211.9" width="39.4" height="39.4" rx="6" fill="#21B573"/>
<text x="2745.62" y="241.6" font-size="28" text-anchor="middle" fill="#FFFFFF">N</text>
<rect x="2737.02" y="260.1" width="16.6" height="16.6" fill="none" stroke="#231F20" stroke-width="1.6"/>
<rect x="2784.56" y="211.9" width="39.4" height="39.4" rx="6" fill="#C69C6D"/>
<text x="2804.26" y="241.6" font-size="28" text-anchor="middle" fill="#FFFFFF">S</text>
<rect x="2795.66" y="260.1" width="16.6" height="16.6" fill="none" stroke="#231F20" stroke-width="1.6"/>
<rect x="2843.2" y="211.9" width="39.4" height="39.4" rx="6" fill="#939598"/>
<text x="2862.9" y="241.6" font-size="28" text-anchor="middle" fill="#FFFFFF">H</text>
<rect x="2854.3" y="260.1" width="16.6" height="16.6" fill="none" stroke="#231F20" stroke-width="1.6"/>
<path d="M2855.5,265.58 L2862.93,274.71 L2869.74,256.12" fill="none" stroke="#231F20" stroke-width="2"/>
<path d="M160.5,624.3 H196.2 V931.8 Q196.2,933.3 194.2,933.3 H162.5 Q160.5,933.3 160.5,931.8 Z" fill="url(#shank)"/>
<rect x="160.5" y="608.3" width="35.7" height="16" fill="url(#band)"/>
<path d="M169.8,591.3 H187.9 L196.2,608.8 H160.5 Z" fill="url(#cone)"/>
<rect x="169.8" y="384.2" width="18.1" height="209.1" fill="url(#coat)"/>
<path d="M169.8,385.7 Q169.8,383.2 172.8,383.2 H184.9 Q187.9,383.2 187.9,385.7 V433.2 L169.8,441.2 Z" fill="url(#tipg)"/>
<clipPath id="tipc169"><rect x="169.8" y="383.2" width="18.1" height="63"/></clipPath>
<g clip-path="url(#tipc169)"><g filter="url(#soft)"><polygon points="170.3,386.2 176.3,386.2 175.3,400.8 170.3,403" fill="#c9a6b4" opacity="0.75"/><polygon points="173.8,394.2 183.9,389.8 182.9,406.3 174.8,410.7" fill="#331c28" opacity="0.45"/><polygon points="187.4,405.2 187.4,410.7 170.3,428.3 170.3,420.6" fill="#c49fae" opacity="0.7"/><polygon points="187.4,417.3 187.4,421.7 171.8,439.3 171.8,433.8" fill="#3a2230" opacity="0.45"/><polygon points="184.9,426.1 187.4,426.1 187.4,432.7 175.8,443.7 172.8,440.95" fill="#b7919f" opacity="0.55"/><polygon points="170.8,383.2 175.8,383.2 175.8,387.2 170.8,388.2" fill="#2a1520" opacity="0.7"/><polygon points="181.9,383.2 186.9,383.2 186.9,388.2 181.9,387.2" fill="#2a1520" opacity="0.6"/><polygon points="176.8,382.7 180.8,382.7 180.8,386.2 176.8,386.2" fill="#d8c0ca" opacity="0.8"/></g></g>
<line x1="128.5" y1="383.2" x2="160" y2="383.2" stroke="#231F20" stroke-width="1.2"/>
<line x1="196.9" y1="383.2" x2="259.6" y2="383.2" stroke="#231F20" stroke-width="1.2"/>
<line x1="144.4" y1="389.2" x2="144.4" y2="927.3" stroke="#231F20" stroke-width="1.2"/>
<path d="M144.4,383.2 L148,390.8 L140.8,390.8 Z" fill="#231F20"/>
<path d="M144.4,933.3 L140.8,925.7 L148,925.7 Z" fill="#231F20"/>
<line x1="129.3" y1="933.3" x2="160.5" y2="933.3" stroke="#231F20" stroke-width="1.2"/>
<line x1="212.5" y1="389.2" x2="212.5" y2="432.2" stroke="#231F20" stroke-width="1.2"/>
<path d="M212.5,383.2 L216.1,390.8 L208.9,390.8 Z" fill="#231F20"/>
<path d="M212.5,438.2 L208.9,430.6 L216.1,430.6 Z" fill="#231F20"/>
<line x1="196.9" y1="438.2" x2="228.2" y2="438.2" stroke="#231F20" stroke-width="1.2"/>
<line x1="244.2" y1="389.2" x2="244.2" y2="586.3" stroke="#231F20" stroke-width="1.2"/>
<path d="M244.2,383.2 L247.8,390.8 L240.6,390.8 Z" fill="#231F20"/>
<path d="M244.2,592.3 L240.6,584.7 L247.8,584.7 Z" fill="#231F20"/>
<line x1="196.9" y1="592.3" x2="259.6" y2="592.3" stroke="#231F20" stroke-width="1.2"/>
<line x1="169.2" y1="351" x2="169.2" y2="382.7" stroke="#231F20" stroke-width="1.2"/>
<line x1="187.5" y1="351" x2="187.5" y2="382.7" stroke="#231F20" stroke-width="1.2"/>
<line x1="141.3" y1="360" x2="163.2" y2="360" stroke="#231F20" stroke-width="1.2"/>
<path d="M169.2,360 L161.6,363.6 L161.6,356.4 Z" fill="#231F20"/>
<line x1="206.8" y1="360" x2="193.5" y2="360" stroke="#231F20" stroke-width="1.2"/>
<path d="M187.5,360 L195.1,356.4 L195.1,363.6 Z" fill="#231F20"/>
<path d="M251.2,339.9 L233.5,339.9 L194.6,377.5" fill="none" stroke="#231F20" stroke-width="1.2"/>
<path d="M190.6,381.5 L193.55,373.62 L198.56,378.79 Z" fill="#231F20"/>
<line x1="160.5" y1="933.3" x2="160.5" y2="965.6" stroke="#231F20" stroke-width="1.2"/>
<line x1="196.2" y1="933.3" x2="196.2" y2="965.6" stroke="#231F20" stroke-width="1.2"/>
<line x1="166.5" y1="950.4" x2="190.2" y2="950.4" stroke="#231F20" stroke-width="1.2"/>
<path d="M160.5,950.4 L168.1,946.8 L168.1,954 Z" fill="#231F20"/>
<path d="M196.2,950.4 L188.6,954 L188.6,946.8 Z" fill="#231F20"/>
<line x1="187.5" y1="592.8" x2="227.7" y2="661.4" stroke="#231F20" stroke-width="1.2"/>
<path d="M202.4,664.5 Q209.75,659.85 217.1,658" fill="none" stroke="#231F20" stroke-width="1.2"/>
<path d="M197.4,666.3 L202.22,660.4 L204.99,665.72 Z" fill="#231F20"/>
<path d="M222.1,656.4 L216.17,661.17 L214.55,655.39 Z" fill="#231F20"/>
<text x="172.2" y="348.2" font-size="22" fill="#231F20">d</text>
<text x="255.7" y="348.2" font-size="22" fill="#231F20">R</text>
<text x="215.6" y="419.8" font-size="22" fill="#231F20">L1</text>
<text x="258" y="496.6" font-size="22" fill="#231F20">L2</text>
<text x="110" y="667" font-size="22" fill="#231F20">L</text>
<text x="205.5" y="691.6" font-size="22" fill="#231F20">15°</text>
<text x="170.8" y="985.4" font-size="22" fill="#231F20">D</text>
<path d="M1437.1,613.9 H1472.6 V913 Q1472.6,914.5 1470.6,914.5 H1439.1 Q1437.1,914.5 1437.1,913 Z" fill="url(#shank)"/>
<rect x="1437.1" y="601.4" width="35.5" height="12.5" fill="url(#band)"/>
<path d="M1446.1,579.6 H1464.9 L1472.6,601.9 H1437.1 Z" fill="url(#cone)"/>
<rect x="1446.1" y="378" width="18.8" height="203.6" fill="url(#coat)"/>
<path d="M1446.1,379.5 Q1446.1,377 1449.1,377 H1461.9 Q1464.9,377 1464.9,379.5 V426.1 L1446.1,434.1 Z" fill="url(#tipg)"/>
<clipPath id="tipc1446"><rect x="1446.1" y="377" width="18.8" height="62.1"/></clipPath>
<g clip-path="url(#tipc1446)"><g filter="url(#soft)"><polygon points="1446.6,380 1452.6,380 1451.6,394.31 1446.6,396.48" fill="#c9a6b4" opacity="0.75"/><polygon points="1450.1,387.82 1460.9,383.49 1459.9,399.72 1451.1,404.05" fill="#331c28" opacity="0.45"/><polygon points="1464.4,398.64 1464.4,404.05 1446.6,421.36 1446.6,413.79" fill="#c49fae" opacity="0.7"/><polygon points="1464.4,410.54 1464.4,414.87 1448.1,432.18 1448.1,426.77" fill="#3a2230" opacity="0.45"/><polygon points="1461.9,419.2 1464.4,419.2 1464.4,425.69 1452.1,436.51 1449.1,433.81" fill="#b7919f" opacity="0.55"/><polygon points="1447.1,377 1452.1,377 1452.1,381 1447.1,382" fill="#2a1520" opacity="0.7"/><polygon points="1458.9,377 1463.9,377 1463.9,382 1458.9,381" fill="#2a1520" opacity="0.6"/><polygon points="1453.1,376.5 1457.1,376.5 1457.1,380 1453.1,380" fill="#d8c0ca" opacity="0.8"/></g></g>
<line x1="1405.6" y1="377" x2="1435.6" y2="377" stroke="#231F20" stroke-width="1.2"/>
<line x1="1471.7" y1="377" x2="1533.8" y2="377" stroke="#231F20" stroke-width="1.2"/>
<line x1="1421.2" y1="383" x2="1421.2" y2="908.5" stroke="#231F20" stroke-width="1.2"/>
<path d="M1421.2,377 L1424.8,384.6 L1417.6,384.6 Z" fill="#231F20"/>
<path d="M1421.2,914.5 L1417.6,906.9 L1424.8,906.9 Z" fill="#231F20"/>
<line x1="1406" y1="914.5" x2="1437.1" y2="914.5" stroke="#231F20" stroke-width="1.2"/>
<line x1="1487.4" y1="383" x2="1487.4" y2="425.1" stroke="#231F20" stroke-width="1.2"/>
<path d="M1487.4,377 L1491,384.6 L1483.8,384.6 Z" fill="#231F20"/>
<path d="M1487.4,431.1 L1483.8,423.5 L1491,423.5 Z" fill="#231F20"/>
<line x1="1472.6" y1="431.1" x2="1502.5" y2="431.1" stroke="#231F20" stroke-width="1.2"/>
<line x1="1518.7" y1="383" x2="1518.7" y2="574.6" stroke="#231F20" stroke-width="1.2"/>
<path d="M1518.7,377 L1522.3,384.6 L1515.1,384.6 Z" fill="#231F20"/>
<path d="M1518.7,580.6 L1515.1,573 L1522.3,573 Z" fill="#231F20"/>
<line x1="1471.7" y1="580.6" x2="1533.8" y2="580.6" stroke="#231F20" stroke-width="1.2"/>
<line x1="1445.2" y1="345.6" x2="1445.2" y2="376.5" stroke="#231F20" stroke-width="1.2"/>
<line x1="1463.4" y1="345.6" x2="1463.4" y2="376.5" stroke="#231F20" stroke-width="1.2"/>
<line x1="1417" y1="354.2" x2="1439.2" y2="354.2" stroke="#231F20" stroke-width="1.2"/>
<path d="M1445.2,354.2 L1437.6,357.8 L1437.6,350.6 Z" fill="#231F20"/>
<line x1="1482.6" y1="354.2" x2="1469.4" y2="354.2" stroke="#231F20" stroke-width="1.2"/>
<path d="M1463.4,354.2 L1471,350.6 L1471,357.8 Z" fill="#231F20"/>
<path d="M1525.3,334.2 L1508.2,334.2 L1470.9,371.5" fill="none" stroke="#231F20" stroke-width="1.2"/>
<path d="M1466.9,375.5 L1469.73,367.58 L1474.82,372.67 Z" fill="#231F20"/>
<line x1="1437.1" y1="914.5" x2="1437.1" y2="946.4" stroke="#231F20" stroke-width="1.2"/>
<line x1="1472.6" y1="914.5" x2="1472.6" y2="946.4" stroke="#231F20" stroke-width="1.2"/>
<line x1="1443.1" y1="931.3" x2="1466.6" y2="931.3" stroke="#231F20" stroke-width="1.2"/>
<path d="M1437.1,931.3 L1444.7,927.7 L1444.7,934.9 Z" fill="#231F20"/>
<path d="M1472.6,931.3 L1465,934.9 L1465,927.7 Z" fill="#231F20"/>
<line x1="1469.8" y1="580.6" x2="1501.8" y2="645.8" stroke="#231F20" stroke-width="1.2"/>
<path d="M1478.8,652 Q1486.4,647.3 1494,645.4" fill="none" stroke="#231F20" stroke-width="1.2"/>
<path d="M1473.8,653.8 L1478.65,647.92 L1481.4,653.26 Z" fill="#231F20"/>
<path d="M1499,643.8 L1493.06,648.56 L1491.45,642.78 Z" fill="#231F20"/>
<text x="1448" y="342" font-size="22" fill="#231F20">d</text>
<text x="1528.3" y="342" font-size="22" fill="#231F20">R</text>
<text x="1489.5" y="412.6" font-size="22" fill="#231F20">L1</text>
<text x="1532.3" y="487.2" font-size="22" fill="#231F20">L2</text>
<text x="1387.5" y="652.6" font-size="22" fill="#231F20">L</text>
<text x="1480.6" y="679" font-size="22" fill="#231F20">15°</text>
<text x="1447.3" y="965.2" font-size="22" fill="#231F20">D</text>
<path d="M2699.1,629.9 H2735.1 V939.8 Q2735.1,941.3 2733.1,941.3 H2701.1 Q2699.1,941.3 2699.1,939.8 Z" fill="url(#shank)"/>
<rect x="2699.1" y="619.4" width="36" height="10.5" fill="url(#band)"/>
<path d="M2707.8,597 H2726.2 L2735.1,619.9 H2699.1 Z" fill="url(#cone)"/>
<rect x="2707.8" y="388.8" width="18.4" height="210.2" fill="url(#coat)"/>
<path d="M2707.8,390.3 Q2707.8,387.8 2710.8,387.8 H2723.2 Q2726.2,387.8 2726.2,390.3 V438.1 L2707.8,446.1 Z" fill="url(#tipg)"/>
<clipPath id="tipc2707"><rect x="2707.8" y="387.8" width="18.4" height="63.3"/></clipPath>
<g clip-path="url(#tipc2707)"><g filter="url(#soft)"><polygon points="2708.3,390.8 2714.3,390.8 2713.3,405.5 2708.3,407.71" fill="#c9a6b4" opacity="0.75"/><polygon points="2711.8,398.86 2722.2,394.44 2721.2,411.03 2712.8,415.45" fill="#331c28" opacity="0.45"/><polygon points="2725.7,409.92 2725.7,415.45 2708.3,433.15 2708.3,425.4" fill="#c49fae" opacity="0.7"/><polygon points="2725.7,422.09 2725.7,426.51 2709.8,444.21 2709.8,438.68" fill="#3a2230" opacity="0.45"/><polygon points="2723.2,430.93 2725.7,430.93 2725.7,437.57 2713.8,448.63 2710.8,445.87" fill="#b7919f" opacity="0.55"/><polygon points="2708.8,387.8 2713.8,387.8 2713.8,391.8 2708.8,392.8" fill="#2a1520" opacity="0.7"/><polygon points="2720.2,387.8 2725.2,387.8 2725.2,392.8 2720.2,391.8" fill="#2a1520" opacity="0.6"/><polygon points="2714.8,387.3 2718.8,387.3 2718.8,390.8 2714.8,390.8" fill="#d8c0ca" opacity="0.8"/></g></g>
<line x1="2667" y1="387.8" x2="2698.4" y2="387.8" stroke="#231F20" stroke-width="1.2"/>
<line x1="2735.4" y1="387.8" x2="2798.5" y2="387.8" stroke="#231F20" stroke-width="1.2"/>
<line x1="2682.1" y1="393.8" x2="2682.1" y2="935.3" stroke="#231F20" stroke-width="1.2"/>
<path d="M2682.1,387.8 L2685.7,395.4 L2678.5,395.4 Z" fill="#231F20"/>
<path d="M2682.1,941.3 L2678.5,933.7 L2685.7,933.7 Z" fill="#231F20"/>
<line x1="2667.1" y1="941.3" x2="2699.1" y2="941.3" stroke="#231F20" stroke-width="1.2"/>
<line x1="2750.5" y1="393.8" x2="2750.5" y2="437.1" stroke="#231F20" stroke-width="1.2"/>
<path d="M2750.5,387.8 L2754.1,395.4 L2746.9,395.4 Z" fill="#231F20"/>
<path d="M2750.5,443.1 L2746.9,435.5 L2754.1,435.5 Z" fill="#231F20"/>
<line x1="2735.4" y1="443.1" x2="2766.2" y2="443.1" stroke="#231F20" stroke-width="1.2"/>
<line x1="2782.5" y1="393.8" x2="2782.5" y2="592" stroke="#231F20" stroke-width="1.2"/>
<path d="M2782.5,387.8 L2786.1,395.4 L2778.9,395.4 Z" fill="#231F20"/>
<path d="M2782.5,598 L2778.9,590.4 L2786.1,590.4 Z" fill="#231F20"/>
<line x1="2735.4" y1="598" x2="2798.5" y2="598" stroke="#231F20" stroke-width="1.2"/>
<line x1="2706.6" y1="355.6" x2="2706.6" y2="387.3" stroke="#231F20" stroke-width="1.2"/>
<line x1="2725.5" y1="355.6" x2="2725.5" y2="387.3" stroke="#231F20" stroke-width="1.2"/>
<line x1="2678.5" y1="364.7" x2="2700.6" y2="364.7" stroke="#231F20" stroke-width="1.2"/>
<path d="M2706.6,364.7 L2699,368.3 L2699,361.1 Z" fill="#231F20"/>
<line x1="2745.4" y1="364.7" x2="2731.5" y2="364.7" stroke="#231F20" stroke-width="1.2"/>
<path d="M2725.5,364.7 L2733.1,361.1 L2733.1,368.3 Z" fill="#231F20"/>
<path d="M2789.6,344.2 L2772.5,344.2 L2733.7,383" fill="none" stroke="#231F20" stroke-width="1.2"/>
<path d="M2729.7,387 L2732.53,379.08 L2737.62,384.17 Z" fill="#231F20"/>
<line x1="2699.1" y1="941.3" x2="2699.1" y2="973.2" stroke="#231F20" stroke-width="1.2"/>
<line x1="2735.1" y1="941.3" x2="2735.1" y2="973.2" stroke="#231F20" stroke-width="1.2"/>
<line x1="2705.1" y1="958.4" x2="2729.1" y2="958.4" stroke="#231F20" stroke-width="1.2"/>
<path d="M2699.1,958.4 L2706.7,954.8 L2706.7,962 Z" fill="#231F20"/>
<path d="M2735.1,958.4 L2727.5,962 L2727.5,954.8 Z" fill="#231F20"/>
<line x1="2733.8" y1="598" x2="2765.7" y2="667" stroke="#231F20" stroke-width="1.2"/>
<path d="M2741.6,672 Q2749.2,666.9 2756.8,664.6" fill="none" stroke="#231F20" stroke-width="1.2"/>
<path d="M2736.6,673.8 L2741.3,667.81 L2744.18,673.07 Z" fill="#231F20"/>
<path d="M2761.8,663 L2756,667.94 L2754.23,662.2 Z" fill="#231F20"/>
<text x="2710.3" y="351.9" font-size="22" fill="#231F20">d</text>
<text x="2794" y="351.9" font-size="22" fill="#231F20">R</text>
<text x="2753.3" y="424" font-size="22" fill="#231F20">L1</text>
<text x="2797.6" y="500.9" font-size="22" fill="#231F20">L2</text>
<text x="2648.7" y="672.6" font-size="22" fill="#231F20">L</text>
<text x="2743.4" y="699" font-size="22" fill="#231F20">15°</text>
<text x="2710.3" y="993.2" font-size="22" fill="#231F20">D</text>
<use href="#pi1" x="13.2" y="1043.7" width="62.2" height="62.2"/>
<use href="#pi2" x="103.1" y="1043.7" width="62.2" height="62.2"/>
<use href="#pi3" x="192.3" y="1043.7" width="62.2" height="62.2"/>
<use href="#pi4" x="282.4" y="1043.7" width="62.2" height="62.2"/>
<use href="#pi5" x="13.2" y="1125" width="62.2" height="62.2"/>
<use href="#pi6" x="103.1" y="1125" width="62.2" height="62.2"/>
<use href="#bi1" x="13.2" y="1221.8" width="61.2" height="61.2"/>
<use href="#bi2" x="103.1" y="1221.8" width="61.2" height="61.2"/>
<use href="#bi3" x="192.3" y="1221.8" width="61.2" height="61.2"/>
<use href="#bi4" x="282.4" y="1221.8" width="61.2" height="61.2"/>
<use href="#bi5" x="13.2" y="1303" width="61.2" height="61.2"/>
<use href="#bi6" x="103.1" y="1303" width="61.2" height="61.2"/>
<use href="#pi1" x="1292.5" y="1021.4" width="60.8" height="60.8"/>
<use href="#pi2" x="1380.2" y="1021.4" width="60.8" height="60.8"/>
<use href="#pi3" x="1468.2" y="1021.4" width="60.8" height="60.8"/>
<use href="#pi4" x="1555.6" y="1021.4" width="60.8" height="60.8"/>
<use href="#pi5" x="1292.5" y="1101.6" width="60.8" height="60.8"/>
<use href="#pi6" x="1380.2" y="1101.6" width="60.8" height="60.8"/>
<use href="#bi1" x="1292.5" y="1196.4" width="60.2" height="60.2"/>
<use href="#bi2" x="1380.2" y="1196.4" width="60.2" height="60.2"/>
<use href="#bi3" x="1468.2" y="1196.4" width="60.2" height="60.2"/>
<use href="#bi4" x="1555.6" y="1196.4" width="60.2" height="60.2"/>
<use href="#bi5" x="1292.5" y="1275.8" width="60.2" height="60.2"/>
<use href="#bi6" x="1380.2" y="1275.8" width="60.2" height="60.2"/>
<use href="#pi1" x="2550.3" y="1052.5" width="62.4" height="62.4"/>
<use href="#pi2" x="2640.8" y="1052.5" width="62.4" height="62.4"/>
<use href="#pi3" x="2731" y="1052.5" width="62.4" height="62.4"/>
<use href="#pi4" x="2821.4" y="1052.5" width="62.4" height="62.4"/>
<use href="#pi5" x="2550.3" y="1134" width="62.4" height="62.4"/>
<use href="#pi6" x="2640.8" y="1134" width="62.4" height="62.4"/>
<use href="#bi1" x="2550.3" y="1231.8" width="61.6" height="61.6"/>
<use href="#bi2" x="2640.8" y="1231.8" width="61.6" height="61.6"/>
<use href="#bi3" x="2731" y="1231.8" width="61.6" height="61.6"/>
<use href="#bi4" x="2821.4" y="1231.8" width="61.6" height="61.6"/>
<use href="#bi5" x="2550.3" y="1313.6" width="61.6" height="61.6"/>
<use href="#bi6" x="2640.8" y="1313.6" width="61.6" height="61.6"/>
<rect x="13.4" y="1404.3" width="330.5" height="33.6" fill="#D1D3D4"/>
<rect x="13.4" y="1404.3" width="330.5" height="67.8" fill="none" stroke="#231F20" stroke-width="1.6"/>
<line x1="13.4" y1="1437.9" x2="343.9" y2="1437.9" stroke="#231F20" stroke-width="1.6"/>
<line x1="153.3" y1="1404.3" x2="153.3" y2="1472.1" stroke="#231F20" stroke-width="1.6"/>
<text x="83.35" y="1428.43" font-size="19.19" text-anchor="middle" fill="#231F20">d</text>
<text x="247.6" y="1428.43" font-size="19.19" text-anchor="middle" fill="#231F20">Tolerancja</text>
<text x="83.35" y="1461.63" font-size="19.19" text-anchor="middle" fill="#231F20">Ø</text>
<text x="246.6" y="1461.63" font-size="19.19" text-anchor="middle" fill="#231F20">0 ~ 0.02</text>
<rect x="1293.4" y="1374.9" width="322.6" height="33.5" fill="#D1D3D4"/>
<rect x="1293.4" y="1374.9" width="322.6" height="67" fill="none" stroke="#231F20" stroke-width="1.6"/>
<line x1="1293.4" y1="1408.4" x2="1616" y2="1408.4" stroke="#231F20" stroke-width="1.6"/>
<line x1="1429.5" y1="1374.9" x2="1429.5" y2="1441.9" stroke="#231F20" stroke-width="1.6"/>
<text x="1361.45" y="1399.04" font-size="18.96" text-anchor="middle" fill="#231F20">d</text>
<text x="1521.75" y="1399.04" font-size="18.96" text-anchor="middle" fill="#231F20">Tolerancja</text>
<text x="1361.45" y="1431.55" font-size="18.96" text-anchor="middle" fill="#231F20">Ø</text>
<text x="1520.75" y="1431.55" font-size="18.96" text-anchor="middle" fill="#231F20">0 ~ 0.02</text>
<rect x="2550.3" y="1414.7" width="332.9" height="34.8" fill="#D1D3D4"/>
<rect x="2550.3" y="1414.7" width="332.9" height="69.2" fill="none" stroke="#231F20" stroke-width="1.6"/>
<line x1="2550.3" y1="1449.5" x2="2883.2" y2="1449.5" stroke="#231F20" stroke-width="1.6"/>
<line x1="2690.9" y1="1414.7" x2="2690.9" y2="1483.9" stroke="#231F20" stroke-width="1.6"/>
<text x="2620.6" y="1439.83" font-size="19.58" text-anchor="middle" fill="#231F20">d</text>
<text x="2786.05" y="1439.83" font-size="19.58" text-anchor="middle" fill="#231F20">Tolerancja</text>
<text x="2620.6" y="1473.21" font-size="19.58" text-anchor="middle" fill="#231F20">Ø</text>
<text x="2785.05" y="1473.21" font-size="19.58" text-anchor="middle" fill="#231F20">0 ~ 0.02</text>
<rect x="2913.5" y="1027.6" width="182.7" height="52.6" fill="#BCBEC0"/>
<rect x="3098.4" y="1027.6" width="352" height="52.6" fill="#BCBEC0"/>
<rect x="3452.6" y="1027.6" width="352.2" height="52.6" fill="#BCBEC0"/>
<rect x="2913.5" y="1082.8" width="182.7" height="29.4" fill="#E6E7E8"/>
<rect x="3098.4" y="1082.8" width="352" height="29.4" fill="#E6E7E8"/>
<rect x="3452.6" y="1082.8" width="352.2" height="29.4" fill="#E6E7E8"/>
<rect x="2913.5" y="1114.8" width="182.7" height="29.1" fill="#E6E7E8"/>
<rect x="3098.4" y="1114.8" width="352" height="29.1" fill="#E6E7E8"/>
<rect x="3452.6" y="1114.8" width="352.2" height="29.1" fill="#E6E7E8"/>
<rect x="2913.5" y="1146.7" width="182.7" height="38.5" fill="#BCBEC0"/>
<rect x="3098.4" y="1146.7" width="175.1" height="38.5" fill="#BCBEC0"/>
<rect x="3275.7" y="1146.7" width="174.7" height="38.5" fill="#BCBEC0"/>
<rect x="3452.6" y="1146.7" width="175" height="38.5" fill="#BCBEC0"/>
<rect x="3629.8" y="1146.7" width="175" height="38.5" fill="#BCBEC0"/>
<text x="3005.3" y="1048.7" font-size="16.4" text-anchor="middle" fill="#2d2b2c">MATERIAŁ</text>
<text x="3005.3" y="1070.7" font-size="16.4" text-anchor="middle" fill="#2d2b2c">ROBOCZY</text>
<text x="3261.6" y="1048.7" font-size="16.4" text-anchor="middle" fill="#2d2b2c">STAL</text>
<text x="3261.8" y="1070.7" font-size="16.4" text-anchor="middle" fill="#2d2b2c">STOPOWA</text>
<text x="3636" y="1048.7" font-size="16.4" text-anchor="middle" fill="#2d2b2c">STAL</text>
<text x="3636" y="1070.7" font-size="16.4" text-anchor="middle" fill="#2d2b2c">HARTOWANA</text>
<text x="3000.8" y="1103.6" font-size="16.4" text-anchor="middle" fill="#2d2b2c">KOD MATERIAŁU</text>
<text x="3274.5" y="1103.6" font-size="16.4" text-anchor="middle" fill="#2d2b2c">SCM, SKT, SKD</text>
<text x="3628.6" y="1103.6" font-size="16.4" text-anchor="middle" fill="#2d2b2c">SKT, SKD</text>
<text x="3007.9" y="1134.8" font-size="16.4" text-anchor="middle" fill="#2d2b2c">TWARDOŚĆ</text>
<text x="3274.7" y="1134.8" font-size="16.4" text-anchor="middle" fill="#2d2b2c">HRC 30 ~ 45</text>
<text x="3628.9" y="1134.8" font-size="16.4" text-anchor="middle" fill="#2d2b2c">HRC 45 ~ 55</text>
<text x="3005" y="1172" font-size="16.5" text-anchor="middle" fill="#2d2b2c">ŚREDNICA</text>
<text x="3191.6" y="1172" font-size="16.5" text-anchor="middle" fill="#2d2b2c">obr/min</text>
<text x="3544.4" y="1172" font-size="16.5" text-anchor="middle" fill="#2d2b2c">obr/min</text>
<text x="3371" y="1162.5" font-size="13.9" text-anchor="middle" fill="#2d2b2c">POSUW</text>
<text x="3363.3" y="1180" font-size="13.9" text-anchor="middle" fill="#2d2b2c">(mm/min)</text>
<text x="3725" y="1162.5" font-size="13.9" text-anchor="middle" fill="#2d2b2c">POSUW</text>
<text x="3717.6" y="1180" font-size="13.9" text-anchor="middle" fill="#2d2b2c">(mm/min)</text>
<rect x="2913.5" y="1187.7" width="891.3" height="23.62" fill="#E6E7E8"/>
<text x="3005.3" y="1204.96" font-size="13.8" text-anchor="middle" fill="#2d2b2c">1.0MM</text>
<text x="3185.5" y="1204.96" font-size="13.8" text-anchor="middle" fill="#2d2b2c">11,700</text>
<text x="3363" y="1204.96" font-size="13.8" text-anchor="middle" fill="#2d2b2c">1,100</text>
<text x="3540" y="1204.96" font-size="13.8" text-anchor="middle" fill="#2d2b2c">10,200</text>
<text x="3717" y="1204.96" font-size="13.8" text-anchor="middle" fill="#2d2b2c">910</text>
<text x="3005.3" y="1229.88" font-size="13.8" text-anchor="middle" fill="#2d2b2c">1.5MM</text>
<text x="3185.5" y="1229.88" font-size="13.8" text-anchor="middle" fill="#2d2b2c">9,900</text>
<text x="3363" y="1229.88" font-size="13.8" text-anchor="middle" fill="#2d2b2c">1,100</text>
<text x="3540" y="1229.88" font-size="13.8" text-anchor="middle" fill="#2d2b2c">9,000</text>
<text x="3717" y="1229.88" font-size="13.8" text-anchor="middle" fill="#2d2b2c">1,000</text>
<rect x="2913.5" y="1237.54" width="891.3" height="23.62" fill="#E6E7E8"/>
<text x="3005.3" y="1254.8" font-size="13.8" text-anchor="middle" fill="#2d2b2c">2.0MM</text>
<text x="3185.5" y="1254.8" font-size="13.8" text-anchor="middle" fill="#2d2b2c">11,000</text>
<text x="3363" y="1254.8" font-size="13.8" text-anchor="middle" fill="#2d2b2c">1,100</text>
<text x="3540" y="1254.8" font-size="13.8" text-anchor="middle" fill="#2d2b2c">10,200</text>
<text x="3717" y="1254.8" font-size="13.8" text-anchor="middle" fill="#2d2b2c">1,020</text>
<text x="3005.3" y="1279.72" font-size="13.8" text-anchor="middle" fill="#2d2b2c">2.5MM</text>
<text x="3185.5" y="1279.72" font-size="13.8" text-anchor="middle" fill="#2d2b2c">9,200</text>
<text x="3363" y="1279.72" font-size="13.8" text-anchor="middle" fill="#2d2b2c">1,200</text>
<text x="3540" y="1279.72" font-size="13.8" text-anchor="middle" fill="#2d2b2c">8,500</text>
<text x="3717" y="1279.72" font-size="13.8" text-anchor="middle" fill="#2d2b2c">1,000</text>
<rect x="2913.5" y="1287.38" width="891.3" height="23.62" fill="#E6E7E8"/>
<text x="3005.3" y="1304.64" font-size="13.8" text-anchor="middle" fill="#2d2b2c">3.0MM</text>
<text x="3185.5" y="1304.64" font-size="13.8" text-anchor="middle" fill="#2d2b2c">9,600</text>
<text x="3363" y="1304.64" font-size="13.8" text-anchor="middle" fill="#2d2b2c">1,800</text>
<text x="3540" y="1304.64" font-size="13.8" text-anchor="middle" fill="#2d2b2c">8,900</text>
<text x="3717" y="1304.64" font-size="13.8" text-anchor="middle" fill="#2d2b2c">1,800</text>
<text x="3005.3" y="1329.56" font-size="13.8" text-anchor="middle" fill="#2d2b2c">4.0MM</text>
<text x="3185.5" y="1329.56" font-size="13.8" text-anchor="middle" fill="#2d2b2c">7,900</text>
<text x="3363" y="1329.56" font-size="13.8" text-anchor="middle" fill="#2d2b2c">1,370</text>
<text x="3540" y="1329.56" font-size="13.8" text-anchor="middle" fill="#2d2b2c">6,600</text>
<text x="3717" y="1329.56" font-size="13.8" text-anchor="middle" fill="#2d2b2c">1,330</text>
<rect x="2913.5" y="1337.22" width="891.3" height="23.62" fill="#E6E7E8"/>
<text x="3005.3" y="1354.48" font-size="13.8" text-anchor="middle" fill="#2d2b2c">6.0MM</text>
<text x="3185.5" y="1354.48" font-size="13.8" text-anchor="middle" fill="#2d2b2c">4,900</text>
<text x="3363" y="1354.48" font-size="13.8" text-anchor="middle" fill="#2d2b2c">1,470</text>
<text x="3540" y="1354.48" font-size="13.8" text-anchor="middle" fill="#2d2b2c">2,900</text>
<text x="3717" y="1354.48" font-size="13.8" text-anchor="middle" fill="#2d2b2c">850</text>
<text x="3005.3" y="1379.4" font-size="13.8" text-anchor="middle" fill="#2d2b2c">8.0MM</text>
<text x="3185.5" y="1379.4" font-size="13.8" text-anchor="middle" fill="#2d2b2c">4,000</text>
<text x="3363" y="1379.4" font-size="13.8" text-anchor="middle" fill="#2d2b2c">1,600</text>
<text x="3540" y="1379.4" font-size="13.8" text-anchor="middle" fill="#2d2b2c">2,400</text>
<text x="3717" y="1379.4" font-size="13.8" text-anchor="middle" fill="#2d2b2c">680</text>
<rect x="2913.5" y="1387.06" width="891.3" height="23.62" fill="#E6E7E8"/>
<text x="3005.3" y="1404.32" font-size="13.8" text-anchor="middle" fill="#2d2b2c">10.0MM</text>
<text x="3185.5" y="1404.32" font-size="13.8" text-anchor="middle" fill="#2d2b2c">3,200</text>
<text x="3363" y="1404.32" font-size="13.8" text-anchor="middle" fill="#2d2b2c">1,750</text>
<text x="3540" y="1404.32" font-size="13.8" text-anchor="middle" fill="#2d2b2c">1,900</text>
<text x="3717" y="1404.32" font-size="13.8" text-anchor="middle" fill="#2d2b2c">540</text>
<text x="3005.3" y="1429.24" font-size="13.8" text-anchor="middle" fill="#2d2b2c">12.0MM</text>
<text x="3185.5" y="1429.24" font-size="13.8" text-anchor="middle" fill="#2d2b2c">2,500</text>
<text x="3363" y="1429.24" font-size="13.8" text-anchor="middle" fill="#2d2b2c">1,800</text>
<text x="3540" y="1429.24" font-size="13.8" text-anchor="middle" fill="#2d2b2c">1,500</text>
<text x="3717" y="1429.24" font-size="13.8" text-anchor="middle" fill="#2d2b2c">430</text>
<rect x="2913.5" y="1436.7" width="891.3" height="25.3" fill="#E6E7E8"/>
<rect x="2913.5" y="1546.4" width="891.3" height="4.6" fill="#E6E7E8"/>
<text x="3005" y="1501" font-size="17" text-anchor="middle" fill="#2d2b2c">Frezowanie</text>
<text x="3005" y="1520.7" font-size="17" text-anchor="middle" fill="#2d2b2c">(mm)</text>
<path d="M3399.8,1487.6 H3415.9 V1512.6 H3457.5 V1487.6 H3473.5 V1534 H3399.8 Z" fill="#E6E7E8" stroke="#231F20" stroke-width="1.3"/>
<line x1="3395.6" y1="1474.5" x2="3409" y2="1474.5" stroke="#231F20" stroke-width="1.2"/>
<path d="M3415.6,1474.5 L3408.6,1477.5 L3408.6,1471.5 Z" fill="#231F20"/>
<line x1="3415.9" y1="1467" x2="3415.9" y2="1482" stroke="#231F20" stroke-width="1.2"/>
<line x1="3477.4" y1="1474.5" x2="3464" y2="1474.5" stroke="#231F20" stroke-width="1.2"/>
<path d="M3457.8,1474.5 L3464.8,1471.5 L3464.8,1477.5 Z" fill="#231F20"/>
<line x1="3457.5" y1="1467" x2="3457.5" y2="1482" stroke="#231F20" stroke-width="1.2"/>
<text x="3436.5" y="1479.5" font-size="11.5" text-anchor="middle" fill="#2d2b2c">D</text>
<line x1="3498.8" y1="1468" x2="3498.8" y2="1482" stroke="#231F20" stroke-width="1.2"/>
<path d="M3498.8,1488.4 L3495.8,1481.4 L3501.8,1481.4 Z" fill="#231F20"/>
<line x1="3490.6" y1="1488.4" x2="3507.7" y2="1488.4" stroke="#231F20" stroke-width="1.2"/>
<text x="3499" y="1504" font-size="11.5" text-anchor="middle" fill="#2d2b2c">Ad</text>
<line x1="3490.6" y1="1511.8" x2="3507.7" y2="1511.8" stroke="#231F20" stroke-width="1.2"/>
<path d="M3498.8,1511.8 L3501.8,1518.8 L3495.8,1518.8 Z" fill="#231F20"/>
<line x1="3498.8" y1="1518" x2="3498.8" y2="1533" stroke="#231F20" stroke-width="1.2"/>
</svg>
</body></html>
